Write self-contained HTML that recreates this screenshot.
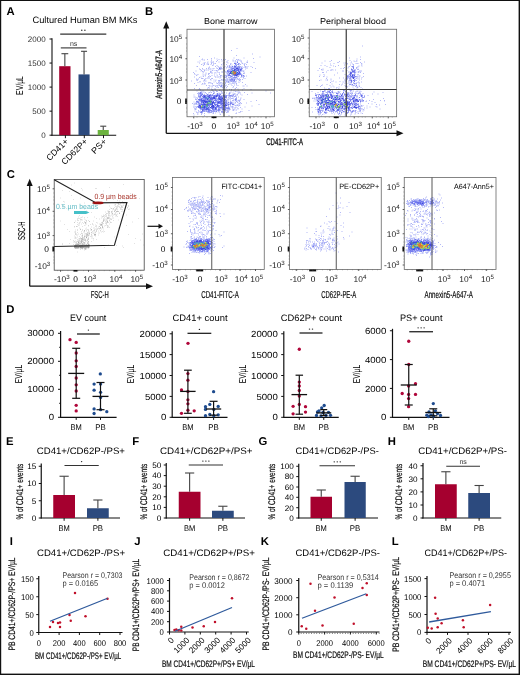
<!DOCTYPE html>
<html><head><meta charset="utf-8"><style>
html,body{margin:0;padding:0;background:#fff;width:520px;height:675px;overflow:hidden}
svg{display:block;will-change:transform}
text{font-family:"Liberation Sans",sans-serif;text-rendering:geometricPrecision}
</style></head><body>
<svg width="520" height="675" viewBox="0 0 520 675" font-family="Liberation Sans, sans-serif"><rect x="0.00" y="0.00" width="520.00" height="1.00" fill="#111"/>
<rect x="0.00" y="0.00" width="1.20" height="675.00" fill="#111"/>
<rect x="518.60" y="0.00" width="1.40" height="675.00" fill="#111"/>
<rect x="0.00" y="673.60" width="520.00" height="1.40" fill="#111"/>
<text x="6.60" y="15.10" font-size="11.3" font-weight="bold" fill="#000">A</text>
<text x="32.50" y="23.00" font-size="9.2" textLength="105" lengthAdjust="spacingAndGlyphs">Cultured Human BM MKs</text>
<line x1="52.00" y1="38.20" x2="52.00" y2="135.70" stroke="#111" stroke-width="1.1"/>
<line x1="49.50" y1="135.20" x2="52.00" y2="135.20" stroke="#111" stroke-width="1"/>
<text x="45.60" y="138.05" font-size="8.0" text-anchor="end" fill="#333">0</text>
<line x1="49.50" y1="111.15" x2="52.00" y2="111.15" stroke="#111" stroke-width="1"/>
<text x="45.60" y="114.00" font-size="8.0" text-anchor="end" fill="#333">500</text>
<line x1="49.50" y1="87.10" x2="52.00" y2="87.10" stroke="#111" stroke-width="1"/>
<text x="45.60" y="89.95" font-size="8.0" text-anchor="end" fill="#333">1000</text>
<line x1="49.50" y1="63.05" x2="52.00" y2="63.05" stroke="#111" stroke-width="1"/>
<text x="45.60" y="65.90" font-size="8.0" text-anchor="end" fill="#333">1500</text>
<line x1="49.50" y1="39.00" x2="52.00" y2="39.00" stroke="#111" stroke-width="1"/>
<text x="45.60" y="41.85" font-size="8.0" text-anchor="end" fill="#333">2000</text>
<line x1="51.50" y1="135.20" x2="116.20" y2="135.20" stroke="#111" stroke-width="1.1"/>
<rect x="59.20" y="66.20" width="11.30" height="69.00" fill="#A5002F"/>
<rect x="78.50" y="74.40" width="11.10" height="60.80" fill="#2C4A7E"/>
<rect x="97.70" y="130.00" width="11.10" height="5.20" fill="#6CB33F"/>
<line x1="64.85" y1="66.20" x2="64.85" y2="53.70" stroke="#444" stroke-width="1.1"/>
<line x1="61.45" y1="53.70" x2="68.25" y2="53.70" stroke="#444" stroke-width="1.1"/>
<line x1="84.05" y1="74.40" x2="84.05" y2="51.30" stroke="#444" stroke-width="1.1"/>
<line x1="81.05" y1="51.30" x2="87.05" y2="51.30" stroke="#444" stroke-width="1.1"/>
<line x1="103.25" y1="130.00" x2="103.25" y2="126.20" stroke="#444" stroke-width="1.1"/>
<line x1="100.25" y1="126.20" x2="106.25" y2="126.20" stroke="#444" stroke-width="1.1"/>
<line x1="65.40" y1="135.20" x2="65.40" y2="138.20" stroke="#111" stroke-width="1"/>
<line x1="84.30" y1="135.20" x2="84.30" y2="138.20" stroke="#111" stroke-width="1"/>
<line x1="103.50" y1="135.20" x2="103.50" y2="138.20" stroke="#111" stroke-width="1"/>
<line x1="60.20" y1="34.20" x2="106.30" y2="34.20" stroke="#333" stroke-width="1.2"/>
<circle cx="81.80" cy="30.30" r="0.72" fill="#222"/>
<circle cx="84.90" cy="30.30" r="0.72" fill="#222"/>
<line x1="60.80" y1="47.90" x2="86.50" y2="47.90" stroke="#333" stroke-width="1.1"/>
<text x="73.60" y="46.00" font-size="7.0" text-anchor="middle" fill="#333">ns</text>
<text x="68.90" y="142.00" font-size="8.6" text-anchor="end" textLength="27.2" lengthAdjust="spacingAndGlyphs" transform="rotate(-45 68.90 142.00)">CD41+</text>
<text x="88.10" y="142.00" font-size="8.6" text-anchor="end" textLength="33" lengthAdjust="spacingAndGlyphs" transform="rotate(-45 88.10 142.00)">CD62P+</text>
<text x="107.20" y="142.00" font-size="8.6" text-anchor="end" textLength="17.5" lengthAdjust="spacingAndGlyphs" transform="rotate(-45 107.20 142.00)">PS+</text>
<text x="23.10" y="85.50" font-size="10.2" text-anchor="middle" textLength="18.9" lengthAdjust="spacingAndGlyphs" transform="rotate(-90 23.10 85.50)">EV/µL</text>
<text x="145.00" y="15.10" font-size="11.3" font-weight="bold" fill="#000">B</text>
<line x1="166.25" y1="27.00" x2="166.25" y2="133.30" stroke="#111" stroke-width="1.3"/>
<path d="M163.2 28.5 L166.25 21.3 L169.3 28.5 Z" fill="#111"/>
<line x1="166.25" y1="133.30" x2="397.00" y2="133.30" stroke="#111" stroke-width="1.3"/>
<path d="M396.5 130.3 L403.5 133.3 L396.5 136.3 Z" fill="#111"/>
<text x="161.60" y="74.40" font-size="9.4" text-anchor="middle" textLength="48.5" lengthAdjust="spacingAndGlyphs" transform="rotate(-90 161.60 74.40)" stroke="#222" stroke-width="0.3">Annexin5-A647-A</text>
<text x="266.30" y="144.60" font-size="9.6" textLength="36.6" lengthAdjust="spacingAndGlyphs" stroke="#222" stroke-width="0.35">CD41-FITC-A</text>
<path transform="scale(0.5)" fill="none" stroke="#A8AEF6" stroke-opacity="0.85" stroke-width="2" d="M473 97h2m-13 4h2m40 7h2m-34 3h2m-76 2h2m119 1h2m-93 2h2m37 0h2m18 0h2m-67 1h2m82 0h2m-104 1h2m27 0h2m-32 1h2m9 0h2m21 0h2m3 0h2m2 0h2m2 0h2m20 0h2m2 0h2m-73 1h2m1 0h2m12 0h2m41 0h2m7 0h2m3 0h2m-47 1h2m11 0h2m6 0h2m20 0h2m-80 1h2m21 0h2m19 0h2m20 0h2m0 0h2m1 0h2m-2 0h2m2 0h2m4 0h2m0 0h2m10 0h2m-64 1h2m40 0h2m-81 1h2m18 0h2m4 0h2m2 0h2m-1 0h2m9 0h2m13 0h2m0 0h2m17 0h2m7 0h2m9 0h2m-86 1h2m12 0h2m22 0h2m20 0h2m22 0h2m-1 0h2m11 0h2m-111 1h2m7 0h2m5 0h2m6 0h2m22 0h2m7 0h2m26 0h2m-77 1h2m12 0h2m3 0h2m1 0h2m29 0h2m14 0h2m-1 0h2m4 0h2m3 0h2m-86 1h2m6 0h2m1 0h2m8 0h2m17 0h2m-1 0h2m12 0h2m8 0h2m15 0h2m-87 1h2m4 0h2m5 0h2m-1 0h2m3 0h2m19 0h2m8 0h2m6 0h2m12 0h2m-1 0h2m-1 0h2m1 0h2m-1 0h2m6 0h2m2 0h2m-68 1h2m35 0h2m5 0h2m-66 1h2m16 0h2m7 0h2m23 0h2m12 0h2m14 0h2m-47 1h2m9 0h2m1 0h2m0 0h2m7 0h2m1 0h2m-80 1h2m-1 0h2m34 0h2m3 0h2m12 0h2m3 0h2m3 0h2m4 0h2m8 0h2m3 0h2m1 0h2m4 0h2m-1 0h2m-1 0h2m2 0h2m4 0h2m-85 1h2m16 0h2m2 0h2m17 0h2m2 0h2m3 0h2m5 0h2m-60 1h2m19 0h2m6 0h2m-1 0h2m4 0h2m2 0h2m10 0h2m16 0h2m1 0h2m12 0h2m-74 1h2m5 0h2m-1 0h2m10 0h2m10 0h2m8 0h2m5 0h2m9 0h2m0 0h2m-92 1h2m6 0h2m2 0h2m7 0h2m0 0h2m5 0h2m9 0h2m17 0h2m16 0h2m0 0h2m24 0h2m-114 1h2m19 0h2m-2 0h2m0 0h2m18 0h2m0 0h2m12 0h2m4 0h2m10 0h2m13 0h2m-92 1h2m3 0h2m29 0h2m0 0h2m-32 1h2m1 0h2m0 0h2m1 0h2m7 0h2m9 0h2m8 0h2m11 0h2m21 0h2m-1 0h2m-83 1h2m4 0h2m14 0h2m3 0h2m1 0h2m-1 0h2m13 0h2m6 0h2m1 0h2m19 0h2m3 0h2m-96 1h2m8 0h2m5 0h2m11 0h2m10 0h2m19 0h2m25 0h2m4 0h2m-85 1h2m14 0h2m27 0h2m0 0h2m30 0h2m1 0h2m-83 1h2m-1 0h2m14 0h2m10 0h2m7 0h2m-2 0h2m0 0h2m-61 1h2m32 0h2m7 0h2m6 0h2m12 0h2m48 0h2m-92 1h2m9 0h2m0 0h2m5 0h2m5 0h2m12 0h2m33 0h2m-1 0h2m-102 1h2m26 0h2m0 0h2m35 0h2m29 0h2m-1 0h2m-84 1h2m4 0h2m15 0h2m-41 1h2m4 0h2m19 0h2m20 0h2m39 0h2m0 0h2m-2 0h2m0 0h2m-92 1h2m12 0h2m1 0h2m21 0h2m16 0h2m-61 1h2m29 0h2m15 0h2m0 0h2m6 0h2m3 0h2m6 0h2m-60 1h2m3 0h2m6 0h2m8 0h2m4 0h2m4 0h2m3 0h2m1 0h2m-2 0h2m9 0h2m27 0h2m2 0h2m-88 1h2m8 0h2m2 0h2m15 0h2m8 0h2m3 0h2m10 0h2m9 0h2m-1 0h2m-2 0h2m4 0h2m1 0h2m-1 0h2m0 0h2m-102 1h2m11 0h2m27 0h2m-1 0h2m7 0h2m-1 0h2m7 0h2m8 0h2m-1 0h2m22 0h2m-89 1h2m35 0h2m11 0h2m1 0h2m-2 0h2m7 0h2m4 0h2m1 0h2m10 0h2m3 0h2m-74 1h2m0 0h2m0 0h2m19 0h2m6 0h2m3 0h2m3 0h2m3 0h2m22 0h2m-86 1h2m0 0h2m-1 0h2m4 0h2m9 0h2m0 0h2m40 0h2m6 0h2m13 0h2m-99 1h2m2 0h2m12 0h2m41 0h2m-1 0h2m13 0h2m1 0h2m1 0h2m1 0h2m-2 0h2m-87 1h2m13 0h2m10 0h2m20 0h2m-1 0h2m1 0h2m-1 0h2m4 0h2m0 0h2m2 0h2m-1 0h2m1 0h2m4 0h2m4 0h2m-1 0h2m2 0h2m2 0h2m-92 1h2m25 0h2m4 0h2m2 0h2m9 0h2m2 0h2m2 0h2m-2 0h2m6 0h2m-1 0h2m-68 1h2m13 0h2m26 0h2m0 0h2m-2 0h2m-1 0h2m4 0h2m-1 0h2m9 0h2m19 0h2m-2 0h2m-98 1h2m22 0h2m1 0h2m0 0h2m17 0h2m6 0h2m10 0h2m7 0h2m7 0h2m2 0h2m3 0h2m1 0h2m-83 1h2m36 0h2m13 0h2m1 0h2m4 0h2m-1 0h2m3 0h2m1 0h2m-73 1h2m26 0h2m24 0h2m-2 0h2m0 0h2m8 0h2m3 0h2m-1 0h2m-78 1h2m20 0h2m0 0h2m15 0h2m3 0h2m-2 0h2m7 0h2m25 0h2m5 0h2m-78 1h2m6 0h2m1 0h2m0 0h2m9 0h2m4 0h2m-1 0h2m4 0h2m12 0h2m3 0h2m0 0h2m0 0h2m-1 0h2m-83 1h2m14 0h2m3 0h2m12 0h2m-1 0h2m8 0h2m5 0h2m2 0h2m3 0h2m13 0h2m5 0h2m-67 1h2m0 0h2m13 0h2m10 0h2m0 0h2m19 0h2m1 0h2m8 0h2m-71 1h2m43 0h2m6 0h2m32 0h2m-51 1h2m8 0h2m15 0h2m2 0h2m-82 1h2m18 0h2m3 0h2m7 0h2m1 0h2m2 0h2m2 0h2m-1 0h2m9 0h2m0 0h2m10 0h2m10 0h2m-59 1h2m1 0h2m1 0h2m7 0h2m-1 0h2m6 0h2m0 0h2m0 0h2m37 0h2m0 0h2m4 0h2m-65 1h2m8 0h2m5 0h2m0 0h2m3 0h2m10 0h2m-45 1h2m16 0h2m-27 1h2m15 0h2m1 0h2m6 0h2m-1 0h2m1 0h2m2 0h2m11 0h2m5 0h2m-59 1h2m1 0h2m-32 1h2m8 0h2m70 0h2m15 0h2m-75 1h2m6 0h2m4 0h2m0 0h2m13 0h2m4 0h2m16 0h2m4 0h2m-80 1h2m0 0h2m57 0h2m2 0h2m37 0h2m-103 1h2m20 0h2m0 0h2m-2 0h2m-1 0h2m3 0h2m7 0h2m21 0h2m20 0h2m-81 1h2m31 0h2m11 0h2m1 0h2m-63 1h2m6 0h2m22 0h2m5 0h2m7 0h2m24 0h2m7 0h2m53 0h2m-107 1h2m4 0h2m0 0h2m6 0h2m26 0h2m1 0h2m-73 1h2m-1 0h2m0 0h2m0 0h2m11 0h2m6 0h2m13 0h2m16 0h2m15 0h2m-83 1h2m11 0h2m6 0h2m2 0h2m3 0h2m19 0h2m-2 0h2m8 0h2m19 0h2m7 0h2m-94 1h2m1 0h2m8 0h2m5 0h2m10 0h2m7 0h2m3 0h2m0 0h2m6 0h2m6 0h2m3 0h2m8 0h2m-1 0h2m-1 0h2m24 0h2m35 0h2m-148 1h2m3 0h2m11 0h2m13 0h2m6 0h2m4 0h2m2 0h2m11 0h2m-2 0h2m-64 1h2m34 0h2m5 0h2m15 0h2m9 0h2m-1 0h2m-1 0h2m-2 0h2m9 0h2m-62 1h2m2 0h2m5 0h2m3 0h2m28 0h2m-2 0h2m5 0h2m-1 0h2m18 0h2m-109 1h2m30 0h2m1 0h2m0 0h2m13 0h2m9 0h2m5 0h2m4 0h2m1 0h2m15 0h2m-89 1h2m12 0h2m4 0h2m14 0h2m18 0h2m4 0h2m0 0h2m3 0h2m6 0h2m-75 1h2m45 0h2m3 0h2m-58 1h2m36 0h2m21 0h2m-1 0h2m0 0h2m2 0h2m-2 0h2m2 0h2m-1 0h2m-84 1h2m0 0h2m7 0h2m43 0h2m15 0h2m5 0h2m3 0h2m2 0h2m-85 1h2m2 0h2m4 0h2m51 0h2m14 0h2m-83 1h2m72 0h2m14 0h2m-89 1h2m66 0h2m0 0h2m5 0h2m-83 1h2m56 0h2m3 0h2m1 0h2m1 0h2m5 0h2m4 0h2m6 0h2m-92 1h2m0 0h2m4 0h2m55 0h2m12 0h2m16 0h2m-96 1h2m51 0h2m7 0h2m3 0h2m7 0h2m-1 0h2m5 0h2m1 0h2m-34 1h2m2 0h2m10 0h2m0 0h2m8 0h2m0 0h2m32 0h2m-121 1h2m60 0h2m15 0h2m0 0h2m1 0h2m-1 0h2m-84 1h2m28 0h2m5 0h2m37 0h2m-2 0h2m4 0h2m21 0h2m-116 1h2m55 0h2m9 0h2m8 0h2m2 0h2m-77 1h2m8 0h2m53 0h2m2 0h2m5 0h2m2 0h2m4 0h2m-86 1h2m51 0h2m5 0h2m7 0h2m10 0h2m13 0h2m-110 1h2m5 0h2m52 0h2m5 0h2m6 0h2m7 0h2m7 0h2m-1 0h2m1 0h2m-97 1h2m-1 0h2m-1 0h2m2 0h2m51 0h2m13 0h2m3 0h2m9 0h2m-88 1h2m0 0h2m2 0h2m43 0h2m11 0h2m7 0h2m51 0h2m-132 1h2m7 0h2m58 0h2m10 0h2m3 0h2m-1 0h2m1 0h2m0 0h2m-11 1h2m1 0h2m-1 0h2m2 0h2m-42 1h2m11 0h2m12 0h2m4 0h2m3 0h2m25 0h2m-114 1h2m2 0h2m64 0h2m0 0h2m-1 0h2m-80 1h2m0 0h2m1 0h2m39 0h2m1 0h2m11 0h2m6 0h2m1 0h2m4 0h2m22 0h2m-99 1h2m69 0h2m4 0h2m2 0h2m5 0h2m-63 1h2m34 0h2m1 0h2m4 0h2m-1 0h2m3 0h2m-83 1h2m-2 0h2m0 0h2m5 0h2m39 0h2m9 0h2m0 0h2m-1 0h2m2 0h2m16 0h2m-47 1h2m21 0h2m2 0h2m-1 0h2m-1 0h2m7 0h2m5 0h2m6 0h2m-96 1h2m-1 0h2m-1 0h2m7 0h2m13 0h2m10 0h2m18 0h2m10 0h2m5 0h2m-68 1h2m18 0h2m11 0h2m3 0h2m13 0h2m9 0h2m3 0h2m1 0h2m-78 1h2m34 0h2m3 0h2m14 0h2m11 0h2m29 0h2m-110 1h2m16 0h2m12 0h2m0 0h2m1 0h2m15 0h2m2 0h2m2 0h2m-56 1h2m3 0h2m4 0h2m2 0h2m10 0h2m3 0h2m-1 0h2m10 0h2m10 0h2m0 0h2m22 0h2m1 0h2m-93 1h2m3 0h2m34 0h2m2 0h2m-1 0h2m5 0h2m7 0h2m-63 1h2m0 0h2m3 0h2m-1 0h2m12 0h2m4 0h2m3 0h2m14 0h2m0 0h2m-2 0h2m-1 0h2m1 0h2m2 0h2m1 0h2m20 0h2m0 0h2m-79 1h2m13 0h2m11 0h2m13 0h2m25 0h2m-88 1h2m20 0h2m15 0h2m-1 0h2m43 0h2m-79 1h2m-1 0h2m42 0h2m-39 1h2m36 0h2m-55 1h2m19 1h2m47 0h2"/>
<path transform="scale(0.5)" fill="none" stroke="#7078EE" stroke-opacity="0.9" stroke-width="2" d="M474 125h2m-2 0h2m-8 2h2m-1 0h2m0 0h2m-3 1h2m-2 0h2m4 0h2m-2 0h2m-6 2h2m-6 2h2m2 0h2m3 0h2m-15 1h2m3 0h2m6 0h2m-21 1h2m3 0h2m5 0h2m-2 0h2m3 0h2m0 0h2m-10 1h2m2 0h2m2 0h2m-37 1h2m16 0h2m0 0h2m2 0h2m0 0h2m1 0h2m5 0h2m-2 0h2m-1 0h2m1 0h2m-1 0h2m-47 1h2m-2 0h2m23 0h2m-1 0h2m0 0h2m1 0h2m2 0h2m-35 1h2m27 0h2m1 0h2m2 0h2m3 0h2m-26 1h2m2 0h2m0 0h2m3 0h2m-1 0h2m3 0h2m-1 0h2m3 0h2m-1 0h2m-1 0h2m-22 1h2m15 0h2m-27 1h2m13 0h2m-2 0h2m5 0h2m3 0h2m-27 1h2m1 0h2m0 0h2m2 0h2m3 0h2m3 0h2m-1 0h2m0 0h2m-26 1h2m3 0h2m-2 0h2m-1 0h2m14 0h2m-1 0h2m-25 1h2m0 0h2m-2 0h2m1 0h2m-1 0h2m1 0h2m0 0h2m9 0h2m2 0h2m-25 2h2m1 0h2m1 0h2m-2 0h2m3 0h2m1 0h2m1 0h2m-2 0h2m0 0h2m0 0h2m-21 1h2m-2 0h2m0 0h2m-1 0h2m-1 0h2m5 0h2m3 0h2m3 0h2m-28 1h2m2 0h2m11 0h2m2 0h2m4 0h2m-26 1h2m4 0h2m13 0h2m-1 0h2m-2 0h2m-25 1h2m0 0h2m5 0h2m-2 0h2m4 0h2m0 0h2m2 0h2m-23 1h2m0 0h2m-1 0h2m6 0h2m-1 0h2m12 0h2m-1 0h2m1 0h2m-36 1h2m1 0h2m3 0h2m6 0h2m5 0h2m5 0h2m-22 1h2m5 1h2m1 0h2m-1 0h2m-18 1h2m8 0h2m2 0h2m-9 1h2m3 0h2m-2 0h2m-12 2h2m1 0h2m-1 0h2m-2 1h2m0 0h2m1 0h2m-9 1h2m1 0h2m1 0h2m-16 1h2m6 0h2m5 0h2m-9 1h2m1 0h2m0 0h2m-1 0h2m-13 2h2m-1 0h2m-16 6h2m-4 2h2m-1 0h2m-44 13h2m-1 0h2m-4 2h2m-1 0h2m1 0h2m21 0h2m6 0h2m-39 1h2m2 0h2m0 0h2m33 0h2m18 0h2m-56 1h2m8 0h2m18 0h2m4 0h2m-45 1h2m1 0h2m-1 0h2m-1 0h2m-1 0h2m2 0h2m-1 0h2m3 0h2m1 0h2m1 0h2m-1 0h2m3 0h2m7 0h2m-1 0h2m2 0h2m5 0h2m17 0h2m-65 1h2m2 0h2m0 0h2m1 0h2m10 0h2m0 0h2m1 0h2m-2 0h2m4 0h2m1 0h2m-2 0h2m-2 0h2m7 0h2m7 0h2m2 0h2m0 0h2m-64 1h2m-1 0h2m-1 0h2m6 0h2m-1 0h2m-1 0h2m0 0h2m-1 0h2m-1 0h2m0 0h2m3 0h2m1 0h2m2 0h2m-2 0h2m11 0h2m1 0h2m-2 0h2m-1 0h2m0 0h2m-2 0h2m1 0h2m-2 0h2m-2 0h2m9 0h2m1 0h2m3 0h2m-75 1h2m0 0h2m-1 0h2m2 0h2m0 0h2m6 0h2m5 0h2m6 0h2m-2 0h2m-1 0h2m-1 0h2m-1 0h2m3 0h2m-2 0h2m-1 0h2m2 0h2m-44 1h2m9 0h2m-2 0h2m3 0h2m1 0h2m-1 0h2m4 0h2m3 0h2m7 0h2m6 0h2m-2 0h2m0 0h2m-2 0h2m0 0h2m-55 1h2m5 0h2m0 0h2m-1 0h2m0 0h2m0 0h2m6 0h2m6 0h2m6 0h2m5 0h2m2 0h2m-1 0h2m0 0h2m-48 1h2m-1 0h2m1 0h2m-2 0h2m0 0h2m2 0h2m0 0h2m-2 0h2m1 0h2m0 0h2m1 0h2m5 0h2m7 0h2m1 0h2m-1 0h2m4 0h2m6 0h2m-62 1h2m2 0h2m-2 0h2m4 0h2m5 0h2m2 0h2m3 0h2m-2 0h2m0 0h2m0 0h2m2 0h2m1 0h2m0 0h2m4 0h2m2 0h2m21 0h2m-72 1h2m-1 0h2m-1 0h2m2 0h2m9 0h2m1 0h2m0 0h2m3 0h2m0 0h2m-2 0h2m4 0h2m-1 0h2m0 0h2m0 0h2m-47 1h2m-1 0h2m-1 0h2m2 0h2m-1 0h2m5 0h2m2 0h2m-2 0h2m3 0h2m1 0h2m9 0h2m8 0h2m2 0h2m-1 0h2m-1 0h2m-1 0h2m19 0h2m-74 1h2m9 0h2m-1 0h2m1 0h2m2 0h2m3 0h2m-1 0h2m0 0h2m2 0h2m-2 0h2m-1 0h2m1 0h2m1 0h2m1 0h2m-2 0h2m2 0h2m-1 0h2m1 0h2m20 0h2m-1 0h2m-74 1h2m1 0h2m0 0h2m0 0h2m-1 0h2m1 0h2m-1 0h2m0 0h2m1 0h2m3 0h2m-2 0h2m5 0h2m1 0h2m-1 0h2m6 0h2m-2 0h2m-1 0h2m5 0h2m1 0h2m-56 1h2m-2 0h2m1 0h2m3 0h2m8 0h2m1 0h2m1 0h2m7 0h2m4 0h2m5 0h2m4 0h2m0 0h2m-61 1h2m0 0h2m9 0h2m6 0h2m11 0h2m6 0h2m0 0h2m0 0h2m1 0h2m2 0h2m4 0h2m-59 1h2m5 0h2m-1 0h2m-2 0h2m-2 0h2m-1 0h2m0 0h2m5 0h2m-2 0h2m-1 0h2m16 0h2m-1 0h2m2 0h2m1 0h2m1 0h2m-1 0h2m1 0h2m1 0h2m1 0h2m6 0h2m-1 0h2m-67 1h2m9 0h2m0 0h2m1 0h2m-2 0h2m0 0h2m4 0h2m3 0h2m-1 0h2m0 0h2m0 0h2m6 0h2m11 0h2m-2 0h2m3 0h2m-67 1h2m-1 0h2m3 0h2m-2 0h2m4 0h2m10 0h2m12 0h2m-2 0h2m3 0h2m-2 0h2m0 0h2m2 0h2m0 0h2m-1 0h2m0 0h2m2 0h2m-1 0h2m1 0h2m6 0h2m-1 0h2m-63 1h2m3 0h2m0 0h2m10 0h2m12 0h2m0 0h2m-2 0h2m-1 0h2m-1 0h2m0 0h2m11 0h2m5 0h2m1 0h2m-68 1h2m-1 0h2m-1 0h2m5 0h2m-1 0h2m7 0h2m1 0h2m3 0h2m-2 0h2m2 0h2m3 0h2m5 0h2m-1 0h2m-2 0h2m6 0h2m0 0h2m4 0h2m-57 1h2m0 0h2m-2 0h2m1 0h2m0 0h2m0 0h2m10 0h2m3 0h2m0 0h2m-1 0h2m-2 0h2m-2 0h2m-2 0h2m1 0h2m6 0h2m-2 0h2m2 0h2m2 0h2m1 0h2m1 0h2m-2 0h2m1 0h2m3 0h2m0 0h2m-70 1h2m0 0h2m-2 0h2m2 0h2m11 0h2m-1 0h2m10 0h2m1 0h2m0 0h2m6 0h2m4 0h2m0 0h2m7 0h2m-65 1h2m8 0h2m-2 0h2m0 0h2m0 0h2m-1 0h2m1 0h2m2 0h2m3 0h2m-1 0h2m0 0h2m1 0h2m3 0h2m2 0h2m5 0h2m1 0h2m-2 0h2m1 0h2m1 0h2m-59 1h2m-1 0h2m-1 0h2m-1 0h2m14 0h2m14 0h2m0 0h2m1 0h2m-1 0h2m2 0h2m-2 0h2m0 0h2m-1 0h2m-1 0h2m0 0h2m-1 0h2m-57 1h2m1 0h2m-2 0h2m9 0h2m3 0h2m2 0h2m3 0h2m-1 0h2m0 0h2m0 0h2m2 0h2m9 0h2m4 0h2m-56 1h2m-1 0h2m6 0h2m0 0h2m9 0h2m4 0h2m1 0h2m-2 0h2m1 0h2m5 0h2m7 0h2m9 0h2m-61 1h2m0 0h2m1 0h2m-1 0h2m-1 0h2m10 0h2m2 0h2m7 0h2m-1 0h2m0 0h2m1 0h2m1 0h2m0 0h2m-2 0h2m-2 0h2m0 0h2m-1 0h2m-1 0h2m1 0h2m1 0h2m-1 0h2m-52 1h2m0 0h2m3 0h2m1 0h2m0 0h2m0 0h2m1 0h2m7 0h2m-2 0h2m15 0h2m-1 0h2m6 0h2m-2 0h2m0 0h2m0 0h2m-59 1h2m7 0h2m3 0h2m9 0h2m-2 0h2m3 0h2m-1 0h2m4 0h2m4 0h2m0 0h2m2 0h2m4 0h2m0 0h2m-54 1h2m6 0h2m1 0h2m1 0h2m3 0h2m-2 0h2m-1 0h2m4 0h2m3 0h2m1 0h2m0 0h2m2 0h2m-1 0h2m1 0h2m-48 1h2m-2 0h2m0 0h2m1 0h2m0 0h2m-1 0h2m-1 0h2m-1 0h2m1 0h2m7 0h2m2 0h2m-2 0h2m5 0h2m0 0h2m4 0h2m0 0h2m-1 0h2m0 0h2m-1 0h2m-45 1h2m0 0h2m1 0h2m1 0h2m1 0h2m5 0h2m-1 0h2m5 0h2m1 0h2m-1 0h2m16 0h2m0 0h2m-55 1h2m-1 0h2m0 0h2m7 0h2m1 0h2m-2 0h2m0 0h2m6 0h2m4 0h2m2 0h2m8 0h2m-46 1h2m8 0h2m1 0h2m2 0h2m-1 0h2m2 0h2m-2 0h2m7 0h2m6 0h2m3 0h2m-48 1h2m-2 0h2m0 0h2m2 0h2m2 0h2m1 0h2m9 0h2m3 0h2m9 0h2m-45 1h2m13 0h2m0 0h2m-1 0h2m-1 0h2m2 0h2m-23 1h2m-1 0h2m16 0h2m-20 1h2"/>
<path transform="scale(0.5)" fill="none" stroke="#4048DC" stroke-width="2" d="M469 133h2m2 3h2m-3 1h2m0 0h2m0 1h2m-9 1h2m-2 0h2m6 0h2m-14 1h2m1 0h2m2 0h2m6 0h2m-17 1h2m0 0h2m-1 0h2m3 0h2m0 0h2m-13 1h2m0 0h2m-1 0h2m-7 1h2m5 0h2m0 0h2m-8 1h2m-1 0h2m0 0h2m0 0h2m-1 0h2m5 0h2m-20 1h2m6 0h2m-1 0h2m-1 0h2m1 0h2m-1 0h2m2 0h2m-17 1h2m3 0h2m-11 1h2m-1 0h2m-1 0h2m0 0h2m2 0h2m-1 0h2m0 0h2m-1 0h2m-1 0h2m3 0h2m-2 0h2m-8 1h2m0 0h2m1 0h2m-11 1h2m-2 0h2m0 0h2m-1 0h2m-1 0h2m1 0h2m-1 0h2m-8 1h2m-1 0h2m-1 0h2m-2 1h2m-1 0h2m-1 0h2m-57 40h2m-1 0h2m10 0h2m0 0h2m-28 1h2m24 0h2m3 0h2m-32 1h2m-2 0h2m-1 0h2m6 0h2m8 0h2m3 0h2m5 0h2m-25 1h2m0 0h2m-13 1h2m1 0h2m-1 0h2m5 0h2m5 0h2m-1 0h2m0 0h2m7 0h2m2 0h2m-21 1h2m1 0h2m1 0h2m-1 0h2m6 0h2m2 0h2m-32 1h2m1 0h2m0 0h2m9 0h2m-2 0h2m-1 0h2m14 0h2m-33 1h2m-2 0h2m0 0h2m-2 0h2m-2 0h2m3 0h2m-1 0h2m1 0h2m11 0h2m-1 0h2m-1 0h2m-2 0h2m1 0h2m-1 0h2m-44 1h2m4 0h2m5 0h2m23 0h2m-1 0h2m-1 0h2m-44 1h2m2 1h2m2 0h2m-2 0h2m10 0h2m22 0h2m-42 1h2m0 0h2m1 0h2m7 0h2m0 0h2m21 0h2m-37 1h2m-1 0h2m0 0h2m0 0h2m2 0h2m-1 0h2m0 0h2m-2 0h2m-2 0h2m-1 0h2m0 0h2m15 0h2m-38 1h2m7 0h2m0 0h2m-2 0h2m-1 0h2m2 0h2m2 0h2m-2 0h2m0 0h2m-1 0h2m13 0h2m2 0h2m-41 1h2m2 0h2m12 0h2m0 0h2m7 0h2m-1 0h2m1 0h2m-34 1h2m5 0h2m5 0h2m0 0h2m23 0h2m-35 1h2m-2 0h2m0 0h2m5 0h2m1 0h2m14 0h2m0 0h2m-44 1h2m5 0h2m0 0h2m3 0h2m0 0h2m1 0h2m-1 0h2m-1 0h2m-2 0h2m-19 1h2m-1 0h2m1 0h2m-1 0h2m0 0h2m-2 0h2m-1 0h2m3 0h2m-1 0h2m-20 1h2m1 0h2m1 0h2m0 0h2m1 0h2m6 0h2m20 0h2m4 0h2m-54 1h2m12 0h2m-1 0h2m0 0h2m7 0h2m0 0h2m6 0h2m16 0h2m-54 1h2m10 0h2m0 0h2m9 0h2m7 0h2m-1 0h2m-1 0h2m11 0h2m-51 1h2m6 0h2m-2 0h2m12 0h2m-1 0h2m0 0h2m-1 0h2m-32 1h2m1 0h2m-1 0h2m2 0h2m-1 0h2m-1 0h2m2 0h2m-1 0h2m-1 0h2m9 0h2m-26 1h2m0 0h2m-1 0h2m-2 0h2m1 0h2m0 0h2m-2 0h2m-1 0h2m10 0h2m1 0h2m0 0h2m-1 0h2m-27 1h2m0 0h2m0 0h2m1 0h2m-1 0h2m2 0h2m1 0h2m5 0h2m4 0h2m-1 0h2m-19 1h2m8 0h2m-19 1h2m4 0h2m0 0h2m14 0h2m0 0h2m-17 1h2m-15 1h2m5 0h2"/>
<path transform="scale(0.5)" fill="none" stroke="#50B0C8" stroke-width="2" d="M465 141h2m0 3h2m-2 2h2m3 0h2m-63 49h2m2 1h2m-2 1h2m3 4h2m-6 3h2m0 2h2m-3 1h2m-1 0h2m1 1h2m-21 5h2m2 0h2m5 0h2m-10 1h2m6 0h2"/>
<path transform="scale(0.5)" fill="none" stroke="#70C060" stroke-width="2" d="M465 143h2m4 1h2m-10 1h2m-2 0h2m-2 1h2m1 1h2m0 0h2m-5 1h2m-48 53h2m-1 3h2m-1 0h2m-8 2h2m2 0h2m-6 1h2m-5 3h2m-1 0h2m-11 1h2m7 0h2m-13 3h2m-2 0h2"/>
<path transform="scale(0.5)" fill="none" stroke="#D8D040" stroke-width="2" d="M465 144h2m1 3h2m-68 66h2"/>
<path transform="scale(0.5)" fill="none" stroke="#E07030" stroke-width="2" d="M467 143h2m-3 1h2m2 1h2m-5 1h2m-1 0h2m0 0h2m-2 0h2m-5 2h2m0 0h2"/>
<rect x="187.00" y="29.25" width="87.40" height="87.50" fill="none" stroke="#666" stroke-width="0.8"/>
<line x1="224.00" y1="29.25" x2="224.00" y2="116.75" stroke="#3a3a3a" stroke-width="1.2"/>
<line x1="187.00" y1="90.00" x2="274.40" y2="90.00" stroke="#3a3a3a" stroke-width="1.2"/>
<text x="230.70" y="23.60" font-size="8.6" text-anchor="middle" textLength="53.5" lengthAdjust="spacingAndGlyphs">Bone marrow</text>
<text x="175.80" y="41.50" font-size="8.4" text-anchor="middle" fill="#222">10<tspan font-size="6.2" dy="-3.0">5</tspan></text>
<line x1="185.40" y1="38.00" x2="187.00" y2="38.00" stroke="#333" stroke-width="0.8"/>
<text x="175.80" y="62.25" font-size="8.4" text-anchor="middle" fill="#222">10<tspan font-size="6.2" dy="-3.0">4</tspan></text>
<line x1="185.40" y1="58.75" x2="187.00" y2="58.75" stroke="#333" stroke-width="0.8"/>
<text x="175.80" y="83.50" font-size="8.4" text-anchor="middle" fill="#222">10<tspan font-size="6.2" dy="-3.0">3</tspan></text>
<line x1="185.40" y1="80.00" x2="187.00" y2="80.00" stroke="#333" stroke-width="0.8"/>
<text x="179.00" y="104.25" font-size="8.4" text-anchor="middle">0</text>
<line x1="185.40" y1="101.25" x2="187.00" y2="101.25" stroke="#333" stroke-width="0.8"/>
<text x="194.95" y="129.00" font-size="8.4" text-anchor="middle" fill="#222">-10<tspan font-size="6.2" dy="-3.0">3</tspan></text>
<line x1="193.75" y1="116.75" x2="193.75" y2="118.35" stroke="#333" stroke-width="0.8"/>
<text x="233.20" y="129.00" font-size="8.4" text-anchor="middle" fill="#222">10<tspan font-size="6.2" dy="-3.0">3</tspan></text>
<line x1="232.00" y1="116.75" x2="232.00" y2="118.35" stroke="#333" stroke-width="0.8"/>
<text x="251.20" y="129.00" font-size="8.4" text-anchor="middle" fill="#222">10<tspan font-size="6.2" dy="-3.0">4</tspan></text>
<line x1="250.00" y1="116.75" x2="250.00" y2="118.35" stroke="#333" stroke-width="0.8"/>
<text x="267.20" y="129.00" font-size="8.4" text-anchor="middle" fill="#222">10<tspan font-size="6.2" dy="-3.0">5</tspan></text>
<line x1="266.00" y1="116.75" x2="266.00" y2="118.35" stroke="#333" stroke-width="0.8"/>
<text x="213.75" y="129.00" font-size="8.4" text-anchor="middle">0</text>
<line x1="213.75" y1="116.75" x2="213.75" y2="118.35" stroke="#333" stroke-width="0.8"/>
<line x1="186.10" y1="44.00" x2="187.00" y2="44.00" stroke="#666" stroke-width="0.5"/>
<line x1="186.10" y1="48.00" x2="187.00" y2="48.00" stroke="#666" stroke-width="0.5"/>
<line x1="186.10" y1="51.00" x2="187.00" y2="51.00" stroke="#666" stroke-width="0.5"/>
<line x1="186.10" y1="65.00" x2="187.00" y2="65.00" stroke="#666" stroke-width="0.5"/>
<line x1="186.10" y1="69.00" x2="187.00" y2="69.00" stroke="#666" stroke-width="0.5"/>
<line x1="186.10" y1="72.00" x2="187.00" y2="72.00" stroke="#666" stroke-width="0.5"/>
<line x1="186.10" y1="86.00" x2="187.00" y2="86.00" stroke="#666" stroke-width="0.5"/>
<line x1="186.10" y1="92.00" x2="187.00" y2="92.00" stroke="#666" stroke-width="0.5"/>
<line x1="186.10" y1="108.00" x2="187.00" y2="108.00" stroke="#666" stroke-width="0.5"/>
<line x1="186.10" y1="112.00" x2="187.00" y2="112.00" stroke="#666" stroke-width="0.5"/>
<line x1="197.00" y1="116.75" x2="197.00" y2="117.65" stroke="#666" stroke-width="0.5"/>
<line x1="203.00" y1="116.75" x2="203.00" y2="117.65" stroke="#666" stroke-width="0.5"/>
<line x1="207.00" y1="116.75" x2="207.00" y2="117.65" stroke="#666" stroke-width="0.5"/>
<line x1="236.00" y1="116.75" x2="236.00" y2="117.65" stroke="#666" stroke-width="0.5"/>
<line x1="240.00" y1="116.75" x2="240.00" y2="117.65" stroke="#666" stroke-width="0.5"/>
<line x1="243.00" y1="116.75" x2="243.00" y2="117.65" stroke="#666" stroke-width="0.5"/>
<line x1="254.00" y1="116.75" x2="254.00" y2="117.65" stroke="#666" stroke-width="0.5"/>
<line x1="258.00" y1="116.75" x2="258.00" y2="117.65" stroke="#666" stroke-width="0.5"/>
<line x1="261.00" y1="116.75" x2="261.00" y2="117.65" stroke="#666" stroke-width="0.5"/>
<line x1="270.00" y1="116.75" x2="270.00" y2="117.65" stroke="#666" stroke-width="0.5"/>
<rect x="185.20" y="98.50" width="1.60" height="5.50" fill="#111"/>
<rect x="211.50" y="116.55" width="5.00" height="1.60" fill="#111"/>
<path transform="scale(0.5)" fill="none" stroke="#A8AEF6" stroke-opacity="0.85" stroke-width="2" d="M724 92h2m-6 22h2m-24 2h2m13 2h2m5 1h2m-60 2h2m35 0h2m-52 1h2m56 0h2m3 0h2m-1 0h2m-56 1h2m17 0h2m29 0h2m-9 1h2m24 0h2m-55 1h2m-2 0h2m43 0h2m-79 1h2m42 0h2m1 0h2m9 0h2m-36 1h2m25 0h2m15 0h2m0 0h2m0 0h2m5 0h2m-64 1h2m42 0h2m17 0h2m-32 1h2m11 0h2m-20 1h2m10 0h2m4 0h2m14 0h2m-83 1h2m6 0h2m10 0h2m13 0h2m-12 1h2m38 0h2m9 0h2m4 0h2m-72 1h2m15 0h2m26 0h2m15 0h2m-21 1h2m7 0h2m-48 1h2m27 0h2m-2 0h2m15 0h2m5 0h2m-1 0h2m-20 1h2m18 0h2m-79 1h2m41 0h2m3 0h2m24 0h2m-69 1h2m-5 1h2m19 0h2m49 0h2m0 0h2m-75 1h2m0 0h2m14 0h2m2 0h2m3 0h2m38 0h2m-77 1h2m18 0h2m4 0h2m30 0h2m26 0h2m-39 1h2m0 0h2m21 0h2m7 0h2m-4 1h2m3 0h2m-71 1h2m42 0h2m15 0h2m4 0h2m-77 1h2m0 0h2m57 0h2m3 0h2m4 0h2m2 0h2m-48 1h2m50 1h2m-81 2h2m40 0h2m17 0h2m5 0h2m-78 1h2m27 0h2m45 0h2m-24 1h2m-47 1h2m68 0h2m-1 0h2m-83 1h2m6 0h2m64 0h2m1 0h2m9 0h2m-75 1h2m45 0h2m21 1h2m-47 1h2m6 0h2m4 0h2m-1 0h2m-2 0h2m20 0h2m1 0h2m-68 1h2m58 0h2m-53 1h2m52 0h2m5 0h2m-15 1h2m-70 1h2m8 0h2m1 0h2m-2 0h2m5 0h2m25 0h2m12 0h2m14 0h2m-82 1h2m51 0h2m-2 0h2m5 0h2m12 0h2m-48 1h2m28 0h2m-35 1h2m14 0h2m10 0h2m-22 1h2m12 0h2m0 0h2m1 0h2m10 0h2m3 0h2m7 0h2m4 0h2m-64 1h2m-2 0h2m35 0h2m14 0h2m2 1h2m-1 0h2m-31 1h2m4 0h2m-34 1h2m19 0h2m12 0h2m12 0h2m-61 1h2m23 0h2m19 0h2m0 0h2m6 0h2m-67 1h2m36 0h2m33 0h2m-86 1h2m7 0h2m15 0h2m28 0h2m12 0h2m0 0h2m-42 1h2m25 0h2m3 0h2m12 0h2m5 0h2m-80 1h2m48 0h2m1 0h2m15 0h2m6 0h2m-59 1h2m4 0h2m8 0h2m15 0h2m9 0h2m8 0h2m-44 1h2m39 0h2m5 0h2m-75 1h2m22 0h2m-18 1h2m0 0h2m-9 1h2m23 0h2m-1 0h2m18 0h2m8 0h2m4 0h2m9 0h2m-93 1h2m11 0h2m8 0h2m7 0h2m9 0h2m10 0h2m6 0h2m-1 0h2m21 0h2m-73 1h2m-2 0h2m37 0h2m-4 1h2m4 0h2m5 0h2m0 0h2m-1 0h2m-64 1h2m8 0h2m35 0h2m14 0h2m1 0h2m5 0h2m0 0h2m2 0h2m-98 1h2m21 0h2m28 0h2m1 0h2m9 0h2m21 0h2m6 0h2m-60 1h2m21 0h2m4 0h2m16 0h2m6 0h2m27 0h2m-114 1h2m14 0h2m16 0h2m7 0h2m85 0h2m-113 1h2m10 0h2m4 0h2m-2 0h2m29 0h2m6 0h2m-83 1h2m53 0h2m13 0h2m2 0h2m3 0h2m2 0h2m1 0h2m7 0h2m-85 1h2m0 0h2m19 0h2m12 0h2m22 0h2m10 0h2m27 0h2m9 0h2m-126 1h2m55 0h2m4 0h2m6 0h2m17 0h2m-86 1h2m1 0h2m33 0h2m45 0h2m-88 1h2m31 0h2m4 0h2m8 0h2m32 0h2m7 0h2m5 0h2m-56 1h2m21 0h2m8 0h2m-84 1h2m94 0h2m-17 1h2m8 0h2m-42 1h2m8 0h2m-70 1h2m85 0h2m1 0h2m-93 1h2m1 0h2m57 0h2m78 0h2m-140 1h2m29 0h2m-30 1h2m85 0h2m26 0h2m-116 1h2m57 0h2m28 0h2m-28 1h2m41 0h2m20 0h2m6 0h2m-143 1h2m2 0h2m93 0h2m4 0h2m34 0h2m-70 1h2m14 0h2m7 0h2m4 0h2m10 0h2m-107 1h2m109 1h2m-119 2h2m102 0h2m-104 1h2m80 0h2m2 0h2m21 0h2m7 1h2m16 0h2m-14 1h2m-124 1h2m84 0h2m1 0h2m-24 1h2m28 0h2m-87 1h2m69 0h2m2 0h2m26 0h2m-14 1h2m12 0h2m-132 1h2m5 0h2m68 0h2m14 0h2m-84 1h2m1 0h2m89 0h2m3 0h2m-14 1h2m0 0h2m34 1h2m-130 1h2m90 0h2m1 0h2m-44 1h2m41 0h2m-35 1h2m10 0h2m3 0h2m-68 1h2m11 0h2m2 0h2m3 0h2m10 0h2m26 0h2m9 0h2m0 0h2m3 0h2m-68 1h2m22 0h2m3 0h2m6 0h2m4 0h2m11 0h2m-93 1h2m14 0h2m20 0h2m6 0h2m18 0h2m-1 0h2m9 0h2m-67 1h2m3 0h2m9 0h2m11 0h2m6 0h2m-2 0h2m7 0h2m26 0h2m-78 1h2m64 0h2m7 0h2m3 0h2m4 0h2m-73 1h2m-2 0h2m11 0h2m10 0h2m13 0h2m24 0h2m6 0h2m-90 1h2m9 0h2m19 0h2m7 0h2m23 0h2m5 0h2m-72 1h2m3 0h2m30 0h2m3 0h2m-46 1h2m50 0h2m-1 0h2m8 0h2m-23 1h2m-39 1h2"/>
<path transform="scale(0.5)" fill="none" stroke="#7078EE" stroke-opacity="0.9" stroke-width="2" d="M703 133h2m0 0h2m-2 0h2m-1 2h2m-2 2h2m-6 1h2m-2 1h2m-1 0h2m-2 0h2m2 1h2m0 0h2m-8 1h2m-1 1h2m1 0h2m-5 1h2m0 0h2m-9 1h2m0 0h2m1 0h2m0 0h2m1 0h2m-9 1h2m4 0h2m-10 1h2m0 2h2m4 0h2m-1 0h2m-12 1h2m3 0h2m-9 1h2m-4 1h2m3 0h2m6 0h2m-10 1h2m2 0h2m-12 1h2m14 0h2m-12 1h2m0 0h2m1 0h2m-1 0h2m-1 0h2m4 0h2m-20 1h2m7 0h2m-11 1h2m2 0h2m-2 0h2m5 0h2m-2 0h2m1 0h2m-12 1h2m-10 1h2m1 0h2m5 0h2m-4 1h2m7 1h2m-2 0h2m-9 1h2m-2 0h2m3 0h2m1 0h2m-12 1h2m2 0h2m3 1h2m-8 1h2m-3 1h2m3 1h2m0 1h2m1 0h2m-12 1h2m-4 1h2m3 0h2m1 2h2m3 0h2m-22 2h2m-2 1h2m19 0h2m-61 5h2m-8 1h2m10 1h2m25 0h2m-34 1h2m1 0h2m4 0h2m34 0h2m-58 1h2m1 0h2m6 0h2m0 0h2m4 0h2m-19 1h2m10 0h2m-2 0h2m15 0h2m-24 1h2m2 0h2m1 0h2m2 0h2m20 0h2m-44 1h2m15 0h2m13 0h2m16 0h2m0 0h2m1 0h2m2 0h2m12 0h2m0 0h2m-49 1h2m0 0h2m8 0h2m-42 1h2m0 0h2m-1 0h2m5 0h2m3 0h2m-1 0h2m18 0h2m6 0h2m4 0h2m0 0h2m22 0h2m-87 1h2m1 0h2m-2 0h2m43 0h2m-1 0h2m5 0h2m17 0h2m-81 1h2m27 0h2m12 0h2m8 0h2m2 0h2m0 0h2m5 0h2m-2 0h2m24 0h2m-95 1h2m0 0h2m6 0h2m-1 0h2m2 0h2m-2 0h2m4 0h2m-1 0h2m2 0h2m3 0h2m-2 0h2m2 0h2m5 0h2m-1 0h2m19 0h2m3 0h2m2 0h2m3 0h2m0 0h2m11 0h2m-81 1h2m0 0h2m3 0h2m2 0h2m3 0h2m-1 0h2m-1 0h2m3 0h2m3 0h2m4 0h2m13 0h2m11 0h2m0 0h2m1 0h2m0 0h2m6 0h2m-1 0h2m0 0h2m-90 1h2m8 0h2m7 0h2m7 0h2m-2 0h2m7 0h2m4 0h2m2 0h2m0 0h2m4 0h2m-2 0h2m2 0h2m-1 0h2m1 0h2m0 0h2m-51 1h2m13 0h2m7 0h2m8 0h2m7 0h2m5 0h2m4 0h2m18 0h2m-97 1h2m-2 0h2m3 0h2m0 0h2m0 0h2m2 0h2m2 0h2m5 0h2m3 0h2m0 0h2m2 0h2m29 0h2m7 0h2m8 0h2m5 0h2m-2 0h2m-98 1h2m1 0h2m2 0h2m-1 0h2m14 0h2m14 0h2m6 0h2m27 0h2m-73 1h2m1 0h2m0 0h2m2 0h2m7 0h2m-2 0h2m1 0h2m23 0h2m-1 0h2m1 0h2m4 0h2m1 0h2m-1 0h2m2 0h2m3 0h2m0 0h2m-71 1h2m5 0h2m21 0h2m4 0h2m5 0h2m15 0h2m5 0h2m0 0h2m2 0h2m11 0h2m-78 1h2m17 0h2m4 0h2m2 0h2m11 0h2m7 0h2m0 0h2m0 0h2m10 0h2m2 0h2m-86 1h2m0 0h2m0 0h2m15 0h2m8 0h2m1 0h2m-2 0h2m4 0h2m4 0h2m0 0h2m5 0h2m15 0h2m0 0h2m4 0h2m-1 0h2m3 0h2m2 0h2m-92 1h2m16 0h2m4 0h2m27 0h2m-1 0h2m10 0h2m5 0h2m6 0h2m2 0h2m5 0h2m-82 1h2m7 0h2m4 0h2m1 0h2m7 0h2m0 0h2m3 0h2m3 0h2m5 0h2m7 0h2m2 0h2m-1 0h2m15 0h2m-2 0h2m-77 1h2m12 0h2m16 0h2m8 0h2m2 0h2m17 0h2m5 0h2m-2 0h2m-88 1h2m-1 0h2m11 0h2m0 0h2m19 0h2m3 0h2m-1 0h2m-2 0h2m1 0h2m-1 0h2m15 0h2m8 0h2m3 0h2m5 0h2m-84 1h2m5 0h2m4 0h2m24 0h2m-1 0h2m8 0h2m19 0h2m-74 1h2m2 0h2m0 0h2m7 0h2m1 0h2m2 0h2m8 0h2m20 0h2m5 0h2m2 0h2m1 0h2m-1 0h2m-71 1h2m6 0h2m15 0h2m3 0h2m10 0h2m-1 0h2m9 0h2m3 0h2m2 0h2m8 0h2m0 0h2m-81 1h2m1 0h2m2 0h2m6 0h2m0 0h2m-1 0h2m2 0h2m3 0h2m-1 0h2m1 0h2m7 0h2m0 0h2m8 0h2m14 0h2m1 0h2m-2 0h2m9 0h2m-77 1h2m34 0h2m3 0h2m1 0h2m11 0h2m-1 0h2m4 0h2m8 0h2m-82 1h2m-2 0h2m0 0h2m7 0h2m11 0h2m6 0h2m2 0h2m33 0h2m-2 0h2m2 0h2m4 0h2m-1 0h2m-76 1h2m2 0h2m18 0h2m18 0h2m0 0h2m20 0h2m-2 0h2m-70 1h2m-1 0h2m1 0h2m4 0h2m3 0h2m13 0h2m6 0h2m2 0h2m3 0h2m7 0h2m9 0h2m0 0h2m4 0h2m2 0h2m-76 1h2m6 0h2m5 0h2m23 0h2m0 0h2m2 0h2m21 0h2m0 0h2m-82 1h2m-1 0h2m2 0h2m5 0h2m-1 0h2m4 0h2m20 0h2m0 0h2m7 0h2m1 0h2m9 0h2m1 0h2m-2 0h2m6 0h2m-1 0h2m-77 1h2m2 0h2m10 0h2m6 0h2m3 0h2m24 0h2m0 0h2m2 0h2m4 0h2m4 0h2m-77 1h2m1 0h2m10 0h2m5 0h2m5 0h2m9 0h2m0 0h2m0 0h2m2 0h2m7 0h2m1 0h2m1 0h2m7 0h2m3 0h2m-1 0h2m1 0h2m-80 1h2m1 0h2m-1 0h2m-2 0h2m2 0h2m3 0h2m8 0h2m5 0h2m15 0h2m13 0h2m5 0h2m-1 0h2m-78 1h2m0 0h2m12 0h2m-2 0h2m7 0h2m1 0h2m1 0h2m0 0h2m10 0h2m-2 0h2m3 0h2m-1 0h2m4 0h2m22 0h2m-1 0h2m-84 1h2m13 0h2m8 0h2m14 0h2m9 0h2m8 0h2m-64 1h2m0 0h2m-2 0h2m-2 0h2m1 0h2m2 0h2m9 0h2m2 0h2m3 0h2m6 0h2m-1 0h2m2 0h2m9 0h2m8 0h2m19 0h2m-81 1h2m7 0h2m1 0h2m1 0h2m8 0h2m0 0h2m11 0h2m1 0h2m11 0h2m0 0h2m4 0h2m-73 1h2m4 0h2m2 0h2m13 0h2m1 0h2m-1 0h2m7 0h2m0 0h2m16 0h2m6 0h2m7 0h2m-1 0h2m7 0h2m-85 1h2m-2 0h2m1 0h2m24 0h2m4 0h2m6 0h2m5 0h2m16 0h2m-1 0h2m-59 1h2m1 0h2m25 0h2m7 0h2m7 0h2m-62 1h2m10 0h2m0 0h2m30 0h2m11 0h2m6 0h2m-66 1h2m-1 0h2m10 0h2m28 0h2m9 0h2m-1 0h2m-18 1h2"/>
<path transform="scale(0.5)" fill="none" stroke="#4048DC" stroke-width="2" d="M705 142h2m1 0h2m-10 4h2m-1 0h2m-2 1h2m-4 1h2m-1 2h2m4 0h2m-4 1h2m-3 1h2m3 0h2m-13 1h2m4 0h2m1 2h2m-1 0h2m-4 1h2m-1 0h2m-2 1h2m-6 5h2m-51 27h2m6 0h2m30 0h2m-52 1h2m4 0h2m-1 0h2m0 0h2m2 0h2m4 0h2m9 1h2m7 0h2m8 0h2m-47 1h2m-2 0h2m2 0h2m-1 0h2m2 0h2m5 0h2m4 0h2m51 0h2m-83 1h2m0 0h2m18 0h2m-12 1h2m-1 0h2m2 0h2m11 0h2m6 0h2m0 0h2m-42 1h2m0 0h2m12 0h2m0 0h2m9 0h2m2 0h2m31 0h2m-60 1h2m12 0h2m6 0h2m12 0h2m18 0h2m-60 1h2m1 0h2m3 0h2m5 0h2m14 0h2m4 0h2m5 0h2m14 0h2m-66 1h2m-1 0h2m4 0h2m13 0h2m-1 0h2m1 0h2m1 0h2m-1 0h2m0 0h2m1 0h2m24 0h2m-63 1h2m1 0h2m8 0h2m12 0h2m5 0h2m6 0h2m25 0h2m-74 1h2m6 0h2m0 0h2m3 0h2m22 0h2m5 0h2m3 0h2m16 0h2m-1 0h2m0 0h2m-72 1h2m0 0h2m-2 0h2m6 0h2m1 0h2m1 0h2m3 0h2m16 0h2m4 0h2m22 0h2m-62 1h2m-2 0h2m7 0h2m7 0h2m0 0h2m33 0h2m3 0h2m1 0h2m-1 0h2m-81 1h2m6 0h2m20 0h2m0 0h2m6 0h2m1 0h2m25 0h2m1 0h2m5 0h2m-77 1h2m-1 0h2m0 0h2m1 0h2m2 0h2m-1 0h2m3 0h2m0 0h2m1 0h2m0 0h2m0 0h2m19 0h2m5 0h2m0 0h2m0 0h2m-57 1h2m-1 0h2m8 0h2m0 0h2m6 0h2m2 0h2m0 0h2m11 0h2m3 0h2m0 0h2m-2 0h2m2 0h2m1 0h2m-57 1h2m6 0h2m15 0h2m12 0h2m-1 0h2m5 0h2m6 0h2m3 0h2m-69 1h2m4 0h2m7 0h2m-1 0h2m0 0h2m5 0h2m0 0h2m6 0h2m13 0h2m7 0h2m-60 1h2m3 0h2m13 0h2m0 0h2m1 0h2m1 0h2m-2 0h2m5 0h2m2 0h2m6 0h2m4 0h2m3 0h2m1 0h2m0 0h2m7 0h2m-63 1h2m-2 0h2m12 0h2m4 0h2m-1 0h2m2 0h2m2 0h2m1 0h2m0 0h2m0 0h2m5 0h2m2 0h2m1 0h2m10 0h2m-63 1h2m2 0h2m-1 0h2m0 0h2m10 0h2m1 0h2m15 0h2m6 0h2m3 0h2m10 0h2m-62 1h2m7 0h2m10 0h2m-1 0h2m18 0h2m-33 1h2m1 0h2m13 0h2m0 0h2m13 0h2m-59 1h2m12 0h2m-2 0h2m1 0h2m-2 0h2m2 0h2m5 0h2m3 0h2m8 0h2m6 0h2m3 0h2m9 0h2m-71 1h2m12 0h2m11 0h2m6 0h2m1 0h2m-1 0h2m4 0h2m3 0h2m3 0h2m13 0h2m-62 1h2m3 0h2m2 0h2m-2 0h2m13 0h2m-2 0h2m0 0h2m-2 0h2m1 0h2m4 0h2m10 0h2m-2 0h2m9 0h2m1 0h2m-1 0h2m-1 0h2m-76 1h2m5 0h2m14 0h2m30 0h2m-43 1h2m-1 0h2m2 0h2m18 0h2m4 0h2m4 0h2m5 0h2m-1 0h2m-47 1h2m-1 0h2m9 0h2m26 0h2m2 0h2m-63 1h2m13 0h2m14 0h2m7 0h2m-2 0h2m-12 1h2m9 0h2m18 0h2m-23 1h2"/>
<path transform="scale(0.5)" fill="none" stroke="#50B0C8" stroke-width="2" d="M651 192h2m20 1h2m-1 3h2m-33 1h2m9 1h2m11 0h2m-20 2h2m-7 2h2m5 0h2m8 1h2m2 0h2m20 0h2m-31 1h2m0 0h2m-19 2h2m25 2h2m15 0h2m-19 2h2m-8 1h2m-25 1h2m16 0h2m1 0h2m2 0h2m9 0h2m-1 0h2m-39 1h2m21 0h2m-25 1h2m18 0h2m14 0h2m-16 1h2m-1 0h2m9 3h2"/>
<path transform="scale(0.5)" fill="none" stroke="#70C060" stroke-width="2" d="M654 192h2m17 1h2m-24 14h2m4 0h2m13 1h2m14 0h2m2 0h2m-5 1h2m-21 1h2m16 0h2m-11 2h2m-1 0h2m-40 1h2m26 0h2m4 0h2m15 0h2m-24 1h2m21 0h2m-20 1h2"/>
<path transform="scale(0.5)" fill="none" stroke="#D8D040" stroke-width="2" d="M650 208h2m35 0h2m-18 1h2m-4 2h2m-1 0h2m5 1h2m14 1h2m-21 1h2"/>
<path transform="scale(0.5)" fill="none" stroke="#E07030" stroke-width="2" d="M671 209h2m-2 1h2"/>
<rect x="309.25" y="29.25" width="87.40" height="87.50" fill="none" stroke="#666" stroke-width="0.8"/>
<line x1="346.25" y1="29.25" x2="346.25" y2="116.75" stroke="#3a3a3a" stroke-width="1.2"/>
<line x1="309.25" y1="89.50" x2="396.65" y2="89.50" stroke="#3a3a3a" stroke-width="1.2"/>
<text x="352.95" y="23.60" font-size="8.6" text-anchor="middle" textLength="66" lengthAdjust="spacingAndGlyphs">Peripheral blood</text>
<text x="298.05" y="41.50" font-size="8.4" text-anchor="middle" fill="#222">10<tspan font-size="6.2" dy="-3.0">5</tspan></text>
<line x1="307.65" y1="38.00" x2="309.25" y2="38.00" stroke="#333" stroke-width="0.8"/>
<text x="298.05" y="62.25" font-size="8.4" text-anchor="middle" fill="#222">10<tspan font-size="6.2" dy="-3.0">4</tspan></text>
<line x1="307.65" y1="58.75" x2="309.25" y2="58.75" stroke="#333" stroke-width="0.8"/>
<text x="298.05" y="83.50" font-size="8.4" text-anchor="middle" fill="#222">10<tspan font-size="6.2" dy="-3.0">3</tspan></text>
<line x1="307.65" y1="80.00" x2="309.25" y2="80.00" stroke="#333" stroke-width="0.8"/>
<text x="301.25" y="104.25" font-size="8.4" text-anchor="middle">0</text>
<line x1="307.65" y1="101.25" x2="309.25" y2="101.25" stroke="#333" stroke-width="0.8"/>
<text x="317.20" y="129.00" font-size="8.4" text-anchor="middle" fill="#222">-10<tspan font-size="6.2" dy="-3.0">3</tspan></text>
<line x1="316.00" y1="116.75" x2="316.00" y2="118.35" stroke="#333" stroke-width="0.8"/>
<text x="355.45" y="129.00" font-size="8.4" text-anchor="middle" fill="#222">10<tspan font-size="6.2" dy="-3.0">3</tspan></text>
<line x1="354.25" y1="116.75" x2="354.25" y2="118.35" stroke="#333" stroke-width="0.8"/>
<text x="373.45" y="129.00" font-size="8.4" text-anchor="middle" fill="#222">10<tspan font-size="6.2" dy="-3.0">4</tspan></text>
<line x1="372.25" y1="116.75" x2="372.25" y2="118.35" stroke="#333" stroke-width="0.8"/>
<text x="389.45" y="129.00" font-size="8.4" text-anchor="middle" fill="#222">10<tspan font-size="6.2" dy="-3.0">5</tspan></text>
<line x1="388.25" y1="116.75" x2="388.25" y2="118.35" stroke="#333" stroke-width="0.8"/>
<text x="336.00" y="129.00" font-size="8.4" text-anchor="middle">0</text>
<line x1="336.00" y1="116.75" x2="336.00" y2="118.35" stroke="#333" stroke-width="0.8"/>
<line x1="308.35" y1="44.00" x2="309.25" y2="44.00" stroke="#666" stroke-width="0.5"/>
<line x1="308.35" y1="48.00" x2="309.25" y2="48.00" stroke="#666" stroke-width="0.5"/>
<line x1="308.35" y1="51.00" x2="309.25" y2="51.00" stroke="#666" stroke-width="0.5"/>
<line x1="308.35" y1="65.00" x2="309.25" y2="65.00" stroke="#666" stroke-width="0.5"/>
<line x1="308.35" y1="69.00" x2="309.25" y2="69.00" stroke="#666" stroke-width="0.5"/>
<line x1="308.35" y1="72.00" x2="309.25" y2="72.00" stroke="#666" stroke-width="0.5"/>
<line x1="308.35" y1="86.00" x2="309.25" y2="86.00" stroke="#666" stroke-width="0.5"/>
<line x1="308.35" y1="92.00" x2="309.25" y2="92.00" stroke="#666" stroke-width="0.5"/>
<line x1="308.35" y1="108.00" x2="309.25" y2="108.00" stroke="#666" stroke-width="0.5"/>
<line x1="308.35" y1="112.00" x2="309.25" y2="112.00" stroke="#666" stroke-width="0.5"/>
<line x1="319.25" y1="116.75" x2="319.25" y2="117.65" stroke="#666" stroke-width="0.5"/>
<line x1="325.25" y1="116.75" x2="325.25" y2="117.65" stroke="#666" stroke-width="0.5"/>
<line x1="329.25" y1="116.75" x2="329.25" y2="117.65" stroke="#666" stroke-width="0.5"/>
<line x1="358.25" y1="116.75" x2="358.25" y2="117.65" stroke="#666" stroke-width="0.5"/>
<line x1="362.25" y1="116.75" x2="362.25" y2="117.65" stroke="#666" stroke-width="0.5"/>
<line x1="365.25" y1="116.75" x2="365.25" y2="117.65" stroke="#666" stroke-width="0.5"/>
<line x1="376.25" y1="116.75" x2="376.25" y2="117.65" stroke="#666" stroke-width="0.5"/>
<line x1="380.25" y1="116.75" x2="380.25" y2="117.65" stroke="#666" stroke-width="0.5"/>
<line x1="383.25" y1="116.75" x2="383.25" y2="117.65" stroke="#666" stroke-width="0.5"/>
<line x1="392.25" y1="116.75" x2="392.25" y2="117.65" stroke="#666" stroke-width="0.5"/>
<rect x="307.45" y="98.50" width="1.60" height="5.50" fill="#111"/>
<rect x="333.75" y="116.55" width="5.00" height="1.60" fill="#111"/>
<text x="6.80" y="177.90" font-size="11.3" font-weight="bold" fill="#000">C</text>
<line x1="29.70" y1="185.00" x2="29.70" y2="286.20" stroke="#111" stroke-width="1.3"/>
<path d="M26.7 186.0 L29.7 178.7 L32.7 186.0 Z" fill="#111"/>
<line x1="29.70" y1="286.20" x2="147.00" y2="286.20" stroke="#111" stroke-width="1.3"/>
<path d="M146.0 283.2 L153.0 286.2 L146.0 289.2 Z" fill="#111"/>
<text x="25.00" y="230.70" font-size="10" text-anchor="middle" textLength="18.5" lengthAdjust="spacingAndGlyphs" transform="rotate(-90 25.00 230.70)" stroke="#222" stroke-width="0.2">SSC-H</text>
<text x="99.70" y="298.20" font-size="10" text-anchor="middle" textLength="18" lengthAdjust="spacingAndGlyphs" stroke="#222" stroke-width="0.2">FSC-H</text>
<path transform="scale(0.5)" fill="none" stroke="#8a8a8a" stroke-width="1" d="M148 366h1m98 3h1m-106 1h1m76 5h1m-58 2h1m28 0h1m0 0h1m-28 3h1m-42 1h1m81 1h1m-69 1h1m121 4h1m-55 1h1m14 1h1m46 0h1m-127 2h1m-23 5h1m39 0h1m89 0h1m28 1h1m-39 1h1m7 0h1m2 0h1m-107 1h1m80 0h1m7 2h1m2 1h1m-113 1h1m118 0h1m-118 1h1m105 1h1m3 0h1m4 0h1m10 0h1m-86 1h1m65 0h1m-52 1h1m51 0h1m0 0h1m3 0h1m5 1h1m-125 1h1m106 0h1m6 0h1m1 0h1m-12 1h1m1 0h1m6 0h1m2 0h1m-7 1h1m7 0h1m4 0h1m3 0h1m4 0h1m-130 1h1m90 0h1m26 0h1m-15 1h1m2 0h1m1 0h1m5 0h1m7 0h1m5 0h1m-130 1h1m104 0h1m0 0h1m4 0h1m0 0h1m2 0h1m0 0h1m0 0h1m-82 1h1m64 0h1m5 0h1m10 0h1m9 0h1m-119 1h1m83 0h1m18 0h1m0 0h1m0 0h1m11 0h1m-122 1h1m88 0h1m0 0h1m2 0h1m5 0h1m-65 1h1m56 0h1m0 0h1m0 0h1m2 0h1m1 0h1m-1 0h1m1 0h1m23 0h1m-40 1h1m10 0h1m9 0h1m2 0h1m0 0h1m12 0h1m-30 1h1m6 0h1m-6 1h1m0 0h1m-59 1h1m41 0h1m1 0h1m6 0h1m4 0h1m14 0h1m-26 1h1m-1 0h1m3 0h1m5 0h1m-1 0h1m2 0h1m-1 0h1m1 0h1m0 0h1m-1 0h1m0 0h1m0 0h1m5 0h1m-70 1h1m35 0h1m5 0h1m0 0h1m-1 0h1m4 0h1m0 0h1m1 0h1m6 0h1m-50 1h1m35 0h1m10 0h1m-9 1h1m15 0h1m0 0h1m-27 1h1m1 0h1m1 0h1m0 0h1m6 0h1m-1 0h1m4 0h1m8 0h1m-1 0h1m-28 1h1m5 0h1m6 0h1m2 0h1m5 0h1m-24 1h1m5 0h1m10 0h1m1 0h1m-24 1h1m3 0h1m11 0h1m0 0h1m1 0h1m5 0h1m0 0h1m18 0h1m-95 1h1m49 0h1m3 0h1m3 0h1m2 0h1m-18 1h1m3 0h1m9 0h1m4 0h1m9 0h1m0 0h1m-28 1h1m0 0h1m3 0h1m1 0h1m12 0h1m8 0h1m-79 1h1m8 0h1m22 0h1m15 0h1m4 0h1m9 0h1m-58 1h1m6 0h1m4 0h1m39 0h1m-1 0h1m1 0h1m-57 1h1m41 0h1m6 0h1m2 0h1m4 0h1m-1 0h1m0 0h1m6 0h1m1 0h1m-71 1h1m1 0h1m33 0h1m12 0h1m7 0h1m0 0h1m1 0h1m3 0h1m55 0h1m-123 1h1m-1 0h1m12 0h1m29 0h1m11 0h1m3 0h1m4 0h1m3 0h1m-63 1h1m1 0h1m43 0h1m0 0h1m4 0h1m7 0h1m0 0h1m-63 1h1m1 0h1m1 0h1m6 0h1m35 0h1m29 0h1m5 0h1m-90 1h1m1 0h1m16 0h1m3 0h1m29 0h1m-1 0h1m0 0h1m4 0h1m4 0h1m8 0h1m-108 1h1m29 0h1m21 0h1m13 0h1m23 0h1m3 0h1m0 0h1m2 0h1m-51 1h1m9 0h1m-1 0h1m27 0h1m0 0h1m6 0h1m0 0h1m-55 1h1m10 0h1m32 0h1m4 0h1m2 0h1m6 0h1m43 0h1m-116 1h1m-1 0h1m4 0h1m4 0h1m4 0h1m4 0h1m0 0h1m0 0h1m21 0h1m9 0h1m1 0h1m8 0h1m0 0h1m1 0h1m3 0h1m0 0h1m-52 1h1m-1 0h1m22 0h1m9 0h1m7 0h1m-1 0h1m-55 1h1m7 0h1m4 0h1m12 0h1m19 0h1m2 0h1m2 0h1m-55 1h1m6 0h1m8 0h1m26 0h1m0 0h1m1 0h1m10 0h1m4 0h1m-91 1h1m25 0h1m25 0h1m3 0h1m16 0h1m0 0h1m0 0h1m-1 0h1m0 0h1m-46 1h1m11 0h1m15 0h1m2 0h1m10 0h1m10 0h1m-57 1h1m11 0h1m7 0h1m16 0h1m6 0h1m1 0h1m0 0h1m0 0h1m6 0h1m3 0h1m37 0h1m-78 1h1m32 0h1m5 0h1m0 0h1m-69 1h1m3 0h1m-1 0h1m2 0h1m8 0h1m25 0h1m2 0h1m5 0h1m-1 0h1m4 0h1m0 0h1m-58 1h1m33 0h1m14 0h1m6 0h1m10 0h1m0 0h1m-16 1h1m3 0h1m-1 0h1m8 0h1m3 0h1m-60 1h1m13 0h1m12 0h1m1 0h1m4 0h1m7 0h1m-1 0h1m-1 0h1m3 0h1m1 0h1m29 0h1m-58 1h1m13 0h1m2 0h1m1 0h1m-40 1h1m9 0h1m20 0h1m6 0h1m3 0h1m-69 1h1m19 0h1m6 0h1m-1 0h1m2 0h1m9 0h1m1 0h1m5 0h1m-1 0h1m0 0h1m4 0h1m4 0h1m1 0h1m-45 1h1m21 0h1m6 0h1m25 0h1m-53 1h1m10 0h1m2 0h1m0 0h1m-1 0h1m6 0h1m5 0h1m3 0h1m2 0h1m2 0h1m8 0h1m-29 1h1m3 0h1m11 0h1m2 0h1m4 0h1m2 0h1m-62 1h1m11 0h1m10 0h1m6 0h1m14 0h1m7 0h1m11 0h1m3 0h1m-60 1h1m16 0h1m1 0h1m8 0h1m1 0h1m6 0h1m3 0h1m12 0h1m3 0h1m-58 1h1m3 0h1m20 0h1m6 0h1m-1 0h1m8 0h1m-30 1h1m11 0h1m1 0h1m2 0h1m5 0h1m3 0h1m6 0h1m1 0h1m-49 1h1m11 0h1m1 0h1m6 0h1m1 0h1m1 0h1m3 0h1m-1 0h1m7 0h1m-37 1h1m1 0h1m2 0h1m11 0h1m3 0h1m4 0h1m0 0h1m4 0h1m6 0h1m94 0h1m-135 1h1m8 0h1m12 0h1m0 0h1m0 0h1m6 0h1m6 0h1m-1 0h1m-1 0h1m0 0h1m-1 0h1m0 0h1m65 0h1m-105 1h1m0 0h1m10 0h1m-1 0h1m4 0h1m1 0h1m1 0h1m-1 0h1m2 0h1m1 0h1m9 0h1m7 0h1m-33 1h1m7 0h1m3 0h1m4 0h1m5 0h1m2 0h1m-44 1h1m13 0h1m1 0h1m3 0h1m0 0h1m2 0h1m2 0h1m-1 0h1m1 0h1m6 0h1m5 0h1m-32 1h1m5 0h1m3 0h1m1 0h1m1 0h1m7 0h1m1 0h1m-33 1h1m3 0h1m12 0h1m0 0h1m2 0h1m56 0h1m-65 1h1m1 0h1m4 0h1m-1 0h1m-1 0h1m0 0h1m2 0h1m-28 1h1m0 0h1m-1 0h1m2 0h1m6 0h1m0 0h1m3 0h1m-1 0h1m2 0h1m3 0h1m10 0h1m1 0h1m-28 1h1m3 0h1m0 0h1m0 0h1m2 0h1m8 0h1m9 0h1m83 0h1m-115 1h1m1 0h1m1 0h1m2 0h1m-1 0h1m0 0h1m3 0h1m0 0h1m1 0h1m3 0h1m0 0h1m0 0h1m-37 1h1m12 0h1m9 0h1m-1 0h1m1 0h1m4 0h1m5 0h1m14 0h1m-35 1h1m4 0h1m-1 0h1m0 0h1m1 0h1m0 0h1m1 0h1m0 0h1m3 0h1m0 0h1m10 0h1m94 0h1m-135 1h1m8 0h1m1 0h1m3 0h1m0 0h1m1 0h1m2 0h1m2 0h1m2 0h1m-24 1h1m3 0h1m4 0h1m9 0h1m0 0h1m1 0h1m-25 1h1m4 0h1m2 0h1m1 0h1m0 0h1m1 0h1m0 0h1m-1 0h1m1 0h1m-1 0h1m0 0h1m10 0h1m-1 0h1m5 0h1m-38 1h1m2 0h1m2 0h1m-1 0h1m3 0h1m0 0h1m5 0h1m11 0h1m0 0h1m-26 1h1m4 0h1m0 0h1m-1 0h1m-1 0h1m0 0h1m3 0h1m0 0h1m2 0h1m0 0h1m0 0h1m0 0h1m4 0h1m-22 1h1m7 0h1m-1 0h1m0 0h1m-1 0h1m1 0h1m4 0h1m1 0h1m5 0h1m-1 0h1m-40 1h1m13 0h1m2 0h1m1 0h1m1 0h1m-1 0h1m0 0h1m3 0h1m1 0h1m2 0h1m4 0h1m0 0h1m92 0h1m-145 1h1m0 0h1m25 0h1m2 0h1m1 0h1m-1 0h1m8 0h1m-1 0h1m2 0h1m8 0h1m-31 1h1m5 0h1m-1 0h1m0 0h1m-1 0h1m1 0h1m0 0h1m-1 0h1m1 0h1m3 0h1m1 0h1m0 0h1m0 0h1m5 0h1m2 0h1m-1 0h1m0 0h1m-1 0h1m0 0h1m-29 1h1m-1 0h1m-1 0h1m0 0h1m0 0h1m0 0h1m0 0h1m-1 0h1m0 0h1m1 0h1m0 0h1m1 0h1m-1 0h1m0 0h1m2 0h1m0 0h1m0 0h1m2 0h1m-1 0h1m-1 0h1m0 0h1m0 0h1m0 0h1m0 0h1m-1 0h1m0 0h1m0 0h1m1 0h1m0 0h1m38 0h1m69 0h1m-140 1h1m0 0h1m-1 0h1m-1 0h1m0 0h1m-1 0h1m-1 0h1m0 0h1m-1 0h1m0 0h1m0 0h1m-1 0h1m-1 0h1m0 0h1m0 0h1m-1 0h1m0 0h1m1 0h1m-1 0h1m-1 0h1m-1 0h1m0 0h1m0 0h1m-1 0h1m0 0h1m-1 0h1m-1 0h1m0 0h1m-1 0h1m-1 0h1m0 0h1m-1 0h1m-1 0h1m-1 0h1m-1 0h1m0 0h1m-1 0h1m-1 0h1m0 0h1m-1 0h1m0 0h1m0 0h1m0 0h1m-1 0h1m1 0h1m-1 0h1m-1 0h1m0 0h1m0 0h1m-1 0h1m-1 0h1m0 0h1m0 0h1m-1 0h1m-1 0h1m-1 0h1m-1 0h1m0 0h1m-1 0h1m0 0h1m-1 0h1m0 0h1m0 0h1m54 0h1m-84 1h1m-1 0h1m0 0h1m-1 0h1m-1 0h1m-1 0h1m0 0h1m-1 0h1m-1 0h1m-1 0h1m-1 0h1m-1 0h1m0 0h1m-1 0h1m-1 0h1m0 0h1m-1 0h1m1 0h1m-1 0h1m0 0h1m-1 0h1m0 0h1m-1 0h1m-1 0h1m0 0h1m-1 0h1m-1 0h1m0 0h1m-1 0h1m-1 0h1m-1 0h1m0 0h1m-1 0h1m-1 0h1m-1 0h1m0 0h1m-1 0h1m-1 0h1m-1 0h1m0 0h1m-1 0h1m0 0h1m-1 0h1m-1 0h1m-1 0h1m-1 0h1m0 0h1m-1 0h1m-1 0h1m0 0h1m-1 0h1m-1 0h1m1 0h1m0 0h1m-1 0h1m-1 0h1m-1 0h1m0 0h1m0 0h1m-1 0h1m1 0h1m-1 0h1m0 0h1m0 0h1m0 0h1m-1 0h1m-1 0h1m0 0h1m-1 0h1m-1 0h1m-1 0h1m-1 0h1m0 0h1m-1 0h1m-1 0h1m-1 0h1m-1 0h1m66 0h1m-98 1h1m-1 0h1m0 0h1m-1 0h1m-1 0h1m0 0h1m-1 0h1m0 0h1m-1 0h1m0 0h1m0 0h1m1 0h1m-1 0h1m0 0h1m-1 0h1m-1 0h1m0 0h1m0 0h1m-1 0h1m-1 0h1m0 0h1m-1 0h1m-1 0h1m-1 0h1m0 0h1m-1 0h1m0 0h1m-1 0h1m-1 0h1m-1 0h1m0 0h1m-1 0h1m-1 0h1m-1 0h1m-1 0h1m0 0h1m-1 0h1m0 0h1m-1 0h1m0 0h1m-1 0h1m-1 0h1m-1 0h1m0 0h1m-1 0h1m-1 0h1m0 0h1m-1 0h1m-1 0h1m-1 0h1m0 0h1m-1 0h1m-1 0h1m0 0h1m0 0h1m-1 0h1m-1 0h1m0 0h1m-1 0h1m-1 0h1m0 0h1m-1 0h1m0 0h1m0 0h1m-1 0h1m-1 0h1m0 0h1m-1 0h1m-1 0h1m0 0h1m-1 0h1m0 0h1m-30 1h1m-1 0h1m-1 0h1m0 0h1m-1 0h1m-1 0h1m0 0h1m0 0h1m-1 0h1m-1 0h1m-1 0h1m-1 0h1m-1 0h1m-1 0h1m0 0h1m0 0h1m-1 0h1m-1 0h1m0 0h1m-1 0h1m-1 0h1m0 0h1m-1 0h1m-1 0h1m0 0h1m-1 0h1m-1 0h1m-1 0h1m0 0h1m-1 0h1m0 0h1m-1 0h1m-1 0h1m0 0h1m0 0h1m-1 0h1m-1 0h1m-1 0h1m-1 0h1m-1 0h1m0 0h1m-1 0h1m-1 0h1m-1 0h1m-1 0h1m-1 0h1m0 0h1m-1 0h1m-1 0h1m0 0h1m-1 0h1m-1 0h1m0 0h1m-1 0h1m-1 0h1m-1 0h1m0 0h1m-1 0h1m0 0h1m0 0h1m0 0h1m0 0h1m-1 0h1m-1 0h1m-1 0h1m-1 0h1m0 0h1m0 0h1m0 0h1m-1 0h1m-1 0h1m-1 0h1m-1 0h1m0 0h1m1 0h1m-1 0h1m-1 0h1m-1 0h1m0 0h1m-1 0h1m-1 0h1m0 0h1m-1 0h1m0 0h1m-30 1h1m0 0h1m0 0h1m0 0h1m-1 0h1m0 0h1m-1 0h1m0 0h1m-1 0h1m0 0h1m0 0h1m-1 0h1m0 0h1m2 0h1m0 0h1m-1 0h1m-1 0h1m1 0h1m-1 0h1m-1 0h1m0 0h1m0 0h1m-1 0h1m-1 0h1m0 0h1m-1 0h1m0 0h1m2 0h1m0 0h1m0 0h1m1 0h1m1 0h1m-1 0h1m0 0h1m-1 0h1m-1 0h1m0 0h1m30 0h1m37 0h1m-100 1h1m2 0h1m0 0h1m0 0h1m0 0h1m-1 0h1m1 0h1m-1 0h1m0 0h1m1 0h1m1 0h1m1 0h1m-1 0h1m-1 0h1m-1 0h1m0 0h1m2 0h1m0 0h1m0 0h1m0 0h1m0 0h1m-1 0h1m0 0h1m0 0h1m0 0h1m-25 1h1m0 0h1m0 0h1m1 0h1m9 0h1m-1 0h1m3 0h1m2 0h1m4 0h1m-16 1h1m-1 0h1m3 0h1m2 0h1m1 0h1m0 0h1m0 0h1m-3 1h1m-3 1h1m-15 4h1"/>
<rect x="54.20" y="179.50" width="90.00" height="90.70" fill="none" stroke="#444" stroke-width="0.8"/>
<path d="M54.2 179.8 L96.2 202.9 L126.9 202.5 L114.4 245.2 L54.2 246.5" fill="none" stroke="#222" stroke-width="1.1"/>
<ellipse cx="98" cy="202.9" rx="5.6" ry="1.4" fill="#9B1010"/>
<path d="M74 211 L86 211 L89.5 212.5 L86 214 L74 214 Z" fill="#45C0C8"/>
<text x="94.60" y="199.30" font-size="7.4" fill="#A8342A" textLength="42.0" lengthAdjust="spacingAndGlyphs">0.9 µm beads</text>
<text x="56.00" y="208.90" font-size="7.4" fill="#62BCC6" textLength="42.1" lengthAdjust="spacingAndGlyphs">0.5 µm beads</text>
<text x="43.50" y="191.70" font-size="8.4" text-anchor="middle" fill="#222">10<tspan font-size="6.2" dy="-3.0">5</tspan></text>
<line x1="52.60" y1="188.80" x2="54.20" y2="188.80" stroke="#333" stroke-width="0.8"/>
<text x="43.50" y="214.20" font-size="8.4" text-anchor="middle" fill="#222">10<tspan font-size="6.2" dy="-3.0">4</tspan></text>
<line x1="52.60" y1="211.30" x2="54.20" y2="211.30" stroke="#333" stroke-width="0.8"/>
<text x="43.50" y="238.50" font-size="8.4" text-anchor="middle" fill="#222">10<tspan font-size="6.2" dy="-3.0">3</tspan></text>
<line x1="52.60" y1="235.60" x2="54.20" y2="235.60" stroke="#333" stroke-width="0.8"/>
<text x="46.70" y="251.70" font-size="8.4" text-anchor="middle">0</text>
<line x1="53.30" y1="193.00" x2="54.20" y2="193.00" stroke="#666" stroke-width="0.5"/>
<line x1="53.30" y1="197.00" x2="54.20" y2="197.00" stroke="#666" stroke-width="0.5"/>
<line x1="53.30" y1="200.00" x2="54.20" y2="200.00" stroke="#666" stroke-width="0.5"/>
<line x1="53.30" y1="204.00" x2="54.20" y2="204.00" stroke="#666" stroke-width="0.5"/>
<line x1="53.30" y1="216.00" x2="54.20" y2="216.00" stroke="#666" stroke-width="0.5"/>
<line x1="53.30" y1="220.00" x2="54.20" y2="220.00" stroke="#666" stroke-width="0.5"/>
<line x1="53.30" y1="223.00" x2="54.20" y2="223.00" stroke="#666" stroke-width="0.5"/>
<line x1="53.30" y1="227.00" x2="54.20" y2="227.00" stroke="#666" stroke-width="0.5"/>
<line x1="53.30" y1="240.00" x2="54.20" y2="240.00" stroke="#666" stroke-width="0.5"/>
<line x1="53.30" y1="244.00" x2="54.20" y2="244.00" stroke="#666" stroke-width="0.5"/>
<line x1="53.30" y1="253.00" x2="54.20" y2="253.00" stroke="#666" stroke-width="0.5"/>
<line x1="53.30" y1="257.00" x2="54.20" y2="257.00" stroke="#666" stroke-width="0.5"/>
<line x1="53.30" y1="260.00" x2="54.20" y2="260.00" stroke="#666" stroke-width="0.5"/>
<line x1="53.30" y1="263.00" x2="54.20" y2="263.00" stroke="#666" stroke-width="0.5"/>
<line x1="57.50" y1="270.20" x2="57.50" y2="271.10" stroke="#666" stroke-width="0.5"/>
<line x1="62.70" y1="270.20" x2="62.70" y2="271.10" stroke="#666" stroke-width="0.5"/>
<line x1="67.90" y1="270.20" x2="67.90" y2="271.10" stroke="#666" stroke-width="0.5"/>
<line x1="73.10" y1="270.20" x2="73.10" y2="271.10" stroke="#666" stroke-width="0.5"/>
<line x1="78.30" y1="270.20" x2="78.30" y2="271.10" stroke="#666" stroke-width="0.5"/>
<line x1="83.50" y1="270.20" x2="83.50" y2="271.10" stroke="#666" stroke-width="0.5"/>
<line x1="88.70" y1="270.20" x2="88.70" y2="271.10" stroke="#666" stroke-width="0.5"/>
<line x1="93.90" y1="270.20" x2="93.90" y2="271.10" stroke="#666" stroke-width="0.5"/>
<line x1="99.10" y1="270.20" x2="99.10" y2="271.10" stroke="#666" stroke-width="0.5"/>
<line x1="104.30" y1="270.20" x2="104.30" y2="271.10" stroke="#666" stroke-width="0.5"/>
<line x1="109.50" y1="270.20" x2="109.50" y2="271.10" stroke="#666" stroke-width="0.5"/>
<line x1="114.70" y1="270.20" x2="114.70" y2="271.10" stroke="#666" stroke-width="0.5"/>
<line x1="119.90" y1="270.20" x2="119.90" y2="271.10" stroke="#666" stroke-width="0.5"/>
<line x1="125.10" y1="270.20" x2="125.10" y2="271.10" stroke="#666" stroke-width="0.5"/>
<line x1="130.30" y1="270.20" x2="130.30" y2="271.10" stroke="#666" stroke-width="0.5"/>
<line x1="135.50" y1="270.20" x2="135.50" y2="271.10" stroke="#666" stroke-width="0.5"/>
<line x1="140.70" y1="270.20" x2="140.70" y2="271.10" stroke="#666" stroke-width="0.5"/>
<text x="42.50" y="268.80" font-size="8.4" text-anchor="middle" fill="#222">-10<tspan font-size="6.2" dy="-3.0">3</tspan></text>
<text x="61.80" y="282.40" font-size="8.4" text-anchor="middle" fill="#222">-10<tspan font-size="6.2" dy="-3.0">3</tspan></text>
<line x1="60.60" y1="270.20" x2="60.60" y2="271.80" stroke="#333" stroke-width="0.8"/>
<text x="89.70" y="282.40" font-size="8.4" text-anchor="middle" fill="#222">10<tspan font-size="6.2" dy="-3.0">3</tspan></text>
<line x1="88.50" y1="270.20" x2="88.50" y2="271.80" stroke="#333" stroke-width="0.8"/>
<text x="116.00" y="282.40" font-size="8.4" text-anchor="middle" fill="#222">10<tspan font-size="6.2" dy="-3.0">4</tspan></text>
<line x1="114.80" y1="270.20" x2="114.80" y2="271.80" stroke="#333" stroke-width="0.8"/>
<text x="136.80" y="282.40" font-size="8.4" text-anchor="middle" fill="#222">10<tspan font-size="6.2" dy="-3.0">5</tspan></text>
<line x1="135.60" y1="270.20" x2="135.60" y2="271.80" stroke="#333" stroke-width="0.8"/>
<text x="75.60" y="282.40" font-size="8.4" text-anchor="middle">0</text>
<rect x="52.40" y="246.50" width="1.80" height="5.00" fill="#111"/>
<rect x="73.50" y="270.00" width="4.00" height="1.60" fill="#111"/>
<line x1="147.50" y1="226.30" x2="160.00" y2="226.30" stroke="#111" stroke-width="1.2"/>
<path d="M158.5 223.8 L163 226.3 L158.5 228.8 Z" fill="#111"/>
<path transform="scale(0.5)" fill="none" stroke="#A8AEF6" stroke-opacity="0.85" stroke-width="2" d="M440 391h2m-37 1h2m37 0h2m-47 1h2m21 0h2m-28 1h2m26 0h2m-41 1h2m1 0h2m1 0h2m11 0h2m9 0h2m-29 1h2m-1 0h2m29 0h2m-40 1h2m43 0h2m-26 1h2m1 0h2m14 0h2m6 0h2m-54 1h2m17 0h2m1 0h2m17 0h2m4 0h2m0 0h2m11 0h2m-52 1h2m2 0h2m39 0h2m-61 1h2m-1 0h2m8 0h2m-1 0h2m-1 0h2m11 0h2m8 0h2m1 0h2m6 0h2m-44 1h2m11 0h2m10 0h2m4 0h2m20 0h2m-56 1h2m-1 0h2m3 0h2m14 0h2m0 0h2m12 0h2m3 0h2m-1 0h2m-50 1h2m3 0h2m11 0h2m-2 0h2m1 0h2m1 0h2m4 0h2m-1 0h2m-2 0h2m5 0h2m-1 0h2m-2 0h2m-1 0h2m-1 0h2m-2 0h2m3 0h2m-48 1h2m9 0h2m2 0h2m5 0h2m1 0h2m-1 0h2m0 0h2m4 0h2m-2 0h2m26 0h2m-62 1h2m4 0h2m8 0h2m8 0h2m-1 0h2m10 0h2m14 0h2m-52 1h2m-2 0h2m2 0h2m-1 0h2m5 0h2m2 0h2m7 0h2m3 0h2m3 0h2m2 0h2m-1 0h2m-1 0h2m-46 1h2m3 0h2m3 0h2m5 0h2m0 0h2m-1 0h2m2 0h2m-29 1h2m4 0h2m2 0h2m2 0h2m-1 0h2m-1 0h2m9 0h2m-1 0h2m11 0h2m-2 0h2m0 0h2m-1 0h2m-43 1h2m-1 0h2m0 0h2m1 0h2m-1 0h2m1 0h2m0 0h2m-2 0h2m1 0h2m-1 0h2m-1 0h2m1 0h2m1 0h2m8 0h2m-1 0h2m-2 0h2m0 0h2m0 0h2m6 0h2m-1 0h2m-46 1h2m4 0h2m10 0h2m0 0h2m0 0h2m7 0h2m1 0h2m-32 1h2m2 0h2m1 0h2m1 0h2m0 0h2m7 0h2m6 0h2m3 0h2m-1 0h2m2 0h2m-42 1h2m3 0h2m1 0h2m1 0h2m-2 0h2m12 0h2m5 0h2m0 0h2m0 0h2m6 0h2m0 0h2m-58 1h2m4 0h2m3 0h2m-2 0h2m7 0h2m3 0h2m-1 0h2m3 0h2m0 0h2m4 0h2m1 0h2m1 0h2m3 0h2m-1 0h2m4 0h2m-63 1h2m-2 0h2m9 0h2m0 0h2m11 0h2m0 0h2m14 0h2m-1 0h2m-1 0h2m1 0h2m-1 0h2m-40 1h2m4 0h2m0 0h2m3 0h2m-1 0h2m-1 0h2m-2 0h2m2 0h2m0 0h2m-1 0h2m2 0h2m4 0h2m0 0h2m2 0h2m4 0h2m-59 1h2m6 0h2m5 0h2m0 0h2m3 0h2m9 0h2m3 0h2m-1 0h2m-1 0h2m5 0h2m5 0h2m-43 1h2m4 0h2m11 0h2m6 0h2m-1 0h2m-1 0h2m-1 0h2m0 0h2m-1 0h2m5 0h2m0 0h2m0 0h2m1 0h2m-65 1h2m9 0h2m7 0h2m-1 0h2m-1 0h2m2 0h2m-1 0h2m-1 0h2m9 0h2m0 0h2m-1 0h2m9 0h2m4 0h2m-53 1h2m2 0h2m3 0h2m9 0h2m3 0h2m-1 0h2m7 0h2m0 0h2m4 0h2m5 0h2m-54 1h2m1 0h2m18 0h2m4 0h2m1 0h2m3 0h2m2 0h2m2 0h2m11 0h2m-53 1h2m0 0h2m11 0h2m-2 0h2m0 0h2m11 0h2m-1 0h2m1 0h2m6 0h2m-50 1h2m5 0h2m8 0h2m7 0h2m-1 0h2m-1 0h2m2 0h2m3 0h2m-1 0h2m-2 0h2m14 0h2m-38 1h2m0 0h2m10 0h2m3 0h2m-1 0h2m2 0h2m3 0h2m7 0h2m-1 0h2m-49 1h2m29 0h2m-36 1h2m14 0h2m9 0h2m-1 0h2m8 0h2m0 0h2m-42 1h2m-2 0h2m-1 0h2m2 0h2m0 0h2m5 0h2m17 0h2m5 0h2m6 0h2m-1 0h2m-2 0h2m6 0h2m-45 1h2m0 0h2m0 0h2m4 0h2m0 0h2m22 0h2m13 0h2m-50 1h2m-1 0h2m5 0h2m2 0h2m-23 1h2m15 0h2m10 0h2m0 0h2m-34 1h2m-1 0h2m23 0h2m1 0h2m-34 1h2m14 0h2m1 0h2m3 0h2m-36 1h2m32 0h2m11 0h2m15 0h2m-50 1h2m6 0h2m18 0h2m-20 1h2m10 0h2m8 0h2m-37 1h2m14 0h2m15 0h2m-45 1h2m10 0h2m11 0h2m-21 1h2m19 0h2m19 0h2m-19 1h2m-2 0h2m1 0h2m8 0h2m-39 1h2m15 0h2m0 1h2m-8 1h2m16 0h2m5 0h2m-43 1h2m17 0h2m3 0h2m4 0h2m-35 1h2m34 0h2m-25 1h2m-2 0h2m5 0h2m5 0h2m6 0h2m2 0h2m4 0h2m2 0h2m-3 1h2m-2 0h2m-53 1h2m14 0h2m-2 0h2m11 0h2m-14 1h2m-2 0h2m5 0h2m13 0h2m-31 1h2m1 0h2m17 0h2m5 0h2m1 0h2m-1 0h2m-25 2h2m3 0h2m11 0h2m8 0h2m-1 0h2m-49 1h2m44 0h2m-1 0h2m-50 1h2m11 0h2m13 0h2m9 0h2m6 0h2m-42 1h2m25 0h2m-22 1h2m2 0h2m5 0h2m14 0h2m-28 1h2m6 0h2m5 0h2m-22 1h2m10 0h2m0 0h2m21 0h2m-15 1h2m12 0h2m-48 1h2m5 0h2m-1 0h2m-2 0h2m9 0h2m-5 1h2m6 0h2m0 0h2m16 0h2m-46 1h2m27 0h2m-2 0h2m4 0h2m1 0h2m0 0h2m9 0h2m-45 1h2m-1 0h2m4 0h2m-23 1h2m4 0h2m34 0h2m-17 1h2m10 0h2m1 0h2m29 0h2m-68 1h2m6 0h2m7 0h2m-18 1h2m0 0h2m2 0h2m11 0h2m1 0h2m9 0h2m-30 1h2m2 0h2m2 0h2m25 0h2m-12 1h2m0 0h2m13 0h2m-49 1h2m19 0h2m0 0h2m-1 0h2m-1 0h2m12 0h2m14 0h2m-54 1h2m9 0h2m22 0h2m-13 1h2m31 0h2m-40 1h2m33 0h2m-60 1h2m-1 0h2m-2 0h2m14 0h2m0 0h2m5 0h2m3 0h2m-26 1h2m3 0h2m-14 1h2m12 0h2m0 0h2m6 0h2m0 0h2m11 0h2m-1 0h2m0 0h2m-2 0h2m-1 0h2m-39 1h2m10 0h2m-2 0h2m11 0h2m8 0h2m-41 1h2m-2 0h2m-1 0h2m6 0h2m2 0h2m15 0h2m1 0h2m0 0h2m-39 1h2m5 0h2m0 0h2m7 0h2m2 0h2m1 0h2m-1 0h2m-1 0h2m8 0h2m-1 0h2m-1 0h2m4 0h2m-32 1h2m2 0h2m2 0h2m1 0h2m5 0h2m3 0h2m-1 0h2m6 0h2m-49 1h2m5 0h2m0 0h2m-1 0h2m8 0h2m9 0h2m0 0h2m4 0h2m3 0h2m-48 1h2m8 0h2m-2 0h2m22 0h2m9 0h2m-52 1h2m9 0h2m15 0h2m15 0h2m-49 1h2m10 0h2m0 0h2m-1 0h2m-1 0h2m29 0h2m6 0h2m-47 1h2m-1 0h2m32 0h2m2 0h2m-1 0h2m-50 1h2m1 0h2m-1 0h2m41 0h2m-1 0h2m0 0h2m-46 1h2m-2 0h2m42 0h2m-54 1h2m3 0h2m3 0h2m37 0h2m4 0h2m-4 1h2m2 0h2m-60 1h2m6 1h2m0 0h2m42 0h2m-9 1h2m5 0h2m-52 1h2m0 0h2m-1 0h2m67 0h2m-73 1h2m-2 0h2m4 0h2m-1 0h2m33 0h2m2 0h2m0 0h2m3 0h2m-64 1h2m4 0h2m4 0h2m39 0h2m0 0h2m-52 1h2m1 0h2m0 0h2m3 0h2m36 0h2m2 0h2m1 0h2m-1 0h2m14 0h2m-61 1h2m34 0h2m-45 1h2m-2 0h2m5 0h2m35 0h2m-43 1h2m3 0h2m30 0h2m-1 0h2m3 0h2m-46 1h2m0 0h2m0 0h2m2 0h2m9 0h2m13 0h2m-2 0h2m7 0h2m-47 1h2m1 0h2m4 0h2m7 0h2m15 0h2m5 0h2m-41 1h2m-2 0h2m0 0h2m9 0h2m-2 0h2m12 0h2m-1 0h2m3 0h2m-2 0h2m-1 0h2m9 0h2m-43 1h2m1 0h2m-1 0h2m-1 0h2m6 0h2m0 0h2m12 0h2m5 0h2m0 0h2m-40 1h2m3 0h2m6 0h2m4 0h2m-2 0h2m3 0h2m0 0h2m2 0h2m-31 1h2m0 0h2m-1 0h2m0 0h2m1 0h2m2 0h2m4 0h2m1 0h2m-1 0h2m1 0h2m0 0h2m1 0h2m-35 1h2m7 0h2m2 0h2m3 0h2m-5 1h2m17 0h2m-2 0h2m-41 1h2m30 0h2m8 0h2m-5 1h2m-11 1h2"/>
<path transform="scale(0.5)" fill="none" stroke="#7078EE" stroke-opacity="0.9" stroke-width="2" d="M418 414h2m-6 5h2m-24 59h2m7 0h2m-2 0h2m-1 0h2m-14 1h2m1 0h2m16 0h2m-2 0h2m-1 0h2m0 0h2m1 0h2m-2 0h2m-32 1h2m-1 0h2m1 0h2m4 0h2m14 0h2m-1 0h2m-2 0h2m1 0h2m-36 1h2m1 0h2m3 0h2m-1 0h2m1 0h2m1 0h2m-2 0h2m1 0h2m-2 0h2m3 0h2m-1 0h2m1 0h2m1 0h2m-1 0h2m0 0h2m-1 0h2m-35 1h2m-2 0h2m1 0h2m3 0h2m-1 0h2m-1 0h2m-2 0h2m-1 0h2m0 0h2m0 0h2m0 0h2m-2 0h2m5 0h2m0 0h2m2 0h2m1 0h2m-37 1h2m-2 0h2m9 0h2m-1 0h2m-2 0h2m-2 0h2m1 0h2m2 0h2m-1 0h2m-2 0h2m-1 0h2m-2 0h2m1 0h2m-1 0h2m1 0h2m-2 0h2m2 0h2m0 0h2m-1 0h2m0 0h2m-1 0h2m-2 0h2m-38 1h2m2 0h2m-1 0h2m-2 0h2m12 0h2m0 0h2m0 0h2m-1 0h2m2 0h2m0 0h2m0 0h2m-2 0h2m-38 1h2m-1 0h2m0 0h2m-2 0h2m-1 0h2m-1 0h2m2 0h2m1 0h2m-1 0h2m1 0h2m2 0h2m-1 0h2m0 0h2m0 0h2m7 0h2m-2 0h2m-35 1h2m2 0h2m-2 0h2m1 0h2m0 0h2m2 0h2m-1 0h2m-1 0h2m-1 0h2m2 0h2m0 0h2m4 0h2m1 0h2m-2 0h2m2 0h2m1 0h2m-38 1h2m-1 0h2m-1 0h2m3 0h2m-2 0h2m-1 0h2m-2 0h2m0 0h2m7 0h2m5 0h2m6 0h2m-1 0h2m-2 0h2m-1 0h2m-2 0h2m-42 1h2m-2 0h2m4 0h2m-1 0h2m-2 0h2m1 0h2m0 0h2m0 0h2m0 0h2m2 0h2m0 0h2m-1 0h2m5 0h2m7 0h2m-1 0h2m-2 0h2m-2 0h2m-41 1h2m3 0h2m-2 0h2m-1 0h2m-1 0h2m2 0h2m8 0h2m1 0h2m-2 0h2m0 0h2m-2 0h2m3 0h2m6 0h2m-2 0h2m-42 1h2m0 0h2m6 0h2m2 0h2m2 0h2m2 0h2m1 0h2m0 0h2m4 0h2m-2 0h2m0 0h2m0 0h2m-2 0h2m-1 0h2m-39 1h2m-2 0h2m0 0h2m5 0h2m0 0h2m-2 0h2m1 0h2m0 0h2m12 0h2m1 0h2m1 0h2m0 0h2m-2 0h2m-40 1h2m0 0h2m2 0h2m-1 0h2m-1 0h2m-1 0h2m5 0h2m5 0h2m2 0h2m3 0h2m0 0h2m2 0h2m-2 0h2m-38 1h2m0 0h2m2 0h2m0 0h2m1 0h2m7 0h2m-2 0h2m-1 0h2m0 0h2m2 0h2m5 0h2m-39 1h2m3 0h2m-1 0h2m-1 0h2m1 0h2m0 0h2m3 0h2m0 0h2m-2 0h2m-1 0h2m2 0h2m1 0h2m-1 0h2m2 0h2m-2 0h2m5 0h2m-42 1h2m0 0h2m2 0h2m-2 0h2m-1 0h2m1 0h2m4 0h2m3 0h2m1 0h2m5 0h2m-1 0h2m-1 0h2m0 0h2m-1 0h2m-2 0h2m-1 0h2m2 0h2m-2 0h2m-1 0h2m-38 1h2m0 0h2m-1 0h2m1 0h2m-1 0h2m0 0h2m0 0h2m4 0h2m0 0h2m8 0h2m1 0h2m-1 0h2m-38 1h2m6 0h2m0 0h2m6 0h2m8 0h2m-2 0h2m0 0h2m1 0h2m0 0h2m0 0h2m1 0h2m-33 1h2m-1 0h2m1 0h2m-2 0h2m0 0h2m-1 0h2m-1 0h2m0 0h2m1 0h2m-1 0h2m2 0h2m1 0h2m-1 0h2m3 0h2m-34 1h2m5 0h2m-1 0h2m1 0h2m-1 0h2m-1 0h2m0 0h2m-1 0h2m0 0h2m-2 0h2m3 0h2m0 0h2m2 0h2m-1 0h2m0 0h2m-2 0h2m-38 1h2m3 0h2m0 0h2m7 0h2m-2 0h2m0 0h2m-1 0h2m1 0h2m-1 0h2m-1 0h2m-1 0h2m0 0h2m5 0h2m-27 1h2m-1 0h2m2 0h2m8 0h2m8 0h2m-19 1h2m0 0h2m3 0h2m1 0h2m2 0h2m-1 0h2m-13 1h2m0 0h2m8 0h2"/>
<path transform="scale(0.5)" fill="none" stroke="#4048DC" stroke-width="2" d="M400 481h2m-8 1h2m-2 0h2m2 0h2m-1 0h2m-1 0h2m-1 0h2m-1 0h2m10 0h2m1 0h2m-28 1h2m-1 0h2m0 0h2m1 0h2m-1 0h2m-2 0h2m13 0h2m-27 1h2m1 0h2m0 0h2m-1 0h2m-1 0h2m3 0h2m-1 0h2m2 0h2m4 0h2m-1 0h2m-2 0h2m-29 1h2m1 0h2m0 0h2m-1 0h2m1 0h2m2 0h2m1 0h2m-1 0h2m-1 0h2m-1 0h2m4 0h2m3 0h2m-1 0h2m-35 1h2m2 0h2m-1 0h2m0 0h2m1 0h2m-2 0h2m0 0h2m7 0h2m0 0h2m1 0h2m-1 0h2m-1 0h2m-1 0h2m0 0h2m0 0h2m-31 1h2m-1 0h2m4 0h2m1 0h2m0 0h2m1 0h2m3 0h2m-1 0h2m-2 0h2m-1 0h2m-1 0h2m-2 0h2m2 0h2m0 0h2m-30 1h2m-1 0h2m6 0h2m-1 0h2m-1 0h2m-1 0h2m1 0h2m0 0h2m2 0h2m-1 0h2m-2 0h2m-2 0h2m-1 0h2m-2 0h2m-1 0h2m-2 0h2m-1 0h2m2 0h2m-34 1h2m10 0h2m-1 0h2m-1 0h2m-1 0h2m0 0h2m2 0h2m-1 0h2m-2 0h2m-1 0h2m3 0h2m-1 0h2m-2 0h2m-2 0h2m-30 1h2m0 0h2m0 0h2m2 0h2m0 0h2m3 0h2m-2 0h2m-1 0h2m-2 0h2m2 0h2m-1 0h2m-1 0h2m3 0h2m-2 0h2m0 0h2m-33 1h2m1 0h2m-2 0h2m2 0h2m-2 0h2m-1 0h2m0 0h2m-1 0h2m-1 0h2m-1 0h2m0 0h2m5 0h2m0 0h2m-1 0h2m0 0h2m-1 0h2m-26 1h2m-1 0h2m-2 0h2m-1 0h2m-1 0h2m-2 0h2m-2 0h2m-1 0h2m-1 0h2m-2 0h2m1 0h2m1 0h2m3 0h2m0 0h2m-1 0h2m0 0h2m2 0h2m0 0h2m-32 1h2m0 0h2m-1 0h2m1 0h2m0 0h2m5 0h2m-1 0h2m1 0h2m-1 0h2m-1 0h2m0 0h2m-2 0h2m-1 0h2m3 0h2m-33 1h2m1 0h2m-1 0h2m3 0h2m3 0h2m-1 0h2m6 0h2m4 0h2m-1 0h2m-1 0h2m-2 0h2m-2 0h2m-33 1h2m2 0h2m0 0h2m-1 0h2m-2 0h2m-1 0h2m0 0h2m1 0h2m4 0h2m4 0h2m-2 0h2m1 0h2m1 0h2m-31 1h2m0 0h2m-1 0h2m1 0h2m4 0h2m2 0h2m-2 0h2m-2 0h2m-1 0h2m0 0h2m1 0h2m-1 0h2m-1 0h2m-2 0h2m4 0h2m-2 0h2m-29 1h2m2 0h2m-2 0h2m1 0h2m2 0h2m0 0h2m-1 0h2m-2 0h2m0 0h2m-1 0h2m-1 0h2m-2 0h2m-2 0h2m0 0h2m-1 0h2m2 0h2m1 0h2m-29 1h2m6 0h2m-2 0h2m5 0h2m-2 0h2m0 0h2m4 0h2m-12 1h2m6 0h2"/>
<path transform="scale(0.5)" fill="none" stroke="#50B0C8" stroke-width="2" d="M393 485h2m4 0h2m2 0h2m7 0h2m-2 0h2m-24 1h2m3 0h2m2 0h2m5 0h2m1 0h2m-23 1h2m4 0h2m7 0h2m-16 1h2m1 0h2m10 0h2m-11 1h2m-2 0h2m2 0h2m-11 1h2m9 0h2m5 0h2m-16 1h2m-1 0h2m3 0h2m8 0h2m-21 1h2m1 0h2m4 0h2m10 0h2m1 0h2m-32 1h2m12 0h2m2 0h2m-2 0h2m-1 0h2m0 0h2m-21 1h2m4 0h2m1 0h2m3 0h2m1 0h2m2 0h2m-23 2h2m-1 0h2m0 0h2m-1 0h2m18 1h2"/>
<path transform="scale(0.5)" fill="none" stroke="#70C060" stroke-width="2" d="M389 486h2m21 0h2m-17 1h2m3 0h2m0 0h2m-13 1h2m7 0h2m5 0h2m2 0h2m-22 1h2m11 0h2m0 0h2m-1 0h2m3 0h2m-2 0h2m-15 1h2m-15 1h2m4 1h2m0 0h2m-2 0h2m-1 0h2m4 0h2m-20 1h2m2 0h2m1 0h2m-2 0h2m12 0h2m-20 1h2m2 0h2m1 0h2m9 0h2m0 0h2m-22 1h2m20 1h2"/>
<path transform="scale(0.5)" fill="none" stroke="#D8D040" stroke-width="2" d="M410 485h2m-11 2h2m7 1h2m-14 1h2m13 0h2m-23 1h2m9 0h2m-1 0h2m-20 1h2m8 0h2m0 0h2m7 0h2m0 0h2m-1 0h2m-20 1h2m3 0h2m9 0h2m-18 1h2m10 1h2m-16 2h2"/>
<path transform="scale(0.5)" fill="none" stroke="#E07030" stroke-width="2" d="M410 487h2m-7 2h2m-15 1h2m-1 0h2m-2 0h2m7 0h2m1 0h2m0 0h2m-20 1h2m-1 0h2m1 0h2m5 0h2m-2 0h2m1 0h2m-1 0h2m5 0h2m-24 1h2m4 0h2m7 0h2m3 0h2m-21 1h2m15 0h2m-20 1h2m0 0h2m0 0h2"/>
<rect x="172.50" y="177.50" width="91.75" height="91.90" fill="none" stroke="#666" stroke-width="0.8"/>
<line x1="211.75" y1="177.50" x2="211.75" y2="269.40" stroke="#444" stroke-width="0.9"/>
<rect x="196.20" y="269.50" width="7.00" height="1.90" fill="#111"/>
<line x1="175.50" y1="269.40" x2="175.50" y2="270.30" stroke="#666" stroke-width="0.5"/>
<line x1="180.50" y1="269.40" x2="180.50" y2="270.30" stroke="#666" stroke-width="0.5"/>
<line x1="185.50" y1="269.40" x2="185.50" y2="270.30" stroke="#666" stroke-width="0.5"/>
<line x1="190.50" y1="269.40" x2="190.50" y2="270.30" stroke="#666" stroke-width="0.5"/>
<line x1="195.50" y1="269.40" x2="195.50" y2="270.30" stroke="#666" stroke-width="0.5"/>
<line x1="200.50" y1="269.40" x2="200.50" y2="270.30" stroke="#666" stroke-width="0.5"/>
<line x1="205.50" y1="269.40" x2="205.50" y2="270.30" stroke="#666" stroke-width="0.5"/>
<line x1="210.50" y1="269.40" x2="210.50" y2="270.30" stroke="#666" stroke-width="0.5"/>
<line x1="215.50" y1="269.40" x2="215.50" y2="270.30" stroke="#666" stroke-width="0.5"/>
<line x1="220.50" y1="269.40" x2="220.50" y2="270.30" stroke="#666" stroke-width="0.5"/>
<line x1="225.50" y1="269.40" x2="225.50" y2="270.30" stroke="#666" stroke-width="0.5"/>
<line x1="230.50" y1="269.40" x2="230.50" y2="270.30" stroke="#666" stroke-width="0.5"/>
<line x1="235.50" y1="269.40" x2="235.50" y2="270.30" stroke="#666" stroke-width="0.5"/>
<line x1="240.50" y1="269.40" x2="240.50" y2="270.30" stroke="#666" stroke-width="0.5"/>
<line x1="245.50" y1="269.40" x2="245.50" y2="270.30" stroke="#666" stroke-width="0.5"/>
<line x1="250.50" y1="269.40" x2="250.50" y2="270.30" stroke="#666" stroke-width="0.5"/>
<line x1="255.50" y1="269.40" x2="255.50" y2="270.30" stroke="#666" stroke-width="0.5"/>
<line x1="260.50" y1="269.40" x2="260.50" y2="270.30" stroke="#666" stroke-width="0.5"/>
<line x1="171.60" y1="192.00" x2="172.50" y2="192.00" stroke="#666" stroke-width="0.5"/>
<line x1="171.60" y1="196.00" x2="172.50" y2="196.00" stroke="#666" stroke-width="0.5"/>
<line x1="171.60" y1="199.00" x2="172.50" y2="199.00" stroke="#666" stroke-width="0.5"/>
<line x1="171.60" y1="203.00" x2="172.50" y2="203.00" stroke="#666" stroke-width="0.5"/>
<line x1="171.60" y1="214.00" x2="172.50" y2="214.00" stroke="#666" stroke-width="0.5"/>
<line x1="171.60" y1="218.00" x2="172.50" y2="218.00" stroke="#666" stroke-width="0.5"/>
<line x1="171.60" y1="221.00" x2="172.50" y2="221.00" stroke="#666" stroke-width="0.5"/>
<line x1="171.60" y1="225.00" x2="172.50" y2="225.00" stroke="#666" stroke-width="0.5"/>
<line x1="171.60" y1="238.00" x2="172.50" y2="238.00" stroke="#666" stroke-width="0.5"/>
<line x1="171.60" y1="242.00" x2="172.50" y2="242.00" stroke="#666" stroke-width="0.5"/>
<line x1="171.60" y1="245.00" x2="172.50" y2="245.00" stroke="#666" stroke-width="0.5"/>
<line x1="171.60" y1="252.00" x2="172.50" y2="252.00" stroke="#666" stroke-width="0.5"/>
<line x1="171.60" y1="256.00" x2="172.50" y2="256.00" stroke="#666" stroke-width="0.5"/>
<line x1="171.60" y1="259.00" x2="172.50" y2="259.00" stroke="#666" stroke-width="0.5"/>
<line x1="171.60" y1="262.00" x2="172.50" y2="262.00" stroke="#666" stroke-width="0.5"/>
<text x="262.25" y="189.00" font-size="7.6" text-anchor="end" textLength="40.75" lengthAdjust="spacingAndGlyphs">FITC-CD41+</text>
<text x="161.50" y="190.40" font-size="8.4" text-anchor="middle" fill="#222">10<tspan font-size="6.2" dy="-3.0">5</tspan></text>
<line x1="170.90" y1="187.50" x2="172.50" y2="187.50" stroke="#333" stroke-width="0.8"/>
<text x="161.50" y="212.40" font-size="8.4" text-anchor="middle" fill="#222">10<tspan font-size="6.2" dy="-3.0">4</tspan></text>
<line x1="170.90" y1="209.50" x2="172.50" y2="209.50" stroke="#333" stroke-width="0.8"/>
<text x="161.50" y="236.65" font-size="8.4" text-anchor="middle" fill="#222">10<tspan font-size="6.2" dy="-3.0">3</tspan></text>
<line x1="170.90" y1="233.75" x2="172.50" y2="233.75" stroke="#333" stroke-width="0.8"/>
<text x="163.00" y="251.65" font-size="8.4" text-anchor="middle">0</text>
<text x="160.00" y="267.90" font-size="8.4" text-anchor="middle" fill="#222">-10<tspan font-size="6.2" dy="-3.0">3</tspan></text>
<line x1="170.90" y1="248.75" x2="172.50" y2="248.75" stroke="#333" stroke-width="0.8"/>
<line x1="170.90" y1="265.00" x2="172.50" y2="265.00" stroke="#333" stroke-width="0.8"/>
<text x="179.95" y="282.30" font-size="8.4" text-anchor="middle" fill="#222">-10<tspan font-size="6.2" dy="-3.0">3</tspan></text>
<line x1="178.75" y1="269.40" x2="178.75" y2="271.00" stroke="#333" stroke-width="0.8"/>
<text x="200.00" y="282.30" font-size="8.4" text-anchor="middle">0</text>
<line x1="200.00" y1="269.40" x2="200.00" y2="271.00" stroke="#333" stroke-width="0.8"/>
<text x="221.20" y="282.30" font-size="8.4" text-anchor="middle" fill="#222">10<tspan font-size="6.2" dy="-3.0">3</tspan></text>
<line x1="220.00" y1="269.40" x2="220.00" y2="271.00" stroke="#333" stroke-width="0.8"/>
<text x="241.20" y="282.30" font-size="8.4" text-anchor="middle" fill="#222">10<tspan font-size="6.2" dy="-3.0">4</tspan></text>
<line x1="240.00" y1="269.40" x2="240.00" y2="271.00" stroke="#333" stroke-width="0.8"/>
<text x="256.70" y="282.30" font-size="8.4" text-anchor="middle" fill="#222">10<tspan font-size="6.2" dy="-3.0">5</tspan></text>
<line x1="255.50" y1="269.40" x2="255.50" y2="271.00" stroke="#333" stroke-width="0.8"/>
<text x="201.25" y="298.20" font-size="10" textLength="37.5" lengthAdjust="spacingAndGlyphs" stroke="#222" stroke-width="0.2">CD41-FITC-A</text>
<rect x="170.70" y="246.50" width="1.60" height="5.00" fill="#111"/>
<path transform="scale(0.5)" fill="none" stroke="#A8AEF6" stroke-opacity="0.85" stroke-width="2" d="M671 386h2m7 10h2m15 9h2m-26 1h2m5 0h2m-17 5h2m9 1h2m15 1h2m-16 2h2m-5 1h2m7 0h2m-14 1h2m-17 1h2m20 7h2m17 0h2m-22 5h2m-29 3h2m19 1h2m-18 9h2m3 0h2m5 0h2m-12 2h2m-13 1h2m36 0h2m-15 1h2m-22 1h2m26 3h2m-42 1h2m-3 1h2m15 0h2m8 1h2m17 0h2m-75 2h2m51 0h2m1 0h2m-16 1h2m8 0h2m-36 1h2m26 0h2m5 0h2m-22 2h2m11 0h2m3 0h2m1 1h2m5 0h2m-31 1h2m16 0h2m-34 1h2m-1 0h2m49 0h2m-38 1h2m54 0h2m-92 1h2m53 0h2m-2 0h2m-29 1h2m2 0h2m16 0h2m-37 1h2m33 1h2m-7 1h2m5 0h2m-36 1h2m9 0h2m16 0h2m-25 1h2m59 1h2m-58 1h2m2 0h2m25 0h2m-18 1h2m-22 1h2m47 0h2m-29 1h2m6 0h2m-50 1h2m19 0h2m18 0h2m-43 1h2m9 0h2m10 0h2m2 0h2m7 0h2m-1 0h2m1 0h2m4 0h2m7 0h2m11 0h2m-57 1h2m4 0h2m9 0h2m-1 0h2m12 0h2m-34 1h2m1 0h2m13 0h2m14 0h2m-1 0h2m-57 1h2m0 0h2m16 0h2m6 0h2m2 0h2m0 0h2m16 0h2m-2 0h2m1 0h2m3 0h2m-57 1h2m0 0h2m47 0h2m-36 1h2m9 0h2m6 0h2m-1 0h2m-44 1h2m2 0h2m2 0h2m2 0h2m2 0h2m7 0h2m7 0h2m17 0h2m8 0h2m-38 1h2m2 0h2m-1 0h2m1 0h2m-1 0h2m0 0h2m0 0h2m9 0h2m8 0h2m-63 1h2m34 0h2m6 0h2m12 0h2m-46 1h2m-2 0h2m0 0h2m8 0h2m2 0h2m0 0h2m-1 0h2m1 0h2m22 0h2m-57 1h2m12 0h2m-1 0h2m-2 0h2m14 0h2m8 0h2m4 0h2m7 0h2m2 0h2m-68 1h2m2 0h2m11 0h2m9 0h2m13 0h2m2 0h2m4 0h2m2 0h2m-47 1h2m0 0h2m4 0h2m9 0h2m-1 0h2m0 0h2m-2 0h2m-35 1h2m4 0h2m8 0h2m0 0h2m0 0h2m4 0h2m-2 0h2m3 0h2m12 0h2m12 0h2m-50 1h2m14 0h2m16 0h2m14 0h2m-64 1h2m3 0h2m6 0h2m3 0h2m0 0h2m1 0h2m9 0h2m-23 1h2m-1 0h2m-1 0h2m10 0h2m4 0h2m5 0h2m4 0h2m-2 0h2m-1 0h2m-1 0h2m-1 0h2m7 0h2m1 0h2m-57 1h2m16 0h2m-1 0h2m3 0h2m-1 0h2m20 0h2m4 0h2m-63 1h2m9 0h2m-2 0h2m5 0h2m-1 0h2m2 0h2m7 0h2m0 0h2m22 0h2m-57 1h2m6 0h2m14 0h2m16 0h2m7 0h2m0 0h2m-59 1h2m11 0h2m-1 0h2m8 0h2m3 0h2m1 0h2m5 0h2m2 0h2m5 0h2m1 0h2m-48 1h2m13 0h2m10 0h2m13 0h2m7 0h2m-57 1h2m19 0h2m8 0h2m15 0h2m8 1h2m-31 1h2m10 0h2m13 0h2m7 2h2"/>
<path transform="scale(0.5)" fill="none" stroke="#7078EE" stroke-opacity="0.9" stroke-width="2" d="M626 490h2m-3 2h2m-1 1h2"/>
<rect x="289.50" y="177.50" width="91.75" height="91.90" fill="none" stroke="#666" stroke-width="0.8"/>
<line x1="336.25" y1="177.50" x2="336.25" y2="269.40" stroke="#444" stroke-width="0.9"/>
<rect x="309.20" y="269.50" width="7.00" height="1.90" fill="#111"/>
<line x1="292.50" y1="269.40" x2="292.50" y2="270.30" stroke="#666" stroke-width="0.5"/>
<line x1="297.50" y1="269.40" x2="297.50" y2="270.30" stroke="#666" stroke-width="0.5"/>
<line x1="302.50" y1="269.40" x2="302.50" y2="270.30" stroke="#666" stroke-width="0.5"/>
<line x1="307.50" y1="269.40" x2="307.50" y2="270.30" stroke="#666" stroke-width="0.5"/>
<line x1="312.50" y1="269.40" x2="312.50" y2="270.30" stroke="#666" stroke-width="0.5"/>
<line x1="317.50" y1="269.40" x2="317.50" y2="270.30" stroke="#666" stroke-width="0.5"/>
<line x1="322.50" y1="269.40" x2="322.50" y2="270.30" stroke="#666" stroke-width="0.5"/>
<line x1="327.50" y1="269.40" x2="327.50" y2="270.30" stroke="#666" stroke-width="0.5"/>
<line x1="332.50" y1="269.40" x2="332.50" y2="270.30" stroke="#666" stroke-width="0.5"/>
<line x1="337.50" y1="269.40" x2="337.50" y2="270.30" stroke="#666" stroke-width="0.5"/>
<line x1="342.50" y1="269.40" x2="342.50" y2="270.30" stroke="#666" stroke-width="0.5"/>
<line x1="347.50" y1="269.40" x2="347.50" y2="270.30" stroke="#666" stroke-width="0.5"/>
<line x1="352.50" y1="269.40" x2="352.50" y2="270.30" stroke="#666" stroke-width="0.5"/>
<line x1="357.50" y1="269.40" x2="357.50" y2="270.30" stroke="#666" stroke-width="0.5"/>
<line x1="362.50" y1="269.40" x2="362.50" y2="270.30" stroke="#666" stroke-width="0.5"/>
<line x1="367.50" y1="269.40" x2="367.50" y2="270.30" stroke="#666" stroke-width="0.5"/>
<line x1="372.50" y1="269.40" x2="372.50" y2="270.30" stroke="#666" stroke-width="0.5"/>
<line x1="377.50" y1="269.40" x2="377.50" y2="270.30" stroke="#666" stroke-width="0.5"/>
<line x1="288.60" y1="192.00" x2="289.50" y2="192.00" stroke="#666" stroke-width="0.5"/>
<line x1="288.60" y1="196.00" x2="289.50" y2="196.00" stroke="#666" stroke-width="0.5"/>
<line x1="288.60" y1="199.00" x2="289.50" y2="199.00" stroke="#666" stroke-width="0.5"/>
<line x1="288.60" y1="203.00" x2="289.50" y2="203.00" stroke="#666" stroke-width="0.5"/>
<line x1="288.60" y1="214.00" x2="289.50" y2="214.00" stroke="#666" stroke-width="0.5"/>
<line x1="288.60" y1="218.00" x2="289.50" y2="218.00" stroke="#666" stroke-width="0.5"/>
<line x1="288.60" y1="221.00" x2="289.50" y2="221.00" stroke="#666" stroke-width="0.5"/>
<line x1="288.60" y1="225.00" x2="289.50" y2="225.00" stroke="#666" stroke-width="0.5"/>
<line x1="288.60" y1="238.00" x2="289.50" y2="238.00" stroke="#666" stroke-width="0.5"/>
<line x1="288.60" y1="242.00" x2="289.50" y2="242.00" stroke="#666" stroke-width="0.5"/>
<line x1="288.60" y1="245.00" x2="289.50" y2="245.00" stroke="#666" stroke-width="0.5"/>
<line x1="288.60" y1="252.00" x2="289.50" y2="252.00" stroke="#666" stroke-width="0.5"/>
<line x1="288.60" y1="256.00" x2="289.50" y2="256.00" stroke="#666" stroke-width="0.5"/>
<line x1="288.60" y1="259.00" x2="289.50" y2="259.00" stroke="#666" stroke-width="0.5"/>
<line x1="288.60" y1="262.00" x2="289.50" y2="262.00" stroke="#666" stroke-width="0.5"/>
<text x="379.25" y="189.00" font-size="7.6" text-anchor="end" textLength="40" lengthAdjust="spacingAndGlyphs">PE-CD62P+</text>
<text x="278.50" y="190.40" font-size="8.4" text-anchor="middle" fill="#222">10<tspan font-size="6.2" dy="-3.0">5</tspan></text>
<line x1="287.90" y1="187.50" x2="289.50" y2="187.50" stroke="#333" stroke-width="0.8"/>
<text x="278.50" y="212.40" font-size="8.4" text-anchor="middle" fill="#222">10<tspan font-size="6.2" dy="-3.0">4</tspan></text>
<line x1="287.90" y1="209.50" x2="289.50" y2="209.50" stroke="#333" stroke-width="0.8"/>
<text x="278.50" y="236.65" font-size="8.4" text-anchor="middle" fill="#222">10<tspan font-size="6.2" dy="-3.0">3</tspan></text>
<line x1="287.90" y1="233.75" x2="289.50" y2="233.75" stroke="#333" stroke-width="0.8"/>
<text x="280.00" y="251.65" font-size="8.4" text-anchor="middle">0</text>
<text x="277.00" y="267.90" font-size="8.4" text-anchor="middle" fill="#222">-10<tspan font-size="6.2" dy="-3.0">3</tspan></text>
<line x1="287.90" y1="248.75" x2="289.50" y2="248.75" stroke="#333" stroke-width="0.8"/>
<line x1="287.90" y1="265.00" x2="289.50" y2="265.00" stroke="#333" stroke-width="0.8"/>
<text x="297.45" y="282.30" font-size="8.4" text-anchor="middle" fill="#222">-10<tspan font-size="6.2" dy="-3.0">3</tspan></text>
<line x1="296.25" y1="269.40" x2="296.25" y2="271.00" stroke="#333" stroke-width="0.8"/>
<text x="313.00" y="282.30" font-size="8.4" text-anchor="middle">0</text>
<line x1="313.00" y1="269.40" x2="313.00" y2="271.00" stroke="#333" stroke-width="0.8"/>
<text x="331.20" y="282.30" font-size="8.4" text-anchor="middle" fill="#222">10<tspan font-size="6.2" dy="-3.0">3</tspan></text>
<line x1="330.00" y1="269.40" x2="330.00" y2="271.00" stroke="#333" stroke-width="0.8"/>
<text x="359.95" y="282.30" font-size="8.4" text-anchor="middle" fill="#222">10<tspan font-size="6.2" dy="-3.0">4</tspan></text>
<line x1="358.75" y1="269.40" x2="358.75" y2="271.00" stroke="#333" stroke-width="0.8"/>
<text x="321.25" y="298.20" font-size="10" textLength="35" lengthAdjust="spacingAndGlyphs" stroke="#222" stroke-width="0.2">CD62P-PE-A</text>
<rect x="287.70" y="246.50" width="1.60" height="5.00" fill="#111"/>
<path transform="scale(0.5)" fill="none" stroke="#A8AEF6" stroke-opacity="0.85" stroke-width="2" d="M877 388h2m0 2h2m-29 4h2m10 1h2m-16 1h2m10 0h2m2 0h2m14 0h2m-49 1h2m9 0h2m12 0h2m0 0h2m-43 1h2m-1 0h2m9 0h2m33 0h2m4 0h2m-50 1h2m1 0h2m2 0h2m7 0h2m1 0h2m1 0h2m-1 0h2m3 0h2m4 0h2m0 0h2m-2 0h2m-34 1h2m-1 0h2m-2 0h2m0 0h2m1 0h2m9 0h2m-2 0h2m-1 0h2m-2 0h2m0 0h2m0 0h2m0 0h2m7 0h2m-1 0h2m0 0h2m-1 0h2m11 0h2m-68 1h2m2 0h2m2 0h2m0 0h2m2 0h2m7 0h2m-1 0h2m0 0h2m-1 0h2m10 0h2m0 0h2m4 0h2m1 0h2m-52 1h2m-2 0h2m30 0h2m4 0h2m-1 0h2m2 0h2m-2 0h2m10 0h2m0 0h2m-1 0h2m-61 1h2m6 0h2m-2 0h2m2 0h2m-2 0h2m1 0h2m0 0h2m2 0h2m4 0h2m4 0h2m5 0h2m-2 0h2m-1 0h2m7 0h2m-1 0h2m5 0h2m-1 0h2m-1 0h2m3 0h2m-66 1h2m0 0h2m3 0h2m-1 0h2m27 0h2m4 0h2m-2 0h2m2 0h2m-1 0h2m6 0h2m-1 0h2m5 0h2m-60 1h2m-2 0h2m0 0h2m6 0h2m0 0h2m-1 0h2m-1 0h2m12 0h2m0 0h2m-1 0h2m0 0h2m6 0h2m0 0h2m10 0h2m0 0h2m-64 1h2m0 0h2m-1 0h2m0 0h2m11 0h2m-1 0h2m4 0h2m5 0h2m-2 0h2m10 0h2m2 0h2m0 0h2m0 0h2m2 0h2m0 0h2m-1 0h2m0 0h2m6 0h2m-74 1h2m-1 0h2m2 0h2m8 0h2m0 0h2m9 0h2m6 0h2m8 0h2m-2 0h2m-1 0h2m3 0h2m-1 0h2m-1 0h2m1 0h2m-56 1h2m-1 0h2m-1 0h2m2 0h2m6 0h2m-2 0h2m1 0h2m0 0h2m-1 0h2m-1 0h2m2 0h2m9 0h2m1 0h2m1 0h2m3 0h2m-1 0h2m2 0h2m9 0h2m-66 1h2m0 0h2m2 0h2m5 0h2m0 0h2m13 0h2m6 0h2m-2 0h2m6 0h2m1 0h2m-2 0h2m5 0h2m-51 1h2m2 0h2m0 0h2m-1 0h2m5 0h2m1 0h2m10 0h2m0 0h2m9 0h2m3 0h2m5 0h2m-57 1h2m8 0h2m4 0h2m5 0h2m-2 0h2m3 0h2m3 0h2m12 0h2m2 0h2m2 0h2m-60 1h2m24 0h2m3 0h2m2 0h2m6 0h2m2 0h2m9 0h2m-60 1h2m-1 0h2m9 0h2m-1 0h2m1 0h2m13 0h2m1 0h2m4 0h2m13 0h2m-30 1h2m10 0h2m-36 1h2m15 0h2m6 0h2m21 0h2m14 0h2m-59 2h2m5 0h2m-5 1h2m1 0h2m3 0h2m-13 1h2m22 0h2m-31 1h2m8 0h2m35 0h2m4 0h2m-66 1h2m12 0h2m-1 0h2m21 0h2m-2 0h2m20 0h2m-61 1h2m6 0h2m21 0h2m2 0h2m-2 0h2m-17 1h2m3 0h2m3 0h2m6 0h2m-23 1h2m24 0h2m-28 1h2m-2 0h2m0 0h2m22 0h2m-21 1h2m8 0h2m0 0h2m4 0h2m2 0h2m5 0h2m-58 1h2m17 0h2m5 0h2m15 0h2m3 0h2m-15 1h2m0 0h2m12 0h2m-45 1h2m12 0h2m4 0h2m10 0h2m4 0h2m-1 0h2m-41 1h2m6 0h2m-2 0h2m24 0h2m7 0h2m-55 1h2m27 0h2m18 0h2m-41 1h2m17 0h2m2 0h2m13 0h2m-27 1h2m4 0h2m-1 0h2m2 0h2m0 0h2m11 0h2m-25 1h2m8 0h2m32 1h2m-59 1h2m28 0h2m8 0h2m-33 1h2m34 0h2m-55 1h2m6 0h2m0 0h2m41 0h2m-41 1h2m0 0h2m10 0h2m11 0h2m-24 1h2m8 0h2m-2 0h2m0 0h2m-23 1h2m19 0h2m1 0h2m8 0h2m-1 0h2m-47 1h2m11 0h2m1 0h2m2 0h2m9 0h2m0 0h2m10 0h2m-1 0h2m-35 1h2m2 0h2m0 0h2m9 0h2m12 0h2m21 0h2m-55 1h2m4 0h2m-10 1h2m0 0h2m3 0h2m1 0h2m17 0h2m2 0h2m-17 1h2m13 0h2m1 0h2m-44 1h2m-1 0h2m61 0h2m-45 1h2m6 0h2m-1 0h2m15 0h2m-53 1h2m5 0h2m1 0h2m13 0h2m0 0h2m11 0h2m-2 0h2m-45 1h2m-1 0h2m3 0h2m32 0h2m-20 1h2m14 0h2m6 0h2m-40 1h2m27 0h2m-1 0h2m5 0h2m-40 1h2m9 0h2m8 0h2m-20 1h2m11 0h2m14 0h2m-28 2h2m18 0h2m0 0h2m12 1h2m-46 1h2m2 0h2m6 0h2m1 0h2m27 0h2m-53 1h2m15 0h2m13 0h2m-1 0h2m3 0h2m15 0h2m-40 1h2m10 0h2m3 0h2m6 0h2m-27 1h2m22 0h2m-6 1h2m8 0h2m-21 1h2m1 0h2m-11 1h2m1 0h2m-18 1h2m11 0h2m1 0h2m3 0h2m6 0h2m9 0h2m-39 1h2m21 0h2m-1 0h2m1 0h2m1 1h2m-25 1h2m10 0h2m1 0h2m4 0h2m-27 1h2m6 0h2m22 0h2m7 0h2m-51 1h2m6 0h2m1 0h2m-11 1h2m39 0h2m-43 1h2m32 0h2m16 0h2m-54 1h2m-2 1h2m8 0h2m8 0h2m-1 0h2m4 0h2m-39 1h2m14 0h2m19 0h2m-36 1h2m3 0h2m4 0h2m13 0h2m13 0h2m3 0h2m-45 1h2m2 0h2m0 0h2m-2 0h2m2 0h2m-1 0h2m6 0h2m-1 0h2m15 0h2m8 0h2m-47 1h2m8 0h2m2 0h2m8 0h2m1 0h2m1 0h2m-2 0h2m2 0h2m-2 0h2m1 0h2m-1 0h2m-47 1h2m16 0h2m4 0h2m10 0h2m-2 0h2m9 0h2m-2 0h2m-48 1h2m5 0h2m9 0h2m6 0h2m7 0h2m2 0h2m0 0h2m2 0h2m2 0h2m4 0h2m-57 1h2m0 0h2m-1 0h2m6 0h2m2 0h2m3 0h2m-1 0h2m5 0h2m-1 0h2m7 0h2m3 0h2m6 0h2m-53 1h2m0 0h2m3 0h2m5 0h2m4 0h2m0 0h2m2 0h2m-1 0h2m9 0h2m5 0h2m0 0h2m4 0h2m-24 1h2m0 0h2m8 0h2m8 0h2m-57 1h2m1 0h2m-2 0h2m0 0h2m33 0h2m0 0h2m4 0h2m3 0h2m-2 0h2m-1 0h2m-11 1h2m8 0h2m8 0h2m-16 1h2m-1 0h2m1 1h2m1 0h2m-56 1h2m-1 1h2m62 0h2m-70 1h2m-1 0h2m50 0h2m-1 0h2m-53 1h2m50 0h2m-1 0h2m-1 0h2m-2 0h2m-59 1h2m49 0h2m-2 0h2m2 0h2m-57 1h2m1 0h2m55 0h2m10 0h2m-70 1h2m48 0h2m-2 0h2m4 0h2m-1 0h2m-5 1h2m-1 0h2m-9 1h2m0 0h2m-35 1h2m32 0h2m-54 1h2m3 0h2m41 0h2m-45 1h2m8 0h2m34 0h2m-57 1h2m-1 0h2m5 0h2m12 0h2m29 0h2m4 0h2m-39 1h2m3 0h2m4 0h2m6 0h2m-1 0h2m4 0h2m-2 0h2m0 0h2m-50 1h2m-1 0h2m0 0h2m4 0h2m11 0h2m1 0h2m23 0h2m8 0h2m-57 1h2m0 0h2m3 0h2m12 0h2m0 0h2m19 0h2m1 0h2m-52 1h2m3 0h2m7 0h2m-1 0h2m1 0h2m8 0h2m6 0h2m1 0h2m0 0h2m5 0h2m5 0h2m-1 0h2m-60 1h2m1 0h2m2 0h2m3 0h2m1 0h2m15 0h2m4 0h2m1 0h2m5 0h2m-1 0h2m0 0h2m4 0h2m-51 1h2m1 0h2m6 0h2m10 0h2m6 0h2m6 0h2m-42 1h2m3 0h2m8 0h2m-1 0h2m3 0h2m2 0h2m6 0h2m5 0h2m-47 1h2m9 0h2m33 0h2m-1 0h2m0 0h2m-35 1h2m28 0h2m-3 1h2m-30 1h2m24 3h2"/>
<path transform="scale(0.5)" fill="none" stroke="#7078EE" stroke-opacity="0.9" stroke-width="2" d="M839 399h2m-3 1h2m-9 1h2m2 0h2m1 0h2m-2 0h2m0 0h2m-2 0h2m21 0h2m-1 0h2m-41 1h2m0 0h2m-1 0h2m9 0h2m0 0h2m0 0h2m0 0h2m17 0h2m-1 0h2m-42 1h2m0 0h2m1 0h2m0 0h2m7 0h2m-1 0h2m-1 0h2m16 0h2m-2 0h2m-39 1h2m1 0h2m6 0h2m-2 0h2m-1 0h2m0 0h2m-2 0h2m-1 0h2m3 0h2m-2 0h2m-1 0h2m-1 0h2m3 0h2m-2 0h2m3 0h2m5 0h2m-44 1h2m0 0h2m-1 0h2m-2 0h2m3 0h2m-1 0h2m0 0h2m-1 0h2m-1 0h2m1 0h2m-2 0h2m-1 0h2m-2 0h2m1 0h2m0 0h2m1 0h2m13 0h2m3 0h2m-45 1h2m-2 0h2m8 0h2m-2 0h2m1 0h2m1 0h2m-1 0h2m1 0h2m-1 0h2m-2 0h2m-1 0h2m-2 0h2m-1 0h2m-1 0h2m3 0h2m8 0h2m-1 0h2m-2 0h2m-42 1h2m0 0h2m-2 0h2m1 0h2m-2 0h2m6 0h2m0 0h2m0 0h2m1 0h2m-2 0h2m-1 0h2m0 0h2m12 0h2m1 0h2m-38 1h2m13 0h2m-2 0h2m-1 0h2m0 0h2m-19 1h2m4 0h2m3 0h2m0 0h2m-1 0h2m2 0h2m-6 1h2m1 0h2m-2 1h2m-18 68h2m-1 0h2m-1 0h2m2 0h2m5 0h2m-24 1h2m1 0h2m0 0h2m1 0h2m7 0h2m8 0h2m2 0h2m0 0h2m-1 0h2m-38 1h2m1 0h2m0 0h2m6 0h2m5 0h2m-1 0h2m5 0h2m1 0h2m-1 0h2m-2 0h2m3 0h2m-37 1h2m0 0h2m-2 0h2m-1 0h2m-1 0h2m0 0h2m9 0h2m8 0h2m0 0h2m5 0h2m-41 1h2m1 0h2m0 0h2m2 0h2m0 0h2m0 0h2m-1 0h2m-1 0h2m0 0h2m-1 0h2m-1 0h2m-2 0h2m1 0h2m-1 0h2m0 0h2m2 0h2m-2 0h2m4 0h2m0 0h2m3 0h2m-42 1h2m-1 0h2m0 0h2m1 0h2m0 0h2m0 0h2m-2 0h2m4 0h2m-2 0h2m5 0h2m3 0h2m0 0h2m0 0h2m-1 0h2m-1 0h2m-2 0h2m-2 0h2m0 0h2m1 0h2m4 0h2m-48 1h2m-2 0h2m-1 0h2m0 0h2m-1 0h2m-2 0h2m1 0h2m-1 0h2m8 0h2m3 0h2m2 0h2m6 0h2m5 0h2m-1 0h2m-43 1h2m0 0h2m4 0h2m5 0h2m0 0h2m5 0h2m-1 0h2m-2 0h2m-1 0h2m0 0h2m8 0h2m2 0h2m-49 1h2m-1 0h2m9 0h2m-1 0h2m4 0h2m1 0h2m-1 0h2m1 0h2m2 0h2m5 0h2m1 0h2m6 0h2m-48 1h2m6 0h2m3 0h2m1 0h2m6 0h2m-2 0h2m2 0h2m1 0h2m0 0h2m6 0h2m1 0h2m0 0h2m-52 1h2m0 0h2m0 0h2m-2 0h2m-1 0h2m2 0h2m1 0h2m3 0h2m9 0h2m6 0h2m-1 0h2m1 0h2m1 0h2m-1 0h2m-1 0h2m2 0h2m0 0h2m-48 1h2m-2 0h2m2 0h2m0 0h2m6 0h2m12 0h2m5 0h2m5 0h2m-44 1h2m4 0h2m1 0h2m-1 0h2m10 0h2m13 0h2m0 0h2m-1 0h2m3 0h2m0 0h2m-2 0h2m-51 1h2m5 0h2m23 0h2m4 0h2m4 0h2m-2 0h2m2 0h2m-53 1h2m2 0h2m-2 0h2m0 0h2m-2 0h2m-1 0h2m-1 0h2m4 0h2m0 0h2m0 0h2m25 0h2m-2 0h2m2 0h2m-45 1h2m1 0h2m5 0h2m3 0h2m2 0h2m-1 0h2m-2 0h2m1 0h2m7 0h2m0 0h2m-1 0h2m4 0h2m1 0h2m0 0h2m-51 1h2m-1 0h2m3 0h2m7 0h2m-1 0h2m1 0h2m1 0h2m-1 0h2m1 0h2m0 0h2m2 0h2m7 0h2m1 0h2m-44 1h2m5 0h2m7 0h2m-2 0h2m8 0h2m1 0h2m1 0h2m0 0h2m-2 0h2m2 0h2m1 0h2m-1 0h2m2 0h2m-1 0h2m-51 1h2m1 0h2m1 0h2m3 0h2m0 0h2m1 0h2m-1 0h2m1 0h2m0 0h2m4 0h2m0 0h2m0 0h2m8 0h2m-1 0h2m-45 1h2m0 0h2m3 0h2m-1 0h2m-1 0h2m-2 0h2m-1 0h2m9 0h2m2 0h2m-2 0h2m1 0h2m1 0h2m-1 0h2m3 0h2m2 0h2m2 0h2m-46 1h2m-1 0h2m2 0h2m0 0h2m-2 0h2m-2 0h2m0 0h2m0 0h2m-2 0h2m-2 0h2m1 0h2m-1 0h2m2 0h2m1 0h2m-1 0h2m1 0h2m3 0h2m0 0h2m4 0h2m-2 0h2m1 0h2m-46 1h2m2 0h2m-2 0h2m1 0h2m-2 0h2m2 0h2m3 0h2m0 0h2m-2 0h2m0 0h2m-1 0h2m3 0h2m0 0h2m3 0h2m0 0h2m-1 0h2m-1 0h2m2 0h2m1 0h2m-42 1h2m-1 0h2m2 0h2m2 0h2m5 0h2m3 0h2m0 0h2m2 0h2m0 0h2m-2 0h2m-1 0h2m-1 0h2m3 0h2m-2 0h2m1 0h2m-44 1h2m1 0h2m-1 0h2m0 0h2m1 0h2m-2 0h2m2 0h2m0 0h2m0 0h2m0 0h2m1 0h2m0 0h2m1 0h2m1 0h2m-2 0h2m9 0h2m-37 1h2m0 0h2m-1 0h2m2 0h2m-1 0h2m9 0h2m-1 0h2m-25 1h2m-1 0h2m8 0h2"/>
<path transform="scale(0.5)" fill="none" stroke="#4048DC" stroke-width="2" d="M835 406h2m3 0h2m2 1h2m-12 74h2m-14 2h2m17 0h2m-2 0h2m-21 1h2m-2 0h2m8 0h2m0 0h2m0 0h2m4 0h2m-1 0h2m-23 1h2m0 0h2m-2 0h2m0 0h2m0 0h2m0 0h2m0 0h2m6 0h2m0 0h2m-1 0h2m-1 0h2m-2 0h2m1 0h2m-1 0h2m-1 0h2m0 0h2m0 0h2m1 0h2m-39 1h2m-1 0h2m2 0h2m-1 0h2m-1 0h2m-1 0h2m-1 0h2m0 0h2m-2 0h2m-1 0h2m-1 0h2m1 0h2m1 0h2m-1 0h2m1 0h2m-1 0h2m7 0h2m-1 0h2m-34 1h2m-1 0h2m-2 0h2m-1 0h2m0 0h2m0 0h2m-2 0h2m4 0h2m1 0h2m0 0h2m-1 0h2m-1 0h2m3 0h2m-2 0h2m0 0h2m-2 0h2m-1 0h2m3 0h2m-1 0h2m-1 0h2m-1 0h2m-39 1h2m-1 0h2m-1 0h2m-1 0h2m-1 0h2m1 0h2m6 0h2m-2 0h2m-1 0h2m3 0h2m2 0h2m2 0h2m-1 0h2m-1 0h2m-1 0h2m0 0h2m-1 0h2m4 0h2m-2 0h2m-41 1h2m-2 0h2m0 0h2m3 0h2m-1 0h2m-1 0h2m-1 0h2m1 0h2m-2 0h2m-1 0h2m-1 0h2m-1 0h2m2 0h2m-1 0h2m0 0h2m1 0h2m-1 0h2m4 0h2m-1 0h2m-2 0h2m1 0h2m-1 0h2m-1 0h2m-2 0h2m-41 1h2m-1 0h2m3 0h2m-1 0h2m-1 0h2m5 0h2m0 0h2m6 0h2m0 0h2m0 0h2m-2 0h2m1 0h2m-1 0h2m-1 0h2m-2 0h2m1 0h2m-1 0h2m-2 0h2m1 0h2m-39 1h2m-1 0h2m-2 0h2m1 0h2m1 0h2m4 0h2m3 0h2m3 0h2m2 0h2m1 0h2m1 0h2m0 0h2m-2 0h2m-1 0h2m-42 1h2m-1 0h2m-2 0h2m-1 0h2m-2 0h2m0 0h2m7 0h2m0 0h2m0 0h2m-2 0h2m-1 0h2m0 0h2m-1 0h2m0 0h2m6 0h2m4 0h2m-37 1h2m-2 0h2m-1 0h2m-1 0h2m0 0h2m-1 0h2m-2 0h2m-1 0h2m2 0h2m-2 0h2m-1 0h2m-2 0h2m0 0h2m-1 0h2m-2 0h2m0 0h2m-2 0h2m5 0h2m-2 0h2m-2 0h2m2 0h2m2 0h2m-2 0h2m-35 1h2m-2 0h2m0 0h2m6 0h2m-1 0h2m4 0h2m0 0h2m-2 0h2m4 0h2m1 0h2m-1 0h2m3 0h2m2 0h2m-42 1h2m3 0h2m-1 0h2m-1 0h2m2 0h2m-1 0h2m1 0h2m1 0h2m-1 0h2m3 0h2m1 0h2m1 0h2m0 0h2m0 0h2m-2 0h2m0 0h2m-2 0h2m-2 0h2m-1 0h2m-1 0h2m-33 1h2m1 0h2m4 0h2m-1 0h2m-2 0h2m-2 0h2m2 0h2m6 0h2m1 0h2m0 0h2m-1 0h2m-1 0h2m0 0h2m-38 1h2m6 0h2m8 0h2m5 0h2m1 0h2m2 0h2m1 0h2m-1 0h2m-38 1h2m2 0h2m-2 0h2m0 0h2m-1 0h2m9 0h2m-1 0h2m-1 0h2m7 0h2m-1 0h2m0 0h2m1 0h2m-1 0h2m-1 0h2m-34 1h2m-2 0h2m9 0h2m6 0h2m1 0h2m-2 0h2m0 0h2m0 0h2m0 0h2m-1 0h2m-2 0h2m-11 1h2m-1 0h2m-2 0h2m-1 0h2m5 0h2"/>
<path transform="scale(0.5)" fill="none" stroke="#50B0C8" stroke-width="2" d="M840 483h2m-19 1h2m10 2h2m-6 1h2m0 0h2m-8 1h2m-1 0h2m2 0h2m2 0h2m2 0h2m10 0h2m-18 1h2m12 0h2m-23 1h2m4 0h2m7 0h2m1 0h2m-25 1h2m0 0h2m3 0h2m-1 0h2m8 0h2m2 0h2m0 0h2m-1 0h2m1 0h2m-33 1h2m-1 0h2m7 0h2m2 0h2m5 0h2m11 0h2m-25 1h2m1 0h2m6 0h2m0 0h2m-26 1h2m-2 0h2m13 0h2m9 0h2m1 0h2m-1 0h2m3 0h2m-33 1h2m1 0h2m1 0h2m6 0h2m0 0h2m-18 1h2m-1 0h2m-2 0h2m13 0h2m0 0h2m10 0h2m1 0h2m-17 1h2m3 0h2m2 0h2m-9 1h2m-2 0h2m-1 0h2m-3 1h2m4 0h2"/>
<path transform="scale(0.5)" fill="none" stroke="#70C060" stroke-width="2" d="M834 485h2m1 0h2m3 0h2m-21 1h2m14 1h2m-7 1h2m16 0h2m-2 0h2m-18 1h2m5 0h2m-18 1h2m-1 0h2m1 0h2m11 0h2m-20 1h2m18 0h2m-20 1h2m0 0h2m8 0h2m-1 0h2m4 0h2m2 0h2m5 0h2m-26 1h2m-1 0h2m4 0h2m0 0h2m-6 1h2m0 0h2m1 0h2m12 0h2m-2 0h2m-14 1h2m-1 0h2m8 0h2m-3 1h2m0 0h2m-14 1h2m6 0h2m-10 2h2"/>
<path transform="scale(0.5)" fill="none" stroke="#D8D040" stroke-width="2" d="M835 487h2m1 0h2m-6 1h2m-1 0h2m3 0h2m0 0h2m-5 1h2m-1 0h2m0 0h2m11 0h2m-1 0h2m-19 1h2m3 0h2m5 0h2m-27 1h2m3 0h2m0 0h2m1 0h2m10 0h2m0 0h2m-2 0h2m-28 1h2m0 0h2m16 0h2m-1 0h2m-1 1h2m1 0h2m0 0h2m-28 1h2m18 0h2m2 0h2m-1 0h2m-28 1h2m0 0h2m17 0h2m5 0h2m-14 1h2m-1 0h2m0 0h2m-2 0h2m2 0h2m1 0h2m0 0h2m2 0h2m-3 1h2"/>
<path transform="scale(0.5)" fill="none" stroke="#E07030" stroke-width="2" d="M838 487h2m-1 0h2m-2 0h2m-1 1h2m-7 1h2m3 0h2m-2 0h2m11 0h2m-19 1h2m0 0h2m-2 0h2m0 0h2m12 0h2m-2 0h2m-30 1h2m9 0h2m-1 0h2m0 0h2m0 0h2m-1 0h2m9 0h2m-20 1h2m1 0h2m3 0h2m5 0h2m-1 0h2m-15 1h2m-2 0h2m-1 0h2m8 0h2m1 0h2m-17 1h2m1 0h2m1 0h2m-4 1h2"/>
<rect x="404.25" y="177.50" width="91.75" height="91.90" fill="none" stroke="#666" stroke-width="0.8"/>
<line x1="432.00" y1="177.50" x2="432.00" y2="269.40" stroke="#444" stroke-width="0.9"/>
<rect x="416.20" y="269.50" width="7.00" height="1.90" fill="#111"/>
<line x1="407.25" y1="269.40" x2="407.25" y2="270.30" stroke="#666" stroke-width="0.5"/>
<line x1="412.25" y1="269.40" x2="412.25" y2="270.30" stroke="#666" stroke-width="0.5"/>
<line x1="417.25" y1="269.40" x2="417.25" y2="270.30" stroke="#666" stroke-width="0.5"/>
<line x1="422.25" y1="269.40" x2="422.25" y2="270.30" stroke="#666" stroke-width="0.5"/>
<line x1="427.25" y1="269.40" x2="427.25" y2="270.30" stroke="#666" stroke-width="0.5"/>
<line x1="432.25" y1="269.40" x2="432.25" y2="270.30" stroke="#666" stroke-width="0.5"/>
<line x1="437.25" y1="269.40" x2="437.25" y2="270.30" stroke="#666" stroke-width="0.5"/>
<line x1="442.25" y1="269.40" x2="442.25" y2="270.30" stroke="#666" stroke-width="0.5"/>
<line x1="447.25" y1="269.40" x2="447.25" y2="270.30" stroke="#666" stroke-width="0.5"/>
<line x1="452.25" y1="269.40" x2="452.25" y2="270.30" stroke="#666" stroke-width="0.5"/>
<line x1="457.25" y1="269.40" x2="457.25" y2="270.30" stroke="#666" stroke-width="0.5"/>
<line x1="462.25" y1="269.40" x2="462.25" y2="270.30" stroke="#666" stroke-width="0.5"/>
<line x1="467.25" y1="269.40" x2="467.25" y2="270.30" stroke="#666" stroke-width="0.5"/>
<line x1="472.25" y1="269.40" x2="472.25" y2="270.30" stroke="#666" stroke-width="0.5"/>
<line x1="477.25" y1="269.40" x2="477.25" y2="270.30" stroke="#666" stroke-width="0.5"/>
<line x1="482.25" y1="269.40" x2="482.25" y2="270.30" stroke="#666" stroke-width="0.5"/>
<line x1="487.25" y1="269.40" x2="487.25" y2="270.30" stroke="#666" stroke-width="0.5"/>
<line x1="492.25" y1="269.40" x2="492.25" y2="270.30" stroke="#666" stroke-width="0.5"/>
<line x1="403.35" y1="192.00" x2="404.25" y2="192.00" stroke="#666" stroke-width="0.5"/>
<line x1="403.35" y1="196.00" x2="404.25" y2="196.00" stroke="#666" stroke-width="0.5"/>
<line x1="403.35" y1="199.00" x2="404.25" y2="199.00" stroke="#666" stroke-width="0.5"/>
<line x1="403.35" y1="203.00" x2="404.25" y2="203.00" stroke="#666" stroke-width="0.5"/>
<line x1="403.35" y1="214.00" x2="404.25" y2="214.00" stroke="#666" stroke-width="0.5"/>
<line x1="403.35" y1="218.00" x2="404.25" y2="218.00" stroke="#666" stroke-width="0.5"/>
<line x1="403.35" y1="221.00" x2="404.25" y2="221.00" stroke="#666" stroke-width="0.5"/>
<line x1="403.35" y1="225.00" x2="404.25" y2="225.00" stroke="#666" stroke-width="0.5"/>
<line x1="403.35" y1="238.00" x2="404.25" y2="238.00" stroke="#666" stroke-width="0.5"/>
<line x1="403.35" y1="242.00" x2="404.25" y2="242.00" stroke="#666" stroke-width="0.5"/>
<line x1="403.35" y1="245.00" x2="404.25" y2="245.00" stroke="#666" stroke-width="0.5"/>
<line x1="403.35" y1="252.00" x2="404.25" y2="252.00" stroke="#666" stroke-width="0.5"/>
<line x1="403.35" y1="256.00" x2="404.25" y2="256.00" stroke="#666" stroke-width="0.5"/>
<line x1="403.35" y1="259.00" x2="404.25" y2="259.00" stroke="#666" stroke-width="0.5"/>
<line x1="403.35" y1="262.00" x2="404.25" y2="262.00" stroke="#666" stroke-width="0.5"/>
<text x="494.00" y="189.00" font-size="7.6" text-anchor="end" textLength="40" lengthAdjust="spacingAndGlyphs">A647-Ann5+</text>
<text x="393.25" y="190.40" font-size="8.4" text-anchor="middle" fill="#222">10<tspan font-size="6.2" dy="-3.0">5</tspan></text>
<line x1="402.65" y1="187.50" x2="404.25" y2="187.50" stroke="#333" stroke-width="0.8"/>
<text x="393.25" y="212.40" font-size="8.4" text-anchor="middle" fill="#222">10<tspan font-size="6.2" dy="-3.0">4</tspan></text>
<line x1="402.65" y1="209.50" x2="404.25" y2="209.50" stroke="#333" stroke-width="0.8"/>
<text x="393.25" y="236.65" font-size="8.4" text-anchor="middle" fill="#222">10<tspan font-size="6.2" dy="-3.0">3</tspan></text>
<line x1="402.65" y1="233.75" x2="404.25" y2="233.75" stroke="#333" stroke-width="0.8"/>
<text x="394.75" y="251.65" font-size="8.4" text-anchor="middle">0</text>
<text x="391.75" y="267.90" font-size="8.4" text-anchor="middle" fill="#222">-10<tspan font-size="6.2" dy="-3.0">3</tspan></text>
<line x1="402.65" y1="248.75" x2="404.25" y2="248.75" stroke="#333" stroke-width="0.8"/>
<line x1="402.65" y1="265.00" x2="404.25" y2="265.00" stroke="#333" stroke-width="0.8"/>
<text x="420.00" y="282.30" font-size="8.4" text-anchor="middle">0</text>
<line x1="420.00" y1="269.40" x2="420.00" y2="271.00" stroke="#333" stroke-width="0.8"/>
<text x="444.20" y="282.30" font-size="8.4" text-anchor="middle" fill="#222">10<tspan font-size="6.2" dy="-3.0">3</tspan></text>
<line x1="443.00" y1="269.40" x2="443.00" y2="271.00" stroke="#333" stroke-width="0.8"/>
<text x="465.70" y="282.30" font-size="8.4" text-anchor="middle" fill="#222">10<tspan font-size="6.2" dy="-3.0">4</tspan></text>
<line x1="464.50" y1="269.40" x2="464.50" y2="271.00" stroke="#333" stroke-width="0.8"/>
<text x="487.45" y="282.30" font-size="8.4" text-anchor="middle" fill="#222">10<tspan font-size="6.2" dy="-3.0">5</tspan></text>
<line x1="486.25" y1="269.40" x2="486.25" y2="271.00" stroke="#333" stroke-width="0.8"/>
<text x="424.50" y="298.20" font-size="10" textLength="48.5" lengthAdjust="spacingAndGlyphs" stroke="#222" stroke-width="0.2">Annexin5-A647-A</text>
<rect x="402.45" y="246.50" width="1.60" height="5.00" fill="#111"/>
<text x="6.30" y="313.10" font-size="11.3" font-weight="bold" fill="#000">D</text>
<line x1="60.60" y1="331.00" x2="60.60" y2="417.80" stroke="#111" stroke-width="1.2"/>
<line x1="60.10" y1="417.30" x2="116.60" y2="417.30" stroke="#111" stroke-width="1.2"/>
<line x1="58.00" y1="333.30" x2="60.60" y2="333.30" stroke="#111" stroke-width="1"/>
<text x="54.00" y="336.45" font-size="8.9" text-anchor="end" textLength="26.75" lengthAdjust="spacingAndGlyphs">30000</text>
<line x1="58.00" y1="361.30" x2="60.60" y2="361.30" stroke="#111" stroke-width="1"/>
<text x="54.00" y="364.45" font-size="8.9" text-anchor="end" textLength="26.75" lengthAdjust="spacingAndGlyphs">20000</text>
<line x1="58.00" y1="389.30" x2="60.60" y2="389.30" stroke="#111" stroke-width="1"/>
<text x="54.00" y="392.45" font-size="8.9" text-anchor="end" textLength="26.75" lengthAdjust="spacingAndGlyphs">10000</text>
<line x1="58.00" y1="417.30" x2="60.60" y2="417.30" stroke="#111" stroke-width="1"/>
<text x="54.00" y="420.45" font-size="8.9" text-anchor="end" textLength="5.35" lengthAdjust="spacingAndGlyphs">0</text>
<line x1="59.10" y1="347.30" x2="60.60" y2="347.30" stroke="#111" stroke-width="0.9"/>
<line x1="59.10" y1="375.30" x2="60.60" y2="375.30" stroke="#111" stroke-width="0.9"/>
<line x1="59.10" y1="403.30" x2="60.60" y2="403.30" stroke="#111" stroke-width="0.9"/>
<text x="88.20" y="321.30" font-size="9.3" text-anchor="middle" textLength="36.3" lengthAdjust="spacingAndGlyphs">EV count</text>
<line x1="76.20" y1="417.30" x2="76.20" y2="419.90" stroke="#111" stroke-width="1"/>
<line x1="100.50" y1="417.30" x2="100.50" y2="419.90" stroke="#111" stroke-width="1"/>
<text x="76.20" y="430.10" font-size="8.2" text-anchor="middle" textLength="11.3" lengthAdjust="spacingAndGlyphs">BM</text>
<text x="100.50" y="430.10" font-size="8.2" text-anchor="middle" textLength="10.5" lengthAdjust="spacingAndGlyphs">PB</text>
<text x="22.40" y="374.00" font-size="10.2" text-anchor="middle" textLength="18.4" lengthAdjust="spacingAndGlyphs" transform="rotate(-90 22.40 374.00)">EV/µL</text>
<line x1="77.00" y1="334.00" x2="99.80" y2="334.00" stroke="#111" stroke-width="1.2"/>
<circle cx="88.40" cy="330.10" r="0.72" fill="#222"/>
<circle cx="70.00" cy="339.70" r="1.65" fill="#B0063A"/>
<circle cx="76.20" cy="342.40" r="1.65" fill="#B0063A"/>
<circle cx="76.20" cy="353.00" r="1.65" fill="#B0063A"/>
<circle cx="76.20" cy="360.80" r="1.65" fill="#B0063A"/>
<circle cx="76.20" cy="366.50" r="1.65" fill="#B0063A"/>
<circle cx="76.20" cy="378.00" r="1.65" fill="#B0063A"/>
<circle cx="76.20" cy="384.80" r="1.65" fill="#B0063A"/>
<circle cx="76.20" cy="391.00" r="1.65" fill="#B0063A"/>
<circle cx="76.20" cy="405.30" r="1.65" fill="#B0063A"/>
<circle cx="76.20" cy="410.90" r="1.65" fill="#B0063A"/>
<circle cx="100.30" cy="373.90" r="1.65" fill="#1E4B8E"/>
<circle cx="94.10" cy="384.10" r="1.65" fill="#1E4B8E"/>
<circle cx="100.60" cy="384.10" r="1.65" fill="#1E4B8E"/>
<circle cx="94.10" cy="390.20" r="1.65" fill="#1E4B8E"/>
<circle cx="100.60" cy="392.30" r="1.65" fill="#1E4B8E"/>
<circle cx="100.60" cy="397.50" r="1.65" fill="#1E4B8E"/>
<circle cx="94.10" cy="408.90" r="1.65" fill="#1E4B8E"/>
<circle cx="100.60" cy="409.70" r="1.65" fill="#1E4B8E"/>
<circle cx="106.80" cy="411.70" r="1.65" fill="#1E4B8E"/>
<circle cx="94.10" cy="413.50" r="1.65" fill="#1E4B8E"/>
<line x1="76.20" y1="348.30" x2="76.20" y2="398.30" stroke="#111" stroke-width="1.2"/>
<line x1="68.20" y1="373.40" x2="84.20" y2="373.40" stroke="#111" stroke-width="1.3"/>
<line x1="72.20" y1="348.30" x2="80.20" y2="348.30" stroke="#111" stroke-width="1.2"/>
<line x1="72.20" y1="398.30" x2="80.20" y2="398.30" stroke="#111" stroke-width="1.2"/>
<line x1="100.50" y1="382.50" x2="100.50" y2="409.70" stroke="#111" stroke-width="1.2"/>
<line x1="92.50" y1="396.40" x2="108.50" y2="396.40" stroke="#111" stroke-width="1.3"/>
<line x1="96.50" y1="382.50" x2="104.50" y2="382.50" stroke="#111" stroke-width="1.2"/>
<line x1="96.50" y1="409.70" x2="104.50" y2="409.70" stroke="#111" stroke-width="1.2"/>
<line x1="172.20" y1="331.20" x2="172.20" y2="417.80" stroke="#111" stroke-width="1.2"/>
<line x1="171.70" y1="417.30" x2="227.50" y2="417.30" stroke="#111" stroke-width="1.2"/>
<line x1="169.60" y1="333.80" x2="172.20" y2="333.80" stroke="#111" stroke-width="1"/>
<text x="166.30" y="336.95" font-size="8.9" text-anchor="end" textLength="26.75" lengthAdjust="spacingAndGlyphs">20000</text>
<line x1="169.60" y1="354.60" x2="172.20" y2="354.60" stroke="#111" stroke-width="1"/>
<text x="166.30" y="357.75" font-size="8.9" text-anchor="end" textLength="26.75" lengthAdjust="spacingAndGlyphs">15000</text>
<line x1="169.60" y1="375.50" x2="172.20" y2="375.50" stroke="#111" stroke-width="1"/>
<text x="166.30" y="378.65" font-size="8.9" text-anchor="end" textLength="26.75" lengthAdjust="spacingAndGlyphs">10000</text>
<line x1="169.60" y1="396.40" x2="172.20" y2="396.40" stroke="#111" stroke-width="1"/>
<text x="166.30" y="399.55" font-size="8.9" text-anchor="end" textLength="21.4" lengthAdjust="spacingAndGlyphs">5000</text>
<line x1="169.60" y1="417.30" x2="172.20" y2="417.30" stroke="#111" stroke-width="1"/>
<text x="166.30" y="420.45" font-size="8.9" text-anchor="end" textLength="5.35" lengthAdjust="spacingAndGlyphs">0</text>
<text x="200.00" y="321.30" font-size="9.3" text-anchor="middle" textLength="55" lengthAdjust="spacingAndGlyphs">CD41+ count</text>
<line x1="187.90" y1="417.30" x2="187.90" y2="419.90" stroke="#111" stroke-width="1"/>
<line x1="213.60" y1="417.30" x2="213.60" y2="419.90" stroke="#111" stroke-width="1"/>
<text x="187.90" y="430.10" font-size="8.2" text-anchor="middle" textLength="11.3" lengthAdjust="spacingAndGlyphs">BM</text>
<text x="213.60" y="430.10" font-size="8.2" text-anchor="middle" textLength="10.5" lengthAdjust="spacingAndGlyphs">PB</text>
<text x="134.20" y="374.00" font-size="10.2" text-anchor="middle" textLength="18.4" lengthAdjust="spacingAndGlyphs" transform="rotate(-90 134.20 374.00)">EV/µL</text>
<line x1="187.50" y1="333.30" x2="211.30" y2="333.30" stroke="#111" stroke-width="1.2"/>
<circle cx="199.40" cy="329.40" r="0.72" fill="#222"/>
<circle cx="188.00" cy="343.30" r="1.65" fill="#B0063A"/>
<circle cx="187.90" cy="373.60" r="1.65" fill="#B0063A"/>
<circle cx="187.90" cy="380.20" r="1.65" fill="#B0063A"/>
<circle cx="181.50" cy="390.00" r="1.65" fill="#B0063A"/>
<circle cx="187.90" cy="391.40" r="1.65" fill="#B0063A"/>
<circle cx="187.90" cy="399.80" r="1.65" fill="#B0063A"/>
<circle cx="187.90" cy="403.80" r="1.65" fill="#B0063A"/>
<circle cx="187.90" cy="410.20" r="1.65" fill="#B0063A"/>
<circle cx="194.20" cy="410.80" r="1.65" fill="#B0063A"/>
<circle cx="181.50" cy="413.30" r="1.65" fill="#B0063A"/>
<circle cx="213.60" cy="391.70" r="1.65" fill="#1E4B8E"/>
<circle cx="209.80" cy="404.40" r="1.65" fill="#1E4B8E"/>
<circle cx="205.50" cy="406.70" r="1.65" fill="#1E4B8E"/>
<circle cx="218.20" cy="406.40" r="1.65" fill="#1E4B8E"/>
<circle cx="205.50" cy="409.40" r="1.65" fill="#1E4B8E"/>
<circle cx="213.80" cy="409.40" r="1.65" fill="#1E4B8E"/>
<circle cx="205.50" cy="415.70" r="1.65" fill="#1E4B8E"/>
<circle cx="209.80" cy="414.50" r="1.65" fill="#1E4B8E"/>
<circle cx="213.80" cy="415.70" r="1.65" fill="#1E4B8E"/>
<circle cx="218.20" cy="414.80" r="1.65" fill="#1E4B8E"/>
<line x1="187.90" y1="370.20" x2="187.90" y2="413.30" stroke="#111" stroke-width="1.2"/>
<line x1="180.20" y1="391.40" x2="195.60" y2="391.40" stroke="#111" stroke-width="1.3"/>
<line x1="184.05" y1="370.20" x2="191.75" y2="370.20" stroke="#111" stroke-width="1.2"/>
<line x1="184.05" y1="413.30" x2="191.75" y2="413.30" stroke="#111" stroke-width="1.2"/>
<line x1="213.60" y1="401.30" x2="213.60" y2="415.20" stroke="#111" stroke-width="1.2"/>
<line x1="206.00" y1="409.00" x2="221.20" y2="409.00" stroke="#111" stroke-width="1.3"/>
<line x1="209.65" y1="401.30" x2="217.55" y2="401.30" stroke="#111" stroke-width="1.2"/>
<line x1="209.65" y1="415.20" x2="217.55" y2="415.20" stroke="#111" stroke-width="1.2"/>
<line x1="283.80" y1="331.20" x2="283.80" y2="417.80" stroke="#111" stroke-width="1.2"/>
<line x1="283.30" y1="417.30" x2="338.75" y2="417.30" stroke="#111" stroke-width="1.2"/>
<line x1="281.20" y1="333.80" x2="283.80" y2="333.80" stroke="#111" stroke-width="1"/>
<text x="277.80" y="336.95" font-size="8.9" text-anchor="end" textLength="26.75" lengthAdjust="spacingAndGlyphs">20000</text>
<line x1="281.20" y1="354.60" x2="283.80" y2="354.60" stroke="#111" stroke-width="1"/>
<text x="277.80" y="357.75" font-size="8.9" text-anchor="end" textLength="26.75" lengthAdjust="spacingAndGlyphs">15000</text>
<line x1="281.20" y1="375.50" x2="283.80" y2="375.50" stroke="#111" stroke-width="1"/>
<text x="277.80" y="378.65" font-size="8.9" text-anchor="end" textLength="26.75" lengthAdjust="spacingAndGlyphs">10000</text>
<line x1="281.20" y1="396.40" x2="283.80" y2="396.40" stroke="#111" stroke-width="1"/>
<text x="277.80" y="399.55" font-size="8.9" text-anchor="end" textLength="21.4" lengthAdjust="spacingAndGlyphs">5000</text>
<line x1="281.20" y1="417.30" x2="283.80" y2="417.30" stroke="#111" stroke-width="1"/>
<text x="277.80" y="420.45" font-size="8.9" text-anchor="end" textLength="5.35" lengthAdjust="spacingAndGlyphs">0</text>
<text x="311.40" y="321.30" font-size="9.3" text-anchor="middle" textLength="61.25" lengthAdjust="spacingAndGlyphs">CD62P+ count</text>
<line x1="299.30" y1="417.30" x2="299.30" y2="419.90" stroke="#111" stroke-width="1"/>
<line x1="323.75" y1="417.30" x2="323.75" y2="419.90" stroke="#111" stroke-width="1"/>
<text x="299.30" y="430.10" font-size="8.2" text-anchor="middle" textLength="11.3" lengthAdjust="spacingAndGlyphs">BM</text>
<text x="323.75" y="430.10" font-size="8.2" text-anchor="middle" textLength="10.5" lengthAdjust="spacingAndGlyphs">PB</text>
<text x="245.60" y="374.00" font-size="10.2" text-anchor="middle" textLength="18.4" lengthAdjust="spacingAndGlyphs" transform="rotate(-90 245.60 374.00)">EV/µL</text>
<line x1="299.50" y1="333.00" x2="322.50" y2="333.00" stroke="#111" stroke-width="1.2"/>
<circle cx="309.50" cy="329.10" r="0.72" fill="#222"/>
<circle cx="312.50" cy="329.10" r="0.72" fill="#222"/>
<circle cx="299.30" cy="349.25" r="1.65" fill="#B0063A"/>
<circle cx="299.30" cy="382.10" r="1.65" fill="#B0063A"/>
<circle cx="299.30" cy="385.90" r="1.65" fill="#B0063A"/>
<circle cx="299.30" cy="390.50" r="1.65" fill="#B0063A"/>
<circle cx="299.30" cy="396.00" r="1.65" fill="#B0063A"/>
<circle cx="299.30" cy="404.40" r="1.65" fill="#B0063A"/>
<circle cx="293.10" cy="406.30" r="1.65" fill="#B0063A"/>
<circle cx="305.50" cy="406.70" r="1.65" fill="#B0063A"/>
<circle cx="305.50" cy="412.10" r="1.65" fill="#B0063A"/>
<circle cx="293.10" cy="413.80" r="1.65" fill="#B0063A"/>
<circle cx="324.20" cy="405.50" r="1.65" fill="#1E4B8E"/>
<circle cx="321.70" cy="407.80" r="1.65" fill="#1E4B8E"/>
<circle cx="317.50" cy="412.00" r="1.65" fill="#1E4B8E"/>
<circle cx="323.00" cy="412.50" r="1.65" fill="#1E4B8E"/>
<circle cx="328.50" cy="412.30" r="1.65" fill="#1E4B8E"/>
<circle cx="316.50" cy="415.50" r="1.65" fill="#1E4B8E"/>
<circle cx="321.00" cy="415.80" r="1.65" fill="#1E4B8E"/>
<circle cx="326.00" cy="415.50" r="1.65" fill="#1E4B8E"/>
<circle cx="330.50" cy="415.30" r="1.65" fill="#1E4B8E"/>
<circle cx="319.00" cy="411.00" r="1.65" fill="#1E4B8E"/>
<line x1="299.30" y1="375.20" x2="299.30" y2="414.20" stroke="#111" stroke-width="1.2"/>
<line x1="291.50" y1="394.60" x2="307.10" y2="394.60" stroke="#111" stroke-width="1.3"/>
<line x1="295.55" y1="375.20" x2="303.05" y2="375.20" stroke="#111" stroke-width="1.2"/>
<line x1="295.55" y1="414.20" x2="303.05" y2="414.20" stroke="#111" stroke-width="1.2"/>
<line x1="323.75" y1="409.60" x2="323.75" y2="415.50" stroke="#111" stroke-width="1.2"/>
<line x1="316.25" y1="412.90" x2="331.25" y2="412.90" stroke="#111" stroke-width="1.3"/>
<line x1="320.25" y1="409.60" x2="327.25" y2="409.60" stroke="#111" stroke-width="1.2"/>
<line x1="320.25" y1="415.50" x2="327.25" y2="415.50" stroke="#111" stroke-width="1.2"/>
<line x1="392.50" y1="328.80" x2="392.50" y2="417.80" stroke="#111" stroke-width="1.2"/>
<line x1="392.00" y1="417.30" x2="449.50" y2="417.30" stroke="#111" stroke-width="1.2"/>
<line x1="389.90" y1="330.75" x2="392.50" y2="330.75" stroke="#111" stroke-width="1"/>
<text x="386.30" y="333.90" font-size="8.9" text-anchor="end" textLength="21.4" lengthAdjust="spacingAndGlyphs">6000</text>
<line x1="389.90" y1="359.60" x2="392.50" y2="359.60" stroke="#111" stroke-width="1"/>
<text x="386.30" y="362.75" font-size="8.9" text-anchor="end" textLength="21.4" lengthAdjust="spacingAndGlyphs">4000</text>
<line x1="389.90" y1="388.40" x2="392.50" y2="388.40" stroke="#111" stroke-width="1"/>
<text x="386.30" y="391.55" font-size="8.9" text-anchor="end" textLength="21.4" lengthAdjust="spacingAndGlyphs">2000</text>
<line x1="389.90" y1="417.30" x2="392.50" y2="417.30" stroke="#111" stroke-width="1"/>
<text x="386.30" y="420.45" font-size="8.9" text-anchor="end" textLength="5.35" lengthAdjust="spacingAndGlyphs">0</text>
<text x="421.20" y="321.30" font-size="9.3" text-anchor="middle" textLength="42.5" lengthAdjust="spacingAndGlyphs">PS+ count</text>
<line x1="408.75" y1="417.30" x2="408.75" y2="419.90" stroke="#111" stroke-width="1"/>
<line x1="433.25" y1="417.30" x2="433.25" y2="419.90" stroke="#111" stroke-width="1"/>
<text x="408.75" y="430.10" font-size="8.2" text-anchor="middle" textLength="11.3" lengthAdjust="spacingAndGlyphs">BM</text>
<text x="433.25" y="430.10" font-size="8.2" text-anchor="middle" textLength="10.5" lengthAdjust="spacingAndGlyphs">PB</text>
<text x="360.40" y="374.00" font-size="10.2" text-anchor="middle" textLength="18.4" lengthAdjust="spacingAndGlyphs" transform="rotate(-90 360.40 374.00)">EV/µL</text>
<line x1="409.25" y1="331.75" x2="433.00" y2="331.75" stroke="#111" stroke-width="1.2"/>
<circle cx="418.12" cy="327.85" r="0.72" fill="#222"/>
<circle cx="421.12" cy="327.85" r="0.72" fill="#222"/>
<circle cx="424.12" cy="327.85" r="0.72" fill="#222"/>
<circle cx="408.75" cy="341.25" r="1.65" fill="#B0063A"/>
<circle cx="408.75" cy="364.50" r="1.65" fill="#B0063A"/>
<circle cx="415.50" cy="383.70" r="1.65" fill="#B0063A"/>
<circle cx="408.60" cy="386.00" r="1.65" fill="#B0063A"/>
<circle cx="402.20" cy="393.50" r="1.65" fill="#B0063A"/>
<circle cx="408.60" cy="394.40" r="1.65" fill="#B0063A"/>
<circle cx="415.50" cy="394.40" r="1.65" fill="#B0063A"/>
<circle cx="408.60" cy="398.60" r="1.65" fill="#B0063A"/>
<circle cx="408.60" cy="406.70" r="1.65" fill="#B0063A"/>
<circle cx="433.30" cy="403.60" r="1.65" fill="#1E4B8E"/>
<circle cx="429.00" cy="412.00" r="1.65" fill="#1E4B8E"/>
<circle cx="435.40" cy="410.80" r="1.65" fill="#1E4B8E"/>
<circle cx="426.80" cy="415.20" r="1.65" fill="#1E4B8E"/>
<circle cx="431.00" cy="414.80" r="1.65" fill="#1E4B8E"/>
<circle cx="437.50" cy="413.50" r="1.65" fill="#1E4B8E"/>
<circle cx="440.50" cy="415.50" r="1.65" fill="#1E4B8E"/>
<circle cx="433.50" cy="416.00" r="1.65" fill="#1E4B8E"/>
<circle cx="428.50" cy="416.50" r="1.65" fill="#1E4B8E"/>
<line x1="408.75" y1="364.50" x2="408.75" y2="405.00" stroke="#111" stroke-width="1.2"/>
<line x1="400.75" y1="385.00" x2="416.75" y2="385.00" stroke="#111" stroke-width="1.3"/>
<line x1="404.75" y1="364.50" x2="412.75" y2="364.50" stroke="#111" stroke-width="1.2"/>
<line x1="404.75" y1="405.00" x2="412.75" y2="405.00" stroke="#111" stroke-width="1.2"/>
<line x1="433.25" y1="408.80" x2="433.25" y2="415.80" stroke="#111" stroke-width="1.2"/>
<line x1="425.25" y1="412.50" x2="441.25" y2="412.50" stroke="#111" stroke-width="1.3"/>
<line x1="429.25" y1="408.80" x2="437.25" y2="408.80" stroke="#111" stroke-width="1.2"/>
<line x1="429.25" y1="415.80" x2="437.25" y2="415.80" stroke="#111" stroke-width="1.2"/>
<text x="6.00" y="445.30" font-size="11.3" font-weight="bold" fill="#000">E</text>
<line x1="41.25" y1="463.50" x2="41.25" y2="518.50" stroke="#111" stroke-width="1.2"/>
<line x1="40.75" y1="518.00" x2="120.00" y2="518.00" stroke="#111" stroke-width="1.2"/>
<line x1="38.75" y1="466.25" x2="41.25" y2="466.25" stroke="#111" stroke-width="1"/>
<text x="36.30" y="469.10" font-size="8.0" text-anchor="end" textLength="9.1" lengthAdjust="spacingAndGlyphs">15</text>
<line x1="38.75" y1="483.50" x2="41.25" y2="483.50" stroke="#111" stroke-width="1"/>
<text x="36.30" y="486.35" font-size="8.0" text-anchor="end" textLength="9.1" lengthAdjust="spacingAndGlyphs">10</text>
<line x1="38.75" y1="500.75" x2="41.25" y2="500.75" stroke="#111" stroke-width="1"/>
<text x="36.30" y="503.60" font-size="8.0" text-anchor="end" textLength="4.55" lengthAdjust="spacingAndGlyphs">5</text>
<line x1="38.75" y1="518.00" x2="41.25" y2="518.00" stroke="#111" stroke-width="1"/>
<text x="36.30" y="520.85" font-size="8.0" text-anchor="end" textLength="4.55" lengthAdjust="spacingAndGlyphs">0</text>
<text x="22.60" y="491.70" font-size="9.6" text-anchor="middle" textLength="55.8" lengthAdjust="spacingAndGlyphs" transform="rotate(-90 22.60 491.70)" stroke="#222" stroke-width="0.2">% of CD41+ events</text>
<rect x="53.25" y="495.00" width="21.75" height="23.00" fill="#A5002F"/>
<line x1="64.12" y1="495.00" x2="64.12" y2="476.25" stroke="#444" stroke-width="1.1"/>
<line x1="59.52" y1="476.25" x2="68.72" y2="476.25" stroke="#444" stroke-width="1.1"/>
<line x1="64.12" y1="518.00" x2="64.12" y2="520.80" stroke="#111" stroke-width="1"/>
<rect x="87.00" y="508.25" width="21.75" height="9.75" fill="#2C4A7E"/>
<line x1="97.88" y1="508.25" x2="97.88" y2="500.00" stroke="#444" stroke-width="1.1"/>
<line x1="93.28" y1="500.00" x2="102.47" y2="500.00" stroke="#444" stroke-width="1.1"/>
<line x1="97.88" y1="518.00" x2="97.88" y2="520.80" stroke="#111" stroke-width="1"/>
<text x="64.12" y="530.90" font-size="8.2" text-anchor="middle" textLength="11.3" lengthAdjust="spacingAndGlyphs">BM</text>
<text x="97.88" y="530.90" font-size="8.2" text-anchor="middle" textLength="10.5" lengthAdjust="spacingAndGlyphs">PB</text>
<line x1="64.50" y1="465.50" x2="98.75" y2="465.50" stroke="#333" stroke-width="1.1"/>
<circle cx="81.62" cy="461.60" r="0.72" fill="#222"/>
<text x="36.75" y="454.30" font-size="9.4" textLength="88.25" lengthAdjust="spacingAndGlyphs">CD41+/CD62P-/PS+</text>
<text x="132.30" y="445.30" font-size="11.3" font-weight="bold" fill="#000">F</text>
<line x1="166.25" y1="463.00" x2="166.25" y2="518.50" stroke="#111" stroke-width="1.2"/>
<line x1="165.75" y1="518.00" x2="245.00" y2="518.00" stroke="#111" stroke-width="1.2"/>
<line x1="163.75" y1="465.00" x2="166.25" y2="465.00" stroke="#111" stroke-width="1"/>
<text x="161.30" y="467.85" font-size="8.0" text-anchor="end" textLength="9.1" lengthAdjust="spacingAndGlyphs">50</text>
<line x1="163.75" y1="475.60" x2="166.25" y2="475.60" stroke="#111" stroke-width="1"/>
<text x="161.30" y="478.45" font-size="8.0" text-anchor="end" textLength="9.1" lengthAdjust="spacingAndGlyphs">40</text>
<line x1="163.75" y1="486.20" x2="166.25" y2="486.20" stroke="#111" stroke-width="1"/>
<text x="161.30" y="489.05" font-size="8.0" text-anchor="end" textLength="9.1" lengthAdjust="spacingAndGlyphs">30</text>
<line x1="163.75" y1="496.80" x2="166.25" y2="496.80" stroke="#111" stroke-width="1"/>
<text x="161.30" y="499.65" font-size="8.0" text-anchor="end" textLength="9.1" lengthAdjust="spacingAndGlyphs">20</text>
<line x1="163.75" y1="507.40" x2="166.25" y2="507.40" stroke="#111" stroke-width="1"/>
<text x="161.30" y="510.25" font-size="8.0" text-anchor="end" textLength="9.1" lengthAdjust="spacingAndGlyphs">10</text>
<line x1="163.75" y1="518.00" x2="166.25" y2="518.00" stroke="#111" stroke-width="1"/>
<text x="161.30" y="520.85" font-size="8.0" text-anchor="end" textLength="4.55" lengthAdjust="spacingAndGlyphs">0</text>
<text x="147.00" y="491.70" font-size="9.6" text-anchor="middle" textLength="55.8" lengthAdjust="spacingAndGlyphs" transform="rotate(-90 147.00 491.70)" stroke="#222" stroke-width="0.2">% of CD41+ events</text>
<rect x="178.75" y="491.75" width="21.75" height="26.25" fill="#A5002F"/>
<line x1="189.62" y1="491.75" x2="189.62" y2="473.00" stroke="#444" stroke-width="1.1"/>
<line x1="185.03" y1="473.00" x2="194.22" y2="473.00" stroke="#444" stroke-width="1.1"/>
<line x1="189.62" y1="518.00" x2="189.62" y2="520.80" stroke="#111" stroke-width="1"/>
<rect x="212.00" y="510.75" width="21.75" height="7.25" fill="#2C4A7E"/>
<line x1="222.88" y1="510.75" x2="222.88" y2="506.25" stroke="#444" stroke-width="1.1"/>
<line x1="218.28" y1="506.25" x2="227.47" y2="506.25" stroke="#444" stroke-width="1.1"/>
<line x1="222.88" y1="518.00" x2="222.88" y2="520.80" stroke="#111" stroke-width="1"/>
<text x="189.62" y="530.90" font-size="8.2" text-anchor="middle" textLength="11.3" lengthAdjust="spacingAndGlyphs">BM</text>
<text x="222.88" y="530.90" font-size="8.2" text-anchor="middle" textLength="10.5" lengthAdjust="spacingAndGlyphs">PB</text>
<line x1="188.75" y1="465.00" x2="223.00" y2="465.00" stroke="#333" stroke-width="1.1"/>
<circle cx="202.88" cy="461.10" r="0.72" fill="#222"/>
<circle cx="205.88" cy="461.10" r="0.72" fill="#222"/>
<circle cx="208.88" cy="461.10" r="0.72" fill="#222"/>
<text x="160.00" y="454.30" font-size="9.4" textLength="92.5" lengthAdjust="spacingAndGlyphs">CD41+/CD62P+/PS+</text>
<text x="258.50" y="445.30" font-size="11.3" font-weight="bold" fill="#000">G</text>
<line x1="298.75" y1="463.75" x2="298.75" y2="518.50" stroke="#111" stroke-width="1.2"/>
<line x1="298.25" y1="518.00" x2="378.00" y2="518.00" stroke="#111" stroke-width="1.2"/>
<line x1="296.25" y1="466.25" x2="298.75" y2="466.25" stroke="#111" stroke-width="1"/>
<text x="293.80" y="469.10" font-size="8.0" text-anchor="end" textLength="13.649999999999999" lengthAdjust="spacingAndGlyphs">100</text>
<line x1="296.25" y1="476.60" x2="298.75" y2="476.60" stroke="#111" stroke-width="1"/>
<text x="293.80" y="479.45" font-size="8.0" text-anchor="end" textLength="9.1" lengthAdjust="spacingAndGlyphs">80</text>
<line x1="296.25" y1="487.00" x2="298.75" y2="487.00" stroke="#111" stroke-width="1"/>
<text x="293.80" y="489.85" font-size="8.0" text-anchor="end" textLength="9.1" lengthAdjust="spacingAndGlyphs">60</text>
<line x1="296.25" y1="497.30" x2="298.75" y2="497.30" stroke="#111" stroke-width="1"/>
<text x="293.80" y="500.15" font-size="8.0" text-anchor="end" textLength="9.1" lengthAdjust="spacingAndGlyphs">40</text>
<line x1="296.25" y1="507.70" x2="298.75" y2="507.70" stroke="#111" stroke-width="1"/>
<text x="293.80" y="510.55" font-size="8.0" text-anchor="end" textLength="9.1" lengthAdjust="spacingAndGlyphs">20</text>
<line x1="296.25" y1="518.00" x2="298.75" y2="518.00" stroke="#111" stroke-width="1"/>
<text x="293.80" y="520.85" font-size="8.0" text-anchor="end" textLength="4.55" lengthAdjust="spacingAndGlyphs">0</text>
<text x="275.50" y="491.70" font-size="9.6" text-anchor="middle" textLength="55.8" lengthAdjust="spacingAndGlyphs" transform="rotate(-90 275.50 491.70)" stroke="#222" stroke-width="0.2">% of CD41+ events</text>
<rect x="310.50" y="496.75" width="21.50" height="21.25" fill="#A5002F"/>
<line x1="321.25" y1="496.75" x2="321.25" y2="490.00" stroke="#444" stroke-width="1.1"/>
<line x1="316.65" y1="490.00" x2="325.85" y2="490.00" stroke="#444" stroke-width="1.1"/>
<line x1="321.25" y1="518.00" x2="321.25" y2="520.80" stroke="#111" stroke-width="1"/>
<rect x="344.50" y="482.00" width="21.25" height="36.00" fill="#2C4A7E"/>
<line x1="355.12" y1="482.00" x2="355.12" y2="476.25" stroke="#444" stroke-width="1.1"/>
<line x1="350.52" y1="476.25" x2="359.73" y2="476.25" stroke="#444" stroke-width="1.1"/>
<line x1="355.12" y1="518.00" x2="355.12" y2="520.80" stroke="#111" stroke-width="1"/>
<text x="321.25" y="530.90" font-size="8.2" text-anchor="middle" textLength="11.3" lengthAdjust="spacingAndGlyphs">BM</text>
<text x="355.12" y="530.90" font-size="8.2" text-anchor="middle" textLength="10.5" lengthAdjust="spacingAndGlyphs">PB</text>
<line x1="319.50" y1="465.75" x2="355.00" y2="465.75" stroke="#333" stroke-width="1.1"/>
<circle cx="334.25" cy="461.85" r="0.72" fill="#222"/>
<circle cx="337.25" cy="461.85" r="0.72" fill="#222"/>
<circle cx="340.25" cy="461.85" r="0.72" fill="#222"/>
<text x="295.50" y="454.30" font-size="9.4" textLength="83.25" lengthAdjust="spacingAndGlyphs">CD41+/CD62P-/PS-</text>
<text x="387.80" y="445.30" font-size="11.3" font-weight="bold" fill="#000">H</text>
<line x1="423.00" y1="463.00" x2="423.00" y2="518.50" stroke="#111" stroke-width="1.2"/>
<line x1="422.50" y1="518.00" x2="501.25" y2="518.00" stroke="#111" stroke-width="1.2"/>
<line x1="420.50" y1="465.75" x2="423.00" y2="465.75" stroke="#111" stroke-width="1"/>
<text x="417.50" y="468.60" font-size="8.0" text-anchor="end" textLength="9.1" lengthAdjust="spacingAndGlyphs">40</text>
<line x1="420.50" y1="478.80" x2="423.00" y2="478.80" stroke="#111" stroke-width="1"/>
<text x="417.50" y="481.65" font-size="8.0" text-anchor="end" textLength="9.1" lengthAdjust="spacingAndGlyphs">30</text>
<line x1="420.50" y1="491.90" x2="423.00" y2="491.90" stroke="#111" stroke-width="1"/>
<text x="417.50" y="494.75" font-size="8.0" text-anchor="end" textLength="9.1" lengthAdjust="spacingAndGlyphs">20</text>
<line x1="420.50" y1="505.00" x2="423.00" y2="505.00" stroke="#111" stroke-width="1"/>
<text x="417.50" y="507.85" font-size="8.0" text-anchor="end" textLength="9.1" lengthAdjust="spacingAndGlyphs">10</text>
<line x1="420.50" y1="518.00" x2="423.00" y2="518.00" stroke="#111" stroke-width="1"/>
<text x="417.50" y="520.85" font-size="8.0" text-anchor="end" textLength="4.55" lengthAdjust="spacingAndGlyphs">0</text>
<text x="402.00" y="491.70" font-size="9.6" text-anchor="middle" textLength="55.8" lengthAdjust="spacingAndGlyphs" transform="rotate(-90 402.00 491.70)" stroke="#222" stroke-width="0.2">% of CD41+ events</text>
<rect x="435.00" y="484.25" width="21.75" height="33.75" fill="#A5002F"/>
<line x1="445.88" y1="484.25" x2="445.88" y2="471.75" stroke="#444" stroke-width="1.1"/>
<line x1="441.27" y1="471.75" x2="450.48" y2="471.75" stroke="#444" stroke-width="1.1"/>
<line x1="445.88" y1="518.00" x2="445.88" y2="520.80" stroke="#111" stroke-width="1"/>
<rect x="468.25" y="493.00" width="21.75" height="25.00" fill="#2C4A7E"/>
<line x1="479.12" y1="493.00" x2="479.12" y2="485.50" stroke="#444" stroke-width="1.1"/>
<line x1="474.52" y1="485.50" x2="483.73" y2="485.50" stroke="#444" stroke-width="1.1"/>
<line x1="479.12" y1="518.00" x2="479.12" y2="520.80" stroke="#111" stroke-width="1"/>
<text x="445.88" y="530.90" font-size="8.2" text-anchor="middle" textLength="11.3" lengthAdjust="spacingAndGlyphs">BM</text>
<text x="479.12" y="530.90" font-size="8.2" text-anchor="middle" textLength="10.5" lengthAdjust="spacingAndGlyphs">PB</text>
<line x1="446.25" y1="466.25" x2="480.00" y2="466.25" stroke="#333" stroke-width="1.1"/>
<text x="463.12" y="464.05" font-size="7.0" text-anchor="middle" fill="#333">ns</text>
<text x="418.25" y="454.30" font-size="9.4" textLength="88.75" lengthAdjust="spacingAndGlyphs">CD41+/CD62P+/PS-</text>
<text x="9.80" y="545.30" font-size="11.3" font-weight="bold" fill="#000">I</text>
<text x="37.00" y="556.40" font-size="9.4" textLength="88.0" lengthAdjust="spacingAndGlyphs">CD41+/CD62P-/PS+</text>
<line x1="38.75" y1="576.00" x2="38.75" y2="633.00" stroke="#111" stroke-width="1.2"/>
<line x1="38.25" y1="632.50" x2="122.50" y2="632.50" stroke="#111" stroke-width="1.2"/>
<line x1="36.25" y1="578.75" x2="38.75" y2="578.75" stroke="#111" stroke-width="1"/>
<text x="33.80" y="581.75" font-size="8.4" text-anchor="end" textLength="12.899999999999999" lengthAdjust="spacingAndGlyphs">150</text>
<line x1="36.25" y1="596.75" x2="38.75" y2="596.75" stroke="#111" stroke-width="1"/>
<text x="33.80" y="599.75" font-size="8.4" text-anchor="end" textLength="12.899999999999999" lengthAdjust="spacingAndGlyphs">100</text>
<line x1="36.25" y1="614.60" x2="38.75" y2="614.60" stroke="#111" stroke-width="1"/>
<text x="33.80" y="617.60" font-size="8.4" text-anchor="end" textLength="8.6" lengthAdjust="spacingAndGlyphs">50</text>
<line x1="36.25" y1="632.50" x2="38.75" y2="632.50" stroke="#111" stroke-width="1"/>
<text x="33.80" y="635.50" font-size="8.4" text-anchor="end" textLength="4.3" lengthAdjust="spacingAndGlyphs">0</text>
<line x1="38.75" y1="632.50" x2="38.75" y2="635.00" stroke="#111" stroke-width="1"/>
<text x="38.75" y="646.10" font-size="8.4" text-anchor="middle" textLength="4.2" lengthAdjust="spacingAndGlyphs">0</text>
<line x1="59.10" y1="632.50" x2="59.10" y2="635.00" stroke="#111" stroke-width="1"/>
<text x="59.10" y="646.10" font-size="8.4" text-anchor="middle" textLength="12.600000000000001" lengthAdjust="spacingAndGlyphs">200</text>
<line x1="79.40" y1="632.50" x2="79.40" y2="635.00" stroke="#111" stroke-width="1"/>
<text x="79.40" y="646.10" font-size="8.4" text-anchor="middle" textLength="12.600000000000001" lengthAdjust="spacingAndGlyphs">400</text>
<line x1="99.70" y1="632.50" x2="99.70" y2="635.00" stroke="#111" stroke-width="1"/>
<text x="99.70" y="646.10" font-size="8.4" text-anchor="middle" textLength="12.600000000000001" lengthAdjust="spacingAndGlyphs">600</text>
<line x1="120.00" y1="632.50" x2="120.00" y2="635.00" stroke="#111" stroke-width="1"/>
<text x="120.00" y="646.10" font-size="8.4" text-anchor="middle" textLength="12.600000000000001" lengthAdjust="spacingAndGlyphs">800</text>
<text x="35.00" y="658.60" font-size="9.4" textLength="86.25" lengthAdjust="spacingAndGlyphs" stroke="#222" stroke-width="0.2">BM CD41+/CD62P-/PS+ EV/µL</text>
<text x="15.30" y="604.00" font-size="9.4" text-anchor="middle" textLength="93.0" lengthAdjust="spacingAndGlyphs" transform="rotate(-90 15.30 604.00)" stroke="#222" stroke-width="0.2">PB CD41+/CD62P-/PS+ EV/µL</text>
<text x="62.50" y="577.50" font-size="8.2" fill="#333" textLength="60" lengthAdjust="spacingAndGlyphs">Pearson r = 0,7303</text>
<text x="62.50" y="586.20" font-size="8.2" fill="#333" textLength="35.699999999999996" lengthAdjust="spacingAndGlyphs">p = 0.0165</text>
<circle cx="50.00" cy="627.00" r="1.25" fill="#C0102A"/>
<circle cx="53.00" cy="622.00" r="1.25" fill="#C0102A"/>
<circle cx="58.00" cy="623.00" r="1.25" fill="#C0102A"/>
<circle cx="60.00" cy="622.50" r="1.25" fill="#C0102A"/>
<circle cx="60.00" cy="627.00" r="1.25" fill="#C0102A"/>
<circle cx="69.50" cy="615.00" r="1.25" fill="#C0102A"/>
<circle cx="70.75" cy="620.75" r="1.25" fill="#C0102A"/>
<circle cx="75.00" cy="593.00" r="1.25" fill="#C0102A"/>
<circle cx="85.50" cy="616.25" r="1.25" fill="#C0102A"/>
<circle cx="107.50" cy="598.75" r="1.25" fill="#C0102A"/>
<line x1="50.00" y1="621.25" x2="107.50" y2="598.25" stroke="#2F5A9C" stroke-width="1.3"/>
<text x="134.30" y="545.30" font-size="11.3" font-weight="bold" fill="#000">J</text>
<text x="163.25" y="556.40" font-size="9.4" textLength="91.75" lengthAdjust="spacingAndGlyphs">CD41+/CD62P+/PS+</text>
<line x1="169.50" y1="578.00" x2="169.50" y2="632.50" stroke="#111" stroke-width="1.2"/>
<line x1="169.00" y1="632.00" x2="248.75" y2="632.00" stroke="#111" stroke-width="1.2"/>
<line x1="167.00" y1="580.50" x2="169.50" y2="580.50" stroke="#111" stroke-width="1"/>
<text x="163.80" y="583.50" font-size="8.4" text-anchor="end" textLength="17.2" lengthAdjust="spacingAndGlyphs">1000</text>
<line x1="167.00" y1="590.80" x2="169.50" y2="590.80" stroke="#111" stroke-width="1"/>
<text x="163.80" y="593.80" font-size="8.4" text-anchor="end" textLength="12.899999999999999" lengthAdjust="spacingAndGlyphs">800</text>
<line x1="167.00" y1="601.10" x2="169.50" y2="601.10" stroke="#111" stroke-width="1"/>
<text x="163.80" y="604.10" font-size="8.4" text-anchor="end" textLength="12.899999999999999" lengthAdjust="spacingAndGlyphs">600</text>
<line x1="167.00" y1="611.40" x2="169.50" y2="611.40" stroke="#111" stroke-width="1"/>
<text x="163.80" y="614.40" font-size="8.4" text-anchor="end" textLength="12.899999999999999" lengthAdjust="spacingAndGlyphs">400</text>
<line x1="167.00" y1="621.70" x2="169.50" y2="621.70" stroke="#111" stroke-width="1"/>
<text x="163.80" y="624.70" font-size="8.4" text-anchor="end" textLength="12.899999999999999" lengthAdjust="spacingAndGlyphs">200</text>
<line x1="167.00" y1="632.00" x2="169.50" y2="632.00" stroke="#111" stroke-width="1"/>
<text x="163.80" y="635.00" font-size="8.4" text-anchor="end" textLength="4.3" lengthAdjust="spacingAndGlyphs">0</text>
<line x1="169.50" y1="632.00" x2="169.50" y2="634.50" stroke="#111" stroke-width="1"/>
<text x="174.50" y="640.80" font-size="8.4" text-anchor="end" textLength="4.6" lengthAdjust="spacingAndGlyphs" transform="rotate(-45 174.50 640.80)">0</text>
<line x1="184.90" y1="632.00" x2="184.90" y2="634.50" stroke="#111" stroke-width="1"/>
<text x="189.90" y="640.80" font-size="8.4" text-anchor="end" textLength="18.4" lengthAdjust="spacingAndGlyphs" transform="rotate(-45 189.90 640.80)">1000</text>
<line x1="200.30" y1="632.00" x2="200.30" y2="634.50" stroke="#111" stroke-width="1"/>
<text x="205.30" y="640.80" font-size="8.4" text-anchor="end" textLength="18.4" lengthAdjust="spacingAndGlyphs" transform="rotate(-45 205.30 640.80)">2000</text>
<line x1="215.70" y1="632.00" x2="215.70" y2="634.50" stroke="#111" stroke-width="1"/>
<text x="220.70" y="640.80" font-size="8.4" text-anchor="end" textLength="18.4" lengthAdjust="spacingAndGlyphs" transform="rotate(-45 220.70 640.80)">3000</text>
<line x1="231.10" y1="632.00" x2="231.10" y2="634.50" stroke="#111" stroke-width="1"/>
<text x="236.10" y="640.80" font-size="8.4" text-anchor="end" textLength="18.4" lengthAdjust="spacingAndGlyphs" transform="rotate(-45 236.10 640.80)">4000</text>
<line x1="246.50" y1="632.00" x2="246.50" y2="634.50" stroke="#111" stroke-width="1"/>
<text x="251.50" y="640.80" font-size="8.4" text-anchor="end" textLength="18.4" lengthAdjust="spacingAndGlyphs" transform="rotate(-45 251.50 640.80)">5000</text>
<text x="162.00" y="667.00" font-size="9.4" textLength="93.0" lengthAdjust="spacingAndGlyphs" stroke="#222" stroke-width="0.2">BM CD41+/CD62P+/PS+ EV/µL</text>
<text x="139.00" y="605.00" font-size="9.4" text-anchor="middle" textLength="92.5" lengthAdjust="spacingAndGlyphs" transform="rotate(-90 139.00 605.00)" stroke="#222" stroke-width="0.2">PB CD41+/CD62P+/PS+ EV/µL</text>
<text x="189.25" y="579.50" font-size="8.2" fill="#333" textLength="60.25" lengthAdjust="spacingAndGlyphs">Pearson r = 0,8672</text>
<text x="189.25" y="588.20" font-size="8.2" fill="#333" textLength="35.699999999999996" lengthAdjust="spacingAndGlyphs">p = 0.0012</text>
<circle cx="174.50" cy="630.00" r="1.25" fill="#C0102A"/>
<circle cx="176.25" cy="629.50" r="1.25" fill="#C0102A"/>
<circle cx="178.50" cy="630.20" r="1.25" fill="#C0102A"/>
<circle cx="181.25" cy="626.75" r="1.25" fill="#C0102A"/>
<circle cx="181.25" cy="630.50" r="1.25" fill="#C0102A"/>
<circle cx="192.50" cy="627.50" r="1.25" fill="#C0102A"/>
<circle cx="203.75" cy="626.25" r="1.25" fill="#C0102A"/>
<circle cx="215.00" cy="622.00" r="1.25" fill="#C0102A"/>
<circle cx="232.00" cy="598.25" r="1.25" fill="#C0102A"/>
<line x1="175.00" y1="631.25" x2="232.00" y2="607.50" stroke="#2F5A9C" stroke-width="1.3"/>
<text x="260.80" y="545.30" font-size="11.3" font-weight="bold" fill="#000">K</text>
<text x="295.50" y="556.40" font-size="9.4" textLength="84.5" lengthAdjust="spacingAndGlyphs">CD41+/CD62P-/PS-</text>
<line x1="298.75" y1="578.00" x2="298.75" y2="632.50" stroke="#111" stroke-width="1.2"/>
<line x1="298.25" y1="632.00" x2="379.50" y2="632.00" stroke="#111" stroke-width="1.2"/>
<line x1="296.25" y1="580.50" x2="298.75" y2="580.50" stroke="#111" stroke-width="1"/>
<text x="292.50" y="583.50" font-size="8.4" text-anchor="end" textLength="18.2" lengthAdjust="spacingAndGlyphs">3000</text>
<line x1="296.25" y1="597.70" x2="298.75" y2="597.70" stroke="#111" stroke-width="1"/>
<text x="292.50" y="600.70" font-size="8.4" text-anchor="end" textLength="18.2" lengthAdjust="spacingAndGlyphs">2000</text>
<line x1="296.25" y1="614.80" x2="298.75" y2="614.80" stroke="#111" stroke-width="1"/>
<text x="292.50" y="617.80" font-size="8.4" text-anchor="end" textLength="18.2" lengthAdjust="spacingAndGlyphs">1000</text>
<line x1="296.25" y1="632.00" x2="298.75" y2="632.00" stroke="#111" stroke-width="1"/>
<text x="292.50" y="635.00" font-size="8.4" text-anchor="end" textLength="4.55" lengthAdjust="spacingAndGlyphs">0</text>
<line x1="298.75" y1="632.00" x2="298.75" y2="634.50" stroke="#111" stroke-width="1"/>
<text x="298.75" y="645.60" font-size="8.4" text-anchor="middle" textLength="4.2" lengthAdjust="spacingAndGlyphs">0</text>
<line x1="324.60" y1="632.00" x2="324.60" y2="634.50" stroke="#111" stroke-width="1"/>
<text x="324.60" y="645.60" font-size="8.4" text-anchor="middle" textLength="16.8" lengthAdjust="spacingAndGlyphs">2000</text>
<line x1="350.40" y1="632.00" x2="350.40" y2="634.50" stroke="#111" stroke-width="1"/>
<text x="350.40" y="645.60" font-size="8.4" text-anchor="middle" textLength="16.8" lengthAdjust="spacingAndGlyphs">4000</text>
<line x1="376.25" y1="632.00" x2="376.25" y2="634.50" stroke="#111" stroke-width="1"/>
<text x="376.25" y="645.60" font-size="8.4" text-anchor="middle" textLength="16.8" lengthAdjust="spacingAndGlyphs">6000</text>
<line x1="300.75" y1="633.30" x2="379.50" y2="633.30" stroke="#333" stroke-width="0.9" stroke-dasharray="0.8 1.8"/>
<text x="293.00" y="658.20" font-size="9.4" textLength="90.75" lengthAdjust="spacingAndGlyphs" stroke="#222" stroke-width="0.2">BM CD41+/CD62P-/PS- EV/µL</text>
<text x="269.00" y="604.00" font-size="9.4" text-anchor="middle" textLength="93.0" lengthAdjust="spacingAndGlyphs" transform="rotate(-90 269.00 604.00)" stroke="#222" stroke-width="0.2">PB CD41+/CD62P-/PS- EV/µL</text>
<text x="317.50" y="579.50" font-size="8.2" fill="#333" textLength="61.25" lengthAdjust="spacingAndGlyphs">Pearson r = 0,5314</text>
<text x="317.50" y="588.20" font-size="8.2" fill="#333" textLength="35.699999999999996" lengthAdjust="spacingAndGlyphs">p = 0.1139</text>
<circle cx="310.50" cy="583.75" r="1.25" fill="#C0102A"/>
<circle cx="334.50" cy="597.50" r="1.25" fill="#C0102A"/>
<circle cx="362.50" cy="588.00" r="1.25" fill="#C0102A"/>
<circle cx="366.75" cy="583.25" r="1.25" fill="#C0102A"/>
<circle cx="366.75" cy="595.00" r="1.25" fill="#C0102A"/>
<circle cx="315.00" cy="610.75" r="1.25" fill="#C0102A"/>
<circle cx="301.75" cy="626.25" r="1.25" fill="#C0102A"/>
<circle cx="306.25" cy="628.75" r="1.25" fill="#C0102A"/>
<circle cx="322.50" cy="625.50" r="1.25" fill="#C0102A"/>
<circle cx="353.75" cy="623.75" r="1.25" fill="#C0102A"/>
<line x1="302.00" y1="618.25" x2="366.25" y2="593.75" stroke="#2F5A9C" stroke-width="1.3"/>
<text x="391.80" y="545.30" font-size="11.3" font-weight="bold" fill="#000">L</text>
<text x="424.50" y="556.40" font-size="9.4" textLength="82.5" lengthAdjust="spacingAndGlyphs">CD41+/CD62P+/PS-</text>
<line x1="427.00" y1="576.00" x2="427.00" y2="632.90" stroke="#111" stroke-width="1.2"/>
<line x1="426.50" y1="632.40" x2="510.90" y2="632.40" stroke="#111" stroke-width="1.2"/>
<line x1="424.50" y1="578.60" x2="427.00" y2="578.60" stroke="#111" stroke-width="1"/>
<text x="421.30" y="581.60" font-size="8.4" text-anchor="end" textLength="17.2" lengthAdjust="spacingAndGlyphs">1500</text>
<line x1="424.50" y1="596.50" x2="427.00" y2="596.50" stroke="#111" stroke-width="1"/>
<text x="421.30" y="599.50" font-size="8.4" text-anchor="end" textLength="17.2" lengthAdjust="spacingAndGlyphs">1000</text>
<line x1="424.50" y1="614.50" x2="427.00" y2="614.50" stroke="#111" stroke-width="1"/>
<text x="421.30" y="617.50" font-size="8.4" text-anchor="end" textLength="12.899999999999999" lengthAdjust="spacingAndGlyphs">500</text>
<line x1="424.50" y1="632.40" x2="427.00" y2="632.40" stroke="#111" stroke-width="1"/>
<text x="421.30" y="635.40" font-size="8.4" text-anchor="end" textLength="4.3" lengthAdjust="spacingAndGlyphs">0</text>
<line x1="427.00" y1="632.40" x2="427.00" y2="634.90" stroke="#111" stroke-width="1"/>
<text x="432.00" y="641.20" font-size="8.4" text-anchor="end" textLength="4.6" lengthAdjust="spacingAndGlyphs" transform="rotate(-45 432.00 641.20)">0</text>
<line x1="447.50" y1="632.40" x2="447.50" y2="634.90" stroke="#111" stroke-width="1"/>
<text x="452.50" y="641.20" font-size="8.4" text-anchor="end" textLength="18.4" lengthAdjust="spacingAndGlyphs" transform="rotate(-45 452.50 641.20)">2000</text>
<line x1="468.00" y1="632.40" x2="468.00" y2="634.90" stroke="#111" stroke-width="1"/>
<text x="473.00" y="641.20" font-size="8.4" text-anchor="end" textLength="18.4" lengthAdjust="spacingAndGlyphs" transform="rotate(-45 473.00 641.20)">4000</text>
<line x1="488.50" y1="632.40" x2="488.50" y2="634.90" stroke="#111" stroke-width="1"/>
<text x="493.50" y="641.20" font-size="8.4" text-anchor="end" textLength="18.4" lengthAdjust="spacingAndGlyphs" transform="rotate(-45 493.50 641.20)">6000</text>
<line x1="509.00" y1="632.40" x2="509.00" y2="634.90" stroke="#111" stroke-width="1"/>
<text x="514.00" y="641.20" font-size="8.4" text-anchor="end" textLength="18.4" lengthAdjust="spacingAndGlyphs" transform="rotate(-45 514.00 641.20)">8000</text>
<text x="422.70" y="666.60" font-size="9.4" textLength="93.3" lengthAdjust="spacingAndGlyphs" stroke="#222" stroke-width="0.2">BM CD41+/CD62P+/PS- EV/µL</text>
<text x="399.50" y="604.40" font-size="9.4" text-anchor="middle" textLength="94.8" lengthAdjust="spacingAndGlyphs" transform="rotate(-90 399.50 604.40)" stroke="#222" stroke-width="0.2">PB CD41+/CD62P+/PS- EV/µL</text>
<text x="449.40" y="577.50" font-size="8.2" fill="#333" textLength="61.5" lengthAdjust="spacingAndGlyphs">Pearson r = 0,2955</text>
<text x="449.40" y="586.20" font-size="8.2" fill="#333" textLength="35.699999999999996" lengthAdjust="spacingAndGlyphs">p = 0.4071</text>
<circle cx="435.10" cy="597.80" r="1.25" fill="#C0102A"/>
<circle cx="435.60" cy="613.70" r="1.25" fill="#C0102A"/>
<circle cx="437.70" cy="618.60" r="1.25" fill="#C0102A"/>
<circle cx="441.60" cy="623.30" r="1.25" fill="#C0102A"/>
<circle cx="437.70" cy="627.20" r="1.25" fill="#C0102A"/>
<circle cx="427.80" cy="627.70" r="1.25" fill="#C0102A"/>
<circle cx="431.70" cy="628.50" r="1.25" fill="#C0102A"/>
<circle cx="462.90" cy="620.20" r="1.25" fill="#C0102A"/>
<circle cx="463.70" cy="627.20" r="1.25" fill="#C0102A"/>
<circle cx="490.10" cy="605.10" r="1.25" fill="#C0102A"/>
<line x1="429.10" y1="622.00" x2="490.90" y2="611.60" stroke="#2F5A9C" stroke-width="1.3"/></svg>
</body></html>
